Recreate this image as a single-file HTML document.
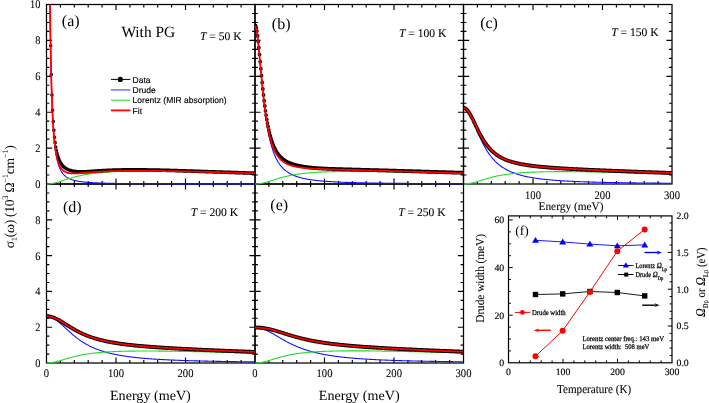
<!DOCTYPE html>
<html><head><meta charset="utf-8"><style>
html,body{margin:0;padding:0;background:#fff;}
body{width:709px;height:403px;overflow:hidden;}
svg{display:block;will-change:transform;}
text{text-rendering:geometricPrecision;}

</style></head><body>
<svg width="709" height="403" viewBox="0 0 709 403">
<defs><clipPath id="c00"><rect x="46.50" y="4.00" width="208.50" height="181.00"/></clipPath><clipPath id="c10"><rect x="255.00" y="4.00" width="208.50" height="181.00"/></clipPath><clipPath id="c20"><rect x="463.50" y="4.00" width="208.50" height="181.00"/></clipPath><clipPath id="c01"><rect x="46.50" y="183.50" width="208.50" height="180.50"/></clipPath><clipPath id="c11"><rect x="255.00" y="183.50" width="208.50" height="180.50"/></clipPath></defs>
<rect width="709" height="403" fill="#fff"/>
<rect x="46.50" y="4.50" width="208.50" height="179.50" fill="none" stroke="#000" stroke-width="1.25"/><path d="M60.40 184.00v-2.90M60.40 4.50v2.90M74.30 184.00v-2.90M74.30 4.50v2.90M88.20 184.00v-2.90M88.20 4.50v2.90M102.10 184.00v-2.90M102.10 4.50v2.90M116.00 184.00v-5.60M116.00 4.50v5.60M129.90 184.00v-2.90M129.90 4.50v2.90M143.80 184.00v-2.90M143.80 4.50v2.90M157.70 184.00v-2.90M157.70 4.50v2.90M171.60 184.00v-2.90M171.60 4.50v2.90M185.50 184.00v-5.60M185.50 4.50v5.60M199.40 184.00v-2.90M199.40 4.50v2.90M213.30 184.00v-2.90M213.30 4.50v2.90M227.20 184.00v-2.90M227.20 4.50v2.90M241.10 184.00v-2.90M241.10 4.50v2.90M46.50 175.03h2.90M255.00 175.03h-2.90M46.50 166.05h2.90M255.00 166.05h-2.90M46.50 157.07h2.90M255.00 157.07h-2.90M46.50 148.10h5.60M255.00 148.10h-5.60M46.50 139.12h2.90M255.00 139.12h-2.90M46.50 130.15h2.90M255.00 130.15h-2.90M46.50 121.17h2.90M255.00 121.17h-2.90M46.50 112.20h5.60M255.00 112.20h-5.60M46.50 103.22h2.90M255.00 103.22h-2.90M46.50 94.25h2.90M255.00 94.25h-2.90M46.50 85.28h2.90M255.00 85.28h-2.90M46.50 76.30h5.60M255.00 76.30h-5.60M46.50 67.33h2.90M255.00 67.33h-2.90M46.50 58.35h2.90M255.00 58.35h-2.90M46.50 49.38h2.90M255.00 49.38h-2.90M46.50 40.40h5.60M255.00 40.40h-5.60M46.50 31.43h2.90M255.00 31.43h-2.90M46.50 22.45h2.90M255.00 22.45h-2.90M46.50 13.47h2.90M255.00 13.47h-2.90" stroke="#000" stroke-width="1.15" fill="none"/>
<rect x="255.00" y="4.50" width="208.50" height="179.50" fill="none" stroke="#000" stroke-width="1.25"/><path d="M268.90 184.00v-2.90M268.90 4.50v2.90M282.80 184.00v-2.90M282.80 4.50v2.90M296.70 184.00v-2.90M296.70 4.50v2.90M310.60 184.00v-2.90M310.60 4.50v2.90M324.50 184.00v-5.60M324.50 4.50v5.60M338.40 184.00v-2.90M338.40 4.50v2.90M352.30 184.00v-2.90M352.30 4.50v2.90M366.20 184.00v-2.90M366.20 4.50v2.90M380.10 184.00v-2.90M380.10 4.50v2.90M394.00 184.00v-5.60M394.00 4.50v5.60M407.90 184.00v-2.90M407.90 4.50v2.90M421.80 184.00v-2.90M421.80 4.50v2.90M435.70 184.00v-2.90M435.70 4.50v2.90M449.60 184.00v-2.90M449.60 4.50v2.90M255.00 175.03h2.90M463.50 175.03h-2.90M255.00 166.05h2.90M463.50 166.05h-2.90M255.00 157.07h2.90M463.50 157.07h-2.90M255.00 148.10h5.60M463.50 148.10h-5.60M255.00 139.12h2.90M463.50 139.12h-2.90M255.00 130.15h2.90M463.50 130.15h-2.90M255.00 121.17h2.90M463.50 121.17h-2.90M255.00 112.20h5.60M463.50 112.20h-5.60M255.00 103.22h2.90M463.50 103.22h-2.90M255.00 94.25h2.90M463.50 94.25h-2.90M255.00 85.28h2.90M463.50 85.28h-2.90M255.00 76.30h5.60M463.50 76.30h-5.60M255.00 67.33h2.90M463.50 67.33h-2.90M255.00 58.35h2.90M463.50 58.35h-2.90M255.00 49.38h2.90M463.50 49.38h-2.90M255.00 40.40h5.60M463.50 40.40h-5.60M255.00 31.43h2.90M463.50 31.43h-2.90M255.00 22.45h2.90M463.50 22.45h-2.90M255.00 13.47h2.90M463.50 13.47h-2.90" stroke="#000" stroke-width="1.15" fill="none"/>
<rect x="463.50" y="4.50" width="208.50" height="179.50" fill="none" stroke="#000" stroke-width="1.25"/><path d="M477.40 184.00v-2.90M477.40 4.50v2.90M491.30 184.00v-2.90M491.30 4.50v2.90M505.20 184.00v-2.90M505.20 4.50v2.90M519.10 184.00v-2.90M519.10 4.50v2.90M533.00 184.00v-5.60M533.00 4.50v5.60M546.90 184.00v-2.90M546.90 4.50v2.90M560.80 184.00v-2.90M560.80 4.50v2.90M574.70 184.00v-2.90M574.70 4.50v2.90M588.60 184.00v-2.90M588.60 4.50v2.90M602.50 184.00v-5.60M602.50 4.50v5.60M616.40 184.00v-2.90M616.40 4.50v2.90M630.30 184.00v-2.90M630.30 4.50v2.90M644.20 184.00v-2.90M644.20 4.50v2.90M658.10 184.00v-2.90M658.10 4.50v2.90M463.50 175.03h2.90M672.00 175.03h-2.90M463.50 166.05h2.90M672.00 166.05h-2.90M463.50 157.07h2.90M672.00 157.07h-2.90M463.50 148.10h5.60M672.00 148.10h-5.60M463.50 139.12h2.90M672.00 139.12h-2.90M463.50 130.15h2.90M672.00 130.15h-2.90M463.50 121.17h2.90M672.00 121.17h-2.90M463.50 112.20h5.60M672.00 112.20h-5.60M463.50 103.22h2.90M672.00 103.22h-2.90M463.50 94.25h2.90M672.00 94.25h-2.90M463.50 85.28h2.90M672.00 85.28h-2.90M463.50 76.30h5.60M672.00 76.30h-5.60M463.50 67.33h2.90M672.00 67.33h-2.90M463.50 58.35h2.90M672.00 58.35h-2.90M463.50 49.38h2.90M672.00 49.38h-2.90M463.50 40.40h5.60M672.00 40.40h-5.60M463.50 31.43h2.90M672.00 31.43h-2.90M463.50 22.45h2.90M672.00 22.45h-2.90M463.50 13.47h2.90M672.00 13.47h-2.90" stroke="#000" stroke-width="1.15" fill="none"/>
<rect x="46.50" y="184.00" width="208.50" height="179.00" fill="none" stroke="#000" stroke-width="1.25"/><path d="M60.40 363.00v-2.90M60.40 184.00v2.90M74.30 363.00v-2.90M74.30 184.00v2.90M88.20 363.00v-2.90M88.20 184.00v2.90M102.10 363.00v-2.90M102.10 184.00v2.90M116.00 363.00v-5.60M116.00 184.00v5.60M129.90 363.00v-2.90M129.90 184.00v2.90M143.80 363.00v-2.90M143.80 184.00v2.90M157.70 363.00v-2.90M157.70 184.00v2.90M171.60 363.00v-2.90M171.60 184.00v2.90M185.50 363.00v-5.60M185.50 184.00v5.60M199.40 363.00v-2.90M199.40 184.00v2.90M213.30 363.00v-2.90M213.30 184.00v2.90M227.20 363.00v-2.90M227.20 184.00v2.90M241.10 363.00v-2.90M241.10 184.00v2.90M46.50 354.05h2.90M255.00 354.05h-2.90M46.50 345.10h2.90M255.00 345.10h-2.90M46.50 336.15h2.90M255.00 336.15h-2.90M46.50 327.20h5.60M255.00 327.20h-5.60M46.50 318.25h2.90M255.00 318.25h-2.90M46.50 309.30h2.90M255.00 309.30h-2.90M46.50 300.35h2.90M255.00 300.35h-2.90M46.50 291.40h5.60M255.00 291.40h-5.60M46.50 282.45h2.90M255.00 282.45h-2.90M46.50 273.50h2.90M255.00 273.50h-2.90M46.50 264.55h2.90M255.00 264.55h-2.90M46.50 255.60h5.60M255.00 255.60h-5.60M46.50 246.65h2.90M255.00 246.65h-2.90M46.50 237.70h2.90M255.00 237.70h-2.90M46.50 228.75h2.90M255.00 228.75h-2.90M46.50 219.80h5.60M255.00 219.80h-5.60M46.50 210.85h2.90M255.00 210.85h-2.90M46.50 201.90h2.90M255.00 201.90h-2.90M46.50 192.95h2.90M255.00 192.95h-2.90" stroke="#000" stroke-width="1.15" fill="none"/>
<rect x="255.00" y="184.00" width="208.50" height="179.00" fill="none" stroke="#000" stroke-width="1.25"/><path d="M268.90 363.00v-2.90M268.90 184.00v2.90M282.80 363.00v-2.90M282.80 184.00v2.90M296.70 363.00v-2.90M296.70 184.00v2.90M310.60 363.00v-2.90M310.60 184.00v2.90M324.50 363.00v-5.60M324.50 184.00v5.60M338.40 363.00v-2.90M338.40 184.00v2.90M352.30 363.00v-2.90M352.30 184.00v2.90M366.20 363.00v-2.90M366.20 184.00v2.90M380.10 363.00v-2.90M380.10 184.00v2.90M394.00 363.00v-5.60M394.00 184.00v5.60M407.90 363.00v-2.90M407.90 184.00v2.90M421.80 363.00v-2.90M421.80 184.00v2.90M435.70 363.00v-2.90M435.70 184.00v2.90M449.60 363.00v-2.90M449.60 184.00v2.90M255.00 354.05h2.90M463.50 354.05h-2.90M255.00 345.10h2.90M463.50 345.10h-2.90M255.00 336.15h2.90M463.50 336.15h-2.90M255.00 327.20h5.60M463.50 327.20h-5.60M255.00 318.25h2.90M463.50 318.25h-2.90M255.00 309.30h2.90M463.50 309.30h-2.90M255.00 300.35h2.90M463.50 300.35h-2.90M255.00 291.40h5.60M463.50 291.40h-5.60M255.00 282.45h2.90M463.50 282.45h-2.90M255.00 273.50h2.90M463.50 273.50h-2.90M255.00 264.55h2.90M463.50 264.55h-2.90M255.00 255.60h5.60M463.50 255.60h-5.60M255.00 246.65h2.90M463.50 246.65h-2.90M255.00 237.70h2.90M463.50 237.70h-2.90M255.00 228.75h2.90M463.50 228.75h-2.90M255.00 219.80h5.60M463.50 219.80h-5.60M255.00 210.85h2.90M463.50 210.85h-2.90M255.00 201.90h2.90M463.50 201.90h-2.90M255.00 192.95h2.90M463.50 192.95h-2.90" stroke="#000" stroke-width="1.15" fill="none"/>
<g clip-path="url(#c00)">
<polyline points="49.96,4.50 49.98,5.54 50.32,30.25 50.67,50.49 51.02,67.21 51.37,81.12 51.71,92.79 52.06,102.65 52.41,111.05 52.76,118.25 53.10,124.46 53.45,129.85 53.80,134.56 54.14,138.69 54.49,142.33 54.84,145.56 55.19,148.43 55.53,151.00 55.88,153.30 56.23,155.37 56.58,157.24 56.92,158.94 57.27,160.48 57.62,161.89 57.97,163.17 58.31,164.35 58.66,165.43 59.01,166.42 59.36,167.34 59.70,168.18 60.05,168.97 60.40,169.70 60.75,170.37 61.09,171.00 61.44,171.59 61.79,172.14 62.14,172.65 62.48,173.14 62.83,173.59 63.18,174.01 63.53,174.41 63.88,174.78 64.22,175.14 64.57,175.47 64.92,175.79 65.27,176.09 65.61,176.37 65.96,176.64 66.31,176.89 66.66,177.13 67.00,177.36 67.35,177.58 67.70,177.78 68.05,177.98 68.39,178.17 68.74,178.35 69.09,178.52 69.44,178.68 69.78,178.84 70.13,178.99 70.48,179.13 70.83,179.27 71.17,179.40 71.52,179.53 71.87,179.65 72.22,179.76 72.56,179.88 72.91,179.98 73.26,180.09 73.61,180.19 73.95,180.28 74.30,180.37 74.65,180.46 75.00,180.55 75.34,180.63 75.69,180.71 76.04,180.79 76.39,180.86 76.73,180.93 77.08,181.00 77.43,181.07 77.78,181.13 78.12,181.19 78.47,181.25 78.82,181.31 79.16,181.37 79.51,181.42 79.86,181.48 80.21,181.53 80.56,181.58 80.90,181.63 81.25,181.67 81.60,181.72 81.94,181.76 82.29,181.81 82.64,181.85 82.99,181.89 83.34,181.93 83.68,181.97 84.03,182.01 84.38,182.04 84.72,182.08 85.07,182.11 85.42,182.15 85.77,182.18 86.12,182.21 86.46,182.24 86.81,182.27 87.16,182.30 87.50,182.33 87.85,182.36 88.20,182.38 88.55,182.41 88.90,182.44 89.24,182.46 89.59,182.49 89.94,182.51 90.28,182.53 90.63,182.56 90.98,182.58 91.33,182.60 91.67,182.62 92.02,182.64 92.37,182.66 92.72,182.68 93.06,182.70 93.41,182.72 93.76,182.74 94.11,182.76 94.45,182.78 94.80,182.79 95.15,182.81 95.50,182.83 95.84,182.85 96.19,182.86 96.54,182.88 96.89,182.89 97.23,182.91 97.58,182.92 97.93,182.94 98.28,182.95 98.62,182.96 98.97,182.98 99.32,182.99 99.67,183.00 100.02,183.02 100.36,183.03 100.71,183.04 101.06,183.05 101.41,183.07 101.75,183.08 102.10,183.09 102.45,183.10 102.80,183.11 103.14,183.12 103.49,183.13 103.84,183.14 104.19,183.15 104.53,183.16 104.88,183.17 105.23,183.18 105.58,183.19 105.92,183.20 106.27,183.21 106.62,183.22 106.97,183.23 107.31,183.24 107.66,183.25 108.01,183.26 108.35,183.26 108.70,183.27 109.05,183.28 109.40,183.29 109.75,183.30 110.09,183.30 110.44,183.31 110.79,183.32 111.14,183.33 111.48,183.33 111.83,183.34 112.18,183.35 112.53,183.35 112.87,183.36 113.22,183.37 113.57,183.37 113.92,183.38 114.26,183.39 114.61,183.39 114.96,183.40 115.31,183.41 115.65,183.41 116.00,183.42 116.35,183.42 116.69,183.43 117.04,183.43 117.39,183.44 117.74,183.45 118.08,183.45 118.43,183.46 118.78,183.46 119.13,183.47 119.47,183.47 119.82,183.48 120.17,183.48 120.52,183.49 120.86,183.49 121.21,183.50 121.56,183.50 121.91,183.51 122.25,183.51 122.60,183.51 122.95,183.52 123.30,183.52 123.64,183.53 123.99,183.53 124.34,183.54 124.69,183.54 125.03,183.54 125.38,183.55 125.73,183.55 126.08,183.56 126.42,183.56 126.77,183.56 127.12,183.57 127.47,183.57 127.81,183.57 128.16,183.58 128.51,183.58 128.86,183.59 129.20,183.59 129.55,183.59 129.90,183.60 130.25,183.60 130.59,183.60 130.94,183.61 131.29,183.61 131.64,183.61 131.99,183.61 132.33,183.62 132.68,183.62 133.03,183.62 133.38,183.63 133.72,183.63 134.07,183.63 134.42,183.64 134.76,183.64 135.11,183.64 135.46,183.64 135.81,183.65 136.16,183.65 136.50,183.65 136.85,183.66 137.20,183.66 137.55,183.66 137.89,183.66 138.24,183.67 138.59,183.67 138.94,183.67 139.28,183.67 139.63,183.68 139.98,183.68 140.32,183.68 140.67,183.68 141.02,183.68 141.37,183.69 141.72,183.69 142.06,183.69 142.41,183.69 142.76,183.70 143.11,183.70 143.45,183.70 143.80,183.70 144.15,183.70 144.50,183.71 144.84,183.71 145.19,183.71 145.54,183.71 145.88,183.71 146.23,183.72 146.58,183.72 146.93,183.72 147.28,183.72 147.62,183.72 147.97,183.73 148.32,183.73 148.67,183.73 149.01,183.73 149.36,183.73 149.71,183.74 150.06,183.74 150.40,183.74 150.75,183.74 151.10,183.74 151.44,183.74 151.79,183.75 152.14,183.75 152.49,183.75 152.83,183.75 153.18,183.75 153.53,183.75 153.88,183.76 154.22,183.76 154.57,183.76 154.92,183.76 155.27,183.76 155.62,183.76 155.96,183.77 156.31,183.77 156.66,183.77 157.00,183.77 157.35,183.77 157.70,183.77 158.05,183.77 158.39,183.78 158.74,183.78 159.09,183.78 159.44,183.78 159.78,183.78 160.13,183.78 160.48,183.78 160.83,183.78 161.18,183.79 161.52,183.79 161.87,183.79 162.22,183.79 162.56,183.79 162.91,183.79 163.26,183.79 163.61,183.79 163.95,183.80 164.30,183.80 164.65,183.80 165.00,183.80 165.34,183.80 165.69,183.80 166.04,183.80 166.39,183.80 166.74,183.81 167.08,183.81 167.43,183.81 167.78,183.81 168.12,183.81 168.47,183.81 168.82,183.81 169.17,183.81 169.51,183.81 169.86,183.81 170.21,183.82 170.56,183.82 170.91,183.82 171.25,183.82 171.60,183.82 171.95,183.82 172.30,183.82 172.64,183.82 172.99,183.82 173.34,183.82 173.69,183.83 174.03,183.83 174.38,183.83 174.73,183.83 175.07,183.83 175.42,183.83 175.77,183.83 176.12,183.83 176.47,183.83 176.81,183.83 177.16,183.84 177.51,183.84 177.85,183.84 178.20,183.84 178.55,183.84 178.90,183.84 179.25,183.84 179.59,183.84 179.94,183.84 180.29,183.84 180.63,183.84 180.98,183.84 181.33,183.85 181.68,183.85 182.03,183.85 182.37,183.85 182.72,183.85 183.07,183.85 183.41,183.85 183.76,183.85 184.11,183.85 184.46,183.85 184.81,183.85 185.15,183.85 185.50,183.85 185.85,183.85 186.19,183.86 186.54,183.86 186.89,183.86 187.24,183.86 187.59,183.86 187.93,183.86 188.28,183.86 188.63,183.86 188.97,183.86 189.32,183.86 189.67,183.86 190.02,183.86 190.37,183.86 190.71,183.86 191.06,183.87 191.41,183.87 191.75,183.87 192.10,183.87 192.45,183.87 192.80,183.87 193.15,183.87 193.49,183.87 193.84,183.87 194.19,183.87 194.53,183.87 194.88,183.87 195.23,183.87 195.58,183.87 195.93,183.87 196.27,183.87 196.62,183.88 196.97,183.88 197.31,183.88 197.66,183.88 198.01,183.88 198.36,183.88 198.71,183.88 199.05,183.88 199.40,183.88 199.75,183.88 200.09,183.88 200.44,183.88 200.79,183.88 201.14,183.88 201.49,183.88 201.83,183.88 202.18,183.88 202.53,183.88 202.88,183.88 203.22,183.89 203.57,183.89 203.92,183.89 204.26,183.89 204.61,183.89 204.96,183.89 205.31,183.89 205.66,183.89 206.00,183.89 206.35,183.89 206.70,183.89 207.04,183.89 207.39,183.89 207.74,183.89 208.09,183.89 208.44,183.89 208.78,183.89 209.13,183.89 209.48,183.89 209.82,183.89 210.17,183.89 210.52,183.90 210.87,183.90 211.22,183.90 211.56,183.90 211.91,183.90 212.26,183.90 212.60,183.90 212.95,183.90 213.30,183.90 213.65,183.90 214.00,183.90 214.34,183.90 214.69,183.90 215.04,183.90 215.38,183.90 215.73,183.90 216.08,183.90 216.43,183.90 216.78,183.90 217.12,183.90 217.47,183.90 217.82,183.90 218.16,183.90 218.51,183.90 218.86,183.91 219.21,183.91 219.56,183.91 219.90,183.91 220.25,183.91 220.60,183.91 220.94,183.91 221.29,183.91 221.64,183.91 221.99,183.91 222.34,183.91 222.68,183.91 223.03,183.91 223.38,183.91 223.72,183.91 224.07,183.91 224.42,183.91 224.77,183.91 225.12,183.91 225.46,183.91 225.81,183.91 226.16,183.91 226.50,183.91 226.85,183.91 227.20,183.91 227.55,183.91 227.90,183.91 228.24,183.91 228.59,183.92 228.94,183.92 229.28,183.92 229.63,183.92 229.98,183.92 230.33,183.92 230.68,183.92 231.02,183.92 231.37,183.92 231.72,183.92 232.06,183.92 232.41,183.92 232.76,183.92 233.11,183.92 233.46,183.92 233.80,183.92 234.15,183.92 234.50,183.92 234.84,183.92 235.19,183.92 235.54,183.92 235.89,183.92 236.24,183.92 236.58,183.92 236.93,183.92 237.28,183.92 237.62,183.92 237.97,183.92 238.32,183.92 238.67,183.92 239.01,183.92 239.36,183.92 239.71,183.92 240.06,183.92 240.41,183.93 240.75,183.93 241.10,183.93 241.45,183.93 241.79,183.93 242.14,183.93 242.49,183.93 242.84,183.93 243.19,183.93 243.53,183.93 243.88,183.93 244.23,183.93 244.57,183.93 244.92,183.93 245.27,183.93 245.62,183.93 245.97,183.93 246.31,183.93 246.66,183.93 247.01,183.93 247.35,183.93 247.70,183.93 248.05,183.93 248.40,183.93 248.75,183.93 249.09,183.93 249.44,183.93 249.79,183.93 250.13,183.93 250.48,183.93 250.83,183.93 251.18,183.93 251.53,183.93 251.87,183.93 252.22,183.93 252.57,183.93 252.91,183.93 253.26,183.93 253.61,183.93 253.96,183.93 254.31,183.93 254.65,183.94 255.00,183.94" fill="none" stroke="#1010ff" stroke-width="1.1"/>
<polyline points="46.50,184.00 46.85,184.00 47.20,183.99 47.54,183.98 47.89,183.97 48.24,183.95 48.59,183.93 48.93,183.90 49.28,183.87 49.63,183.84 49.98,183.80 50.32,183.76 50.67,183.72 51.02,183.67 51.37,183.62 51.71,183.56 52.06,183.51 52.41,183.45 52.76,183.38 53.10,183.31 53.45,183.24 53.80,183.17 54.14,183.09 54.49,183.01 54.84,182.93 55.19,182.85 55.53,182.76 55.88,182.67 56.23,182.58 56.58,182.49 56.92,182.40 57.27,182.30 57.62,182.20 57.97,182.10 58.31,182.00 58.66,181.90 59.01,181.79 59.36,181.69 59.70,181.58 60.05,181.47 60.40,181.36 60.75,181.25 61.09,181.14 61.44,181.03 61.79,180.92 62.14,180.81 62.48,180.70 62.83,180.59 63.18,180.47 63.53,180.36 63.88,180.25 64.22,180.13 64.57,180.02 64.92,179.91 65.27,179.79 65.61,179.68 65.96,179.57 66.31,179.46 66.66,179.35 67.00,179.23 67.35,179.12 67.70,179.01 68.05,178.90 68.39,178.79 68.74,178.69 69.09,178.58 69.44,178.47 69.78,178.37 70.13,178.26 70.48,178.16 70.83,178.05 71.17,177.95 71.52,177.85 71.87,177.75 72.22,177.65 72.56,177.55 72.91,177.45 73.26,177.35 73.61,177.26 73.95,177.16 74.30,177.07 74.65,176.97 75.00,176.88 75.34,176.79 75.69,176.70 76.04,176.61 76.39,176.52 76.73,176.43 77.08,176.35 77.43,176.26 77.78,176.18 78.12,176.10 78.47,176.01 78.82,175.93 79.16,175.85 79.51,175.78 79.86,175.70 80.21,175.62 80.56,175.54 80.90,175.47 81.25,175.40 81.60,175.32 81.94,175.25 82.29,175.18 82.64,175.11 82.99,175.04 83.34,174.97 83.68,174.91 84.03,174.84 84.38,174.78 84.72,174.71 85.07,174.65 85.42,174.59 85.77,174.52 86.12,174.46 86.46,174.40 86.81,174.35 87.16,174.29 87.50,174.23 87.85,174.17 88.20,174.12 88.55,174.06 88.90,174.01 89.24,173.96 89.59,173.91 89.94,173.85 90.28,173.80 90.63,173.75 90.98,173.70 91.33,173.66 91.67,173.61 92.02,173.56 92.37,173.52 92.72,173.47 93.06,173.43 93.41,173.38 93.76,173.34 94.11,173.29 94.45,173.25 94.80,173.21 95.15,173.17 95.50,173.13 95.84,173.09 96.19,173.05 96.54,173.01 96.89,172.98 97.23,172.94 97.58,172.90 97.93,172.87 98.28,172.83 98.62,172.80 98.97,172.76 99.32,172.73 99.67,172.69 100.02,172.66 100.36,172.63 100.71,172.60 101.06,172.57 101.41,172.54 101.75,172.51 102.10,172.48 102.45,172.45 102.80,172.42 103.14,172.39 103.49,172.36 103.84,172.34 104.19,172.31 104.53,172.28 104.88,172.26 105.23,172.23 105.58,172.21 105.92,172.18 106.27,172.16 106.62,172.13 106.97,172.11 107.31,172.09 107.66,172.06 108.01,172.04 108.35,172.02 108.70,172.00 109.05,171.98 109.40,171.96 109.75,171.94 110.09,171.92 110.44,171.90 110.79,171.88 111.14,171.86 111.48,171.84 111.83,171.82 112.18,171.80 112.53,171.78 112.87,171.77 113.22,171.75 113.57,171.73 113.92,171.72 114.26,171.70 114.61,171.68 114.96,171.67 115.31,171.65 115.65,171.64 116.00,171.62 116.35,171.61 116.69,171.59 117.04,171.58 117.39,171.57 117.74,171.55 118.08,171.54 118.43,171.53 118.78,171.51 119.13,171.50 119.47,171.49 119.82,171.48 120.17,171.47 120.52,171.46 120.86,171.44 121.21,171.43 121.56,171.42 121.91,171.41 122.25,171.40 122.60,171.39 122.95,171.38 123.30,171.37 123.64,171.36 123.99,171.35 124.34,171.34 124.69,171.34 125.03,171.33 125.38,171.32 125.73,171.31 126.08,171.30 126.42,171.29 126.77,171.29 127.12,171.28 127.47,171.27 127.81,171.26 128.16,171.26 128.51,171.25 128.86,171.24 129.20,171.24 129.55,171.23 129.90,171.23 130.25,171.22 130.59,171.21 130.94,171.21 131.29,171.20 131.64,171.20 131.99,171.19 132.33,171.19 132.68,171.18 133.03,171.18 133.38,171.17 133.72,171.17 134.07,171.17 134.42,171.16 134.76,171.16 135.11,171.15 135.46,171.15 135.81,171.15 136.16,171.14 136.50,171.14 136.85,171.14 137.20,171.13 137.55,171.13 137.89,171.13 138.24,171.13 138.59,171.12 138.94,171.12 139.28,171.12 139.63,171.12 139.98,171.12 140.32,171.11 140.67,171.11 141.02,171.11 141.37,171.11 141.72,171.11 142.06,171.11 142.41,171.11 142.76,171.10 143.11,171.10 143.45,171.10 143.80,171.10 144.15,171.10 144.50,171.10 144.84,171.10 145.19,171.10 145.54,171.10 145.88,171.10 146.23,171.10 146.58,171.10 146.93,171.10 147.28,171.10 147.62,171.10 147.97,171.10 148.32,171.10 148.67,171.10 149.01,171.10 149.36,171.10 149.71,171.11 150.06,171.11 150.40,171.11 150.75,171.11 151.10,171.11 151.44,171.11 151.79,171.11 152.14,171.12 152.49,171.12 152.83,171.12 153.18,171.12 153.53,171.12 153.88,171.12 154.22,171.13 154.57,171.13 154.92,171.13 155.27,171.13 155.62,171.14 155.96,171.14 156.31,171.14 156.66,171.14 157.00,171.15 157.35,171.15 157.70,171.15 158.05,171.15 158.39,171.16 158.74,171.16 159.09,171.16 159.44,171.17 159.78,171.17 160.13,171.17 160.48,171.18 160.83,171.18 161.18,171.18 161.52,171.19 161.87,171.19 162.22,171.19 162.56,171.20 162.91,171.20 163.26,171.21 163.61,171.21 163.95,171.21 164.30,171.22 164.65,171.22 165.00,171.23 165.34,171.23 165.69,171.23 166.04,171.24 166.39,171.24 166.74,171.25 167.08,171.25 167.43,171.26 167.78,171.26 168.12,171.27 168.47,171.27 168.82,171.28 169.17,171.28 169.51,171.29 169.86,171.29 170.21,171.30 170.56,171.30 170.91,171.31 171.25,171.31 171.60,171.32 171.95,171.32 172.30,171.33 172.64,171.33 172.99,171.34 173.34,171.34 173.69,171.35 174.03,171.35 174.38,171.36 174.73,171.37 175.07,171.37 175.42,171.38 175.77,171.38 176.12,171.39 176.47,171.39 176.81,171.40 177.16,171.41 177.51,171.41 177.85,171.42 178.20,171.42 178.55,171.43 178.90,171.44 179.25,171.44 179.59,171.45 179.94,171.46 180.29,171.46 180.63,171.47 180.98,171.47 181.33,171.48 181.68,171.49 182.03,171.49 182.37,171.50 182.72,171.51 183.07,171.51 183.41,171.52 183.76,171.53 184.11,171.53 184.46,171.54 184.81,171.55 185.15,171.55 185.50,171.56 185.85,171.57 186.19,171.57 186.54,171.58 186.89,171.59 187.24,171.60 187.59,171.60 187.93,171.61 188.28,171.62 188.63,171.62 188.97,171.63 189.32,171.64 189.67,171.65 190.02,171.65 190.37,171.66 190.71,171.67 191.06,171.67 191.41,171.68 191.75,171.69 192.10,171.70 192.45,171.70 192.80,171.71 193.15,171.72 193.49,171.73 193.84,171.73 194.19,171.74 194.53,171.75 194.88,171.76 195.23,171.76 195.58,171.77 195.93,171.78 196.27,171.79 196.62,171.80 196.97,171.80 197.31,171.81 197.66,171.82 198.01,171.83 198.36,171.84 198.71,171.84 199.05,171.85 199.40,171.86 199.75,171.87 200.09,171.88 200.44,171.88 200.79,171.89 201.14,171.90 201.49,171.91 201.83,171.92 202.18,171.92 202.53,171.93 202.88,171.94 203.22,171.95 203.57,171.96 203.92,171.97 204.26,171.97 204.61,171.98 204.96,171.99 205.31,172.00 205.66,172.01 206.00,172.02 206.35,172.02 206.70,172.03 207.04,172.04 207.39,172.05 207.74,172.06 208.09,172.07 208.44,172.07 208.78,172.08 209.13,172.09 209.48,172.10 209.82,172.11 210.17,172.12 210.52,172.13 210.87,172.13 211.22,172.14 211.56,172.15 211.91,172.16 212.26,172.17 212.60,172.18 212.95,172.19 213.30,172.20 213.65,172.20 214.00,172.21 214.34,172.22 214.69,172.23 215.04,172.24 215.38,172.25 215.73,172.26 216.08,172.27 216.43,172.28 216.78,172.28 217.12,172.29 217.47,172.30 217.82,172.31 218.16,172.32 218.51,172.33 218.86,172.34 219.21,172.35 219.56,172.36 219.90,172.37 220.25,172.37 220.60,172.38 220.94,172.39 221.29,172.40 221.64,172.41 221.99,172.42 222.34,172.43 222.68,172.44 223.03,172.45 223.38,172.46 223.72,172.47 224.07,172.47 224.42,172.48 224.77,172.49 225.12,172.50 225.46,172.51 225.81,172.52 226.16,172.53 226.50,172.54 226.85,172.55 227.20,172.56 227.55,172.57 227.90,172.58 228.24,172.59 228.59,172.60 228.94,172.60 229.28,172.61 229.63,172.62 229.98,172.63 230.33,172.64 230.68,172.65 231.02,172.66 231.37,172.67 231.72,172.68 232.06,172.69 232.41,172.70 232.76,172.71 233.11,172.72 233.46,172.73 233.80,172.74 234.15,172.75 234.50,172.76 234.84,172.76 235.19,172.77 235.54,172.78 235.89,172.79 236.24,172.80 236.58,172.81 236.93,172.82 237.28,172.83 237.62,172.84 237.97,172.85 238.32,172.86 238.67,172.87 239.01,172.88 239.36,172.89 239.71,172.90 240.06,172.91 240.41,172.92 240.75,172.93 241.10,172.94 241.45,172.95 241.79,172.96 242.14,172.97 242.49,172.97 242.84,172.98 243.19,172.99 243.53,173.00 243.88,173.01 244.23,173.02 244.57,173.03 244.92,173.04 245.27,173.05 245.62,173.06 245.97,173.07 246.31,173.08 246.66,173.09 247.01,173.10 247.35,173.11 247.70,173.12 248.05,173.13 248.40,173.14 248.75,173.15 249.09,173.16 249.44,173.17 249.79,173.18 250.13,173.19 250.48,173.20 250.83,173.21 251.18,173.22 251.53,173.23 251.87,173.24 252.22,173.25 252.57,173.26 252.91,173.27 253.26,173.27 253.61,173.28 253.96,173.29 254.31,173.30 254.65,173.31 255.00,173.32" fill="none" stroke="#22dd22" stroke-width="1.1"/>
<path d="M50.65 45.77h0M51.29 74.43h0M51.93 95.02h0M52.57 110.18h0M53.21 121.60h0M53.85 130.37h0M54.49 137.22h0M55.12 142.65h0M55.76 147.02h0M56.40 150.57h0M57.04 153.49h0M57.68 155.91h0M58.32 157.94h0M58.96 159.65h0M59.60 161.11h0M60.24 162.36h0M60.88 163.43h0M61.52 164.36h0M62.16 165.18h0M62.80 165.89h0M63.44 166.53h0M64.08 167.09h0M64.72 167.59h0M65.36 168.04h0M65.99 168.45h0M66.63 168.81h0M67.27 169.15h0M67.91 169.45h0M68.55 169.73h0M69.19 169.98h0M69.83 170.21h0M70.47 170.42h0M71.11 170.61h0M71.75 170.79h0M72.39 170.94h0M73.03 171.09h0M73.67 171.21h0M74.31 171.33h0M74.95 171.43h0M75.59 171.52h0M76.23 171.60h0M76.86 171.66h0M77.50 171.72h0M78.14 171.76h0M78.78 171.80h0M79.42 171.83h0M80.06 171.85h0M80.70 171.86h0M81.34 171.86h0M81.98 171.86h0M82.62 171.85h0M83.26 171.84h0M83.90 171.82h0M84.54 171.79h0M85.18 171.77h0M85.82 171.74h0M86.46 171.70h0M87.09 171.67h0M87.73 171.63h0M88.37 171.59h0M89.01 171.54h0M89.65 171.50h0M90.29 171.45h0M90.93 171.41h0M91.57 171.36h0M92.21 171.32h0M92.85 171.27h0M93.49 171.22h0M94.13 171.18h0M94.77 171.13h0M95.41 171.08h0M96.05 171.04h0M96.69 170.99h0M97.33 170.95h0M97.96 170.91h0M98.60 170.87h0M99.24 170.82h0M99.88 170.78h0M100.52 170.74h0M101.16 170.70h0M101.80 170.67h0M102.44 170.63h0M103.08 170.59h0M103.72 170.56h0M104.36 170.52h0M105.00 170.49h0M105.64 170.46h0M106.28 170.43h0M106.92 170.40h0M107.56 170.37h0M108.20 170.34h0M108.83 170.31h0M109.47 170.28h0M110.11 170.26h0M110.75 170.23h0M111.39 170.21h0M112.03 170.19h0M112.67 170.16h0M113.31 170.14h0M113.95 170.12h0M114.59 170.10h0M115.23 170.08h0M115.87 170.07h0M116.51 170.05h0M117.15 170.03h0M117.79 170.02h0M118.43 170.00h0M119.06 169.99h0M119.70 169.97h0M120.34 169.96h0M120.98 169.95h0M121.62 169.93h0M122.26 169.92h0M122.90 169.91h0M123.54 169.90h0M124.18 169.89h0M124.82 169.89h0M125.46 169.88h0M126.10 169.87h0M126.74 169.87h0M127.38 169.86h0M128.02 169.85h0M128.66 169.85h0M129.30 169.85h0M129.93 169.84h0M130.57 169.84h0M131.21 169.84h0M131.85 169.83h0M132.49 169.83h0M133.13 169.83h0M133.77 169.83h0M134.41 169.83h0M135.05 169.83h0M135.69 169.83h0M136.33 169.84h0M136.97 169.84h0M137.61 169.84h0M138.25 169.84h0M138.89 169.85h0M139.53 169.85h0M140.17 169.85h0M140.80 169.86h0M141.44 169.86h0M142.08 169.87h0M142.72 169.88h0M143.36 169.88h0M144.00 169.89h0M144.64 169.90h0M145.28 169.90h0M145.92 169.91h0M146.56 169.92h0M147.20 169.93h0M147.84 169.94h0M148.48 169.95h0M149.12 169.96h0M149.76 169.97h0M150.40 169.98h0M151.03 169.99h0M151.67 170.00h0M152.31 170.01h0M152.95 170.02h0M153.59 170.04h0M154.23 170.05h0M154.87 170.06h0M155.51 170.07h0M156.15 170.09h0M156.79 170.10h0M157.43 170.11h0M158.07 170.13h0M158.71 170.14h0M159.35 170.16h0M159.99 170.17h0M160.63 170.19h0M161.27 170.20h0M161.90 170.22h0M162.54 170.23h0M163.18 170.25h0M163.82 170.27h0M164.46 170.28h0M165.10 170.30h0M165.74 170.32h0M166.38 170.33h0M167.02 170.35h0M167.66 170.37h0M168.30 170.38h0M168.94 170.40h0M169.58 170.42h0M170.22 170.44h0M170.86 170.46h0M171.50 170.48h0M172.14 170.49h0M172.77 170.51h0M173.41 170.53h0M174.05 170.55h0M174.69 170.57h0M175.33 170.59h0M175.97 170.61h0M176.61 170.63h0M177.25 170.65h0M177.89 170.67h0M178.53 170.69h0M179.17 170.71h0M179.81 170.73h0M180.45 170.75h0M181.09 170.77h0M181.73 170.79h0M182.37 170.81h0M183.00 170.83h0M183.64 170.85h0M184.28 170.87h0M184.92 170.89h0M185.56 170.91h0M186.20 170.93h0M186.84 170.95h0M187.48 170.97h0M188.12 171.00h0M188.76 171.02h0M189.40 171.04h0M190.04 171.06h0M190.68 171.08h0M191.32 171.10h0M191.96 171.12h0M192.60 171.14h0M193.24 171.17h0M193.87 171.19h0M194.51 171.21h0M195.15 171.23h0M195.79 171.25h0M196.43 171.27h0M197.07 171.30h0M197.71 171.32h0M198.35 171.34h0M198.99 171.36h0M199.63 171.38h0M200.27 171.41h0M200.91 171.43h0M201.55 171.45h0M202.19 171.47h0M202.83 171.49h0M203.47 171.51h0M204.11 171.54h0M204.74 171.56h0M205.38 171.58h0M206.02 171.60h0M206.66 171.62h0M207.30 171.65h0M207.94 171.67h0M208.58 171.69h0M209.22 171.71h0M209.86 171.73h0M210.50 171.75h0M211.14 171.78h0M211.78 171.80h0M212.42 171.82h0M213.06 171.84h0M213.70 171.86h0M214.34 171.89h0M214.97 171.91h0M215.61 171.93h0M216.25 171.95h0M216.89 171.97h0M217.53 171.99h0M218.17 172.02h0M218.81 172.04h0M219.45 172.06h0M220.09 172.08h0M220.73 172.10h0M221.37 172.12h0M222.01 172.14h0M222.65 172.17h0M223.29 172.19h0M223.93 172.21h0M224.57 172.23h0M225.21 172.25h0M225.84 172.27h0M226.48 172.29h0M227.12 172.32h0M227.76 172.34h0M228.40 172.36h0M229.04 172.38h0M229.68 172.40h0M230.32 172.42h0M230.96 172.44h0M231.60 172.46h0M232.24 172.48h0M232.88 172.51h0M233.52 172.53h0M234.16 172.55h0M234.80 172.57h0M235.44 172.59h0M236.08 172.61h0M236.71 172.63h0M237.35 172.65h0M237.99 172.67h0M238.63 172.69h0M239.27 172.71h0M239.91 172.73h0M240.55 172.75h0M241.19 172.77h0M241.83 172.79h0M242.47 172.82h0M243.11 172.84h0M243.75 172.86h0M244.39 172.88h0M245.03 172.90h0M245.67 172.92h0M246.31 172.94h0M246.94 172.96h0M247.58 172.98h0M248.22 173.00h0M248.86 173.02h0M249.50 173.04h0M250.14 173.06h0M250.78 173.08h0M251.42 173.10h0M252.06 173.12h0M252.70 173.14h0M253.34 173.16h0M253.98 173.18h0M254.62 173.20h0" stroke="#000" stroke-width="3.6" stroke-linecap="round" fill="none"/>
<polyline points="49.96,4.50 49.98,5.35 50.15,18.31 50.32,30.01 50.50,40.61 50.67,50.21 50.84,58.94 51.02,66.88 51.19,74.12 51.37,80.74 51.54,86.79 51.71,92.35 51.89,97.46 52.06,102.16 52.23,106.49 52.41,110.49 52.58,114.20 52.76,117.63 52.93,120.81 53.10,123.77 53.28,126.52 53.45,129.09 53.62,131.49 53.80,133.73 53.97,135.82 54.14,137.78 54.32,139.62 54.49,141.34 54.67,142.97 54.84,144.49 55.01,145.93 55.19,147.28 55.36,148.56 55.53,149.76 55.71,150.90 55.88,151.97 56.06,152.99 56.23,153.96 56.40,154.87 56.58,155.74 56.75,156.56 56.92,157.34 57.10,158.08 57.27,158.78 57.45,159.45 57.62,160.09 57.79,160.69 57.97,161.27 58.14,161.82 58.31,162.35 58.49,162.85 58.66,163.32 58.84,163.78 59.01,164.21 59.18,164.63 59.36,165.02 59.53,165.40 59.70,165.77 59.88,166.11 60.05,166.44 60.23,166.76 60.40,167.06 60.57,167.35 60.75,167.63 60.92,167.89 61.09,168.15 61.27,168.39 61.44,168.63 61.62,168.85 61.79,169.06 61.96,169.27 62.14,169.46 62.31,169.65 62.48,169.83 62.66,170.01 62.83,170.17 63.01,170.33 63.18,170.48 63.35,170.63 63.53,170.77 63.70,170.90 63.88,171.03 64.05,171.15 64.22,171.27 64.40,171.38 64.57,171.49 64.74,171.59 64.92,171.69 65.09,171.79 65.27,171.88 65.44,171.97 65.61,172.05 65.79,172.13 65.96,172.20 66.13,172.28 66.31,172.35 66.48,172.41 66.66,172.48 66.83,172.54 67.00,172.59 67.18,172.65 67.35,172.70 67.52,172.75 67.70,172.80 67.87,172.84 68.05,172.88 68.22,172.93 68.39,172.96 68.57,173.00 68.74,173.04 68.91,173.07 69.09,173.10 69.26,173.13 69.44,173.16 69.61,173.18 69.78,173.21 69.96,173.23 70.13,173.25 70.30,173.27 70.48,173.29 70.65,173.31 70.83,173.32 71.00,173.34 71.17,173.35 71.35,173.36 71.52,173.38 71.69,173.39 71.87,173.40 72.04,173.40 72.22,173.41 72.39,173.42 72.56,173.42 72.74,173.43 72.91,173.43 73.08,173.44 73.26,173.44 73.43,173.44 73.61,173.44 73.78,173.44 73.95,173.44 74.13,173.44 74.30,173.44 74.47,173.44 74.65,173.43 74.82,173.43 75.00,173.43 75.17,173.42 75.34,173.42 75.52,173.41 75.69,173.41 75.86,173.40 76.04,173.40 76.21,173.39 76.39,173.38 76.56,173.37 76.73,173.37 76.91,173.36 77.08,173.35 77.25,173.34 77.43,173.33 77.60,173.32 77.78,173.31 77.95,173.30 78.12,173.29 78.30,173.28 78.47,173.27 78.64,173.26 78.82,173.25 78.99,173.24 79.16,173.22 79.34,173.21 79.51,173.20 79.69,173.19 79.86,173.18 80.03,173.16 80.21,173.15 80.38,173.14 80.56,173.12 80.73,173.11 80.90,173.10 81.08,173.08 81.25,173.07 81.42,173.06 81.60,173.04 81.77,173.03 81.94,173.02 82.12,173.00 82.29,172.99 82.47,172.97 82.64,172.96 82.81,172.95 82.99,172.93 83.16,172.92 83.34,172.90 83.51,172.89 83.68,172.88 83.86,172.86 84.03,172.85 84.20,172.83 84.38,172.82 84.55,172.80 84.72,172.79 84.90,172.77 85.07,172.76 85.25,172.75 85.42,172.73 85.59,172.72 85.77,172.70 85.94,172.69 86.12,172.67 86.29,172.66 86.46,172.65 86.64,172.63 86.81,172.62 86.98,172.60 87.16,172.59 87.33,172.57 87.50,172.56 87.68,172.55 87.85,172.53 88.03,172.52 88.20,172.50 88.37,172.49 88.55,172.47 88.72,172.46 88.90,172.45 89.07,172.43 89.24,172.42 89.42,172.41 89.59,172.39 89.76,172.38 89.94,172.36 90.11,172.35 90.28,172.34 90.46,172.32 90.63,172.31 90.81,172.30 90.98,172.28 91.15,172.27 91.33,172.26 91.50,172.24 91.67,172.23 91.85,172.22 92.02,172.20 92.20,172.19 92.37,172.18 92.54,172.17 92.72,172.15 92.89,172.14 93.06,172.13 93.24,172.12 93.41,172.10 93.59,172.09 93.76,172.08 93.93,172.07 94.11,172.05 94.28,172.04 94.45,172.03 94.63,172.02 94.80,172.01 94.98,171.99 95.15,171.98 95.32,171.97 95.50,171.96 95.67,171.95 95.84,171.94 96.02,171.92 96.19,171.91 96.37,171.90 96.54,171.89 96.71,171.88 96.89,171.87 97.06,171.86 97.23,171.85 97.41,171.84 97.58,171.82 97.76,171.81 97.93,171.80 98.10,171.79 98.28,171.78 98.45,171.77 98.62,171.76 98.80,171.75 98.97,171.74 99.15,171.73 99.32,171.72 99.49,171.71 99.67,171.70 99.84,171.69 100.02,171.68 100.19,171.67 100.36,171.66 100.54,171.65 100.71,171.64 100.88,171.63 101.06,171.62 101.23,171.61 101.41,171.60 101.58,171.59 101.75,171.59 101.93,171.58 102.10,171.57 102.27,171.56 102.45,171.55 102.62,171.54 102.80,171.53 102.97,171.52 103.14,171.51 103.32,171.51 103.49,171.50 103.66,171.49 103.84,171.48 104.01,171.47 104.19,171.46 104.36,171.46 104.53,171.45 104.71,171.44 104.88,171.43 105.05,171.42 105.23,171.42 105.40,171.41 105.58,171.40 105.75,171.39 105.92,171.38 106.10,171.38 106.27,171.37 106.44,171.36 106.62,171.35 106.79,171.35 106.97,171.34 107.14,171.33 107.31,171.33 107.49,171.32 107.66,171.31 107.83,171.30 108.01,171.30 108.18,171.29 108.35,171.28 108.53,171.28 108.70,171.27 108.88,171.26 109.05,171.26 109.22,171.25 109.40,171.24 109.57,171.24 109.75,171.23 109.92,171.23 110.09,171.22 110.27,171.21 110.44,171.21 110.61,171.20 110.79,171.20 110.96,171.19 111.14,171.18 111.31,171.18 111.48,171.17 111.66,171.17 111.83,171.16 112.00,171.16 112.18,171.15 112.35,171.14 112.53,171.14 112.70,171.13 112.87,171.13 113.05,171.12 113.22,171.12 113.39,171.11 113.57,171.11 113.74,171.10 113.92,171.10 114.09,171.09 114.26,171.09 114.44,171.08 114.61,171.08 114.78,171.07 114.96,171.07 115.13,171.06 115.31,171.06 115.48,171.05 115.65,171.05 115.83,171.05 116.00,171.04 116.17,171.04 116.35,171.03 116.52,171.03 116.69,171.02 116.87,171.02 117.04,171.02 117.22,171.01 117.39,171.01 117.56,171.00 117.74,171.00 117.91,171.00 118.08,170.99 118.26,170.99 118.43,170.98 118.61,170.98 118.78,170.98 118.95,170.97 119.13,170.97 119.30,170.97 119.47,170.96 119.65,170.96 119.82,170.95 120.00,170.95 120.17,170.95 120.34,170.94 120.52,170.94 120.69,170.94 120.86,170.94 121.04,170.93 121.21,170.93 121.39,170.93 121.56,170.92 121.73,170.92 121.91,170.92 122.08,170.91 122.25,170.91 122.43,170.91 122.60,170.91 122.78,170.90 122.95,170.90 123.12,170.90 123.30,170.89 123.47,170.89 123.64,170.89 123.82,170.89 123.99,170.88 124.17,170.88 124.34,170.88 124.51,170.88 124.69,170.87 124.86,170.87 125.03,170.87 125.21,170.87 125.38,170.87 125.56,170.86 125.73,170.86 125.90,170.86 126.08,170.86 126.25,170.86 126.42,170.85 126.60,170.85 126.77,170.85 126.95,170.85 127.12,170.85 127.29,170.84 127.47,170.84 127.64,170.84 127.81,170.84 127.99,170.84 128.16,170.84 128.34,170.83 128.51,170.83 128.68,170.83 128.86,170.83 129.03,170.83 129.20,170.83 129.38,170.82 129.55,170.82 129.73,170.82 129.90,170.82 130.07,170.82 130.25,170.82 130.42,170.82 130.59,170.82 130.77,170.81 130.94,170.81 131.12,170.81 131.29,170.81 131.46,170.81 131.64,170.81 131.81,170.81 131.99,170.81 132.16,170.81 132.33,170.81 132.51,170.80 132.68,170.80 132.85,170.80 133.03,170.80 133.20,170.80 133.38,170.80 133.55,170.80 133.72,170.80 133.90,170.80 134.07,170.80 134.24,170.80 134.42,170.80 134.59,170.80 134.76,170.80 134.94,170.80 135.11,170.80 135.29,170.79 135.46,170.79 135.63,170.79 135.81,170.79 135.98,170.79 136.16,170.79 136.33,170.79 136.50,170.79 136.68,170.79 136.85,170.79 137.02,170.79 137.20,170.79 137.37,170.79 137.55,170.79 137.72,170.79 137.89,170.79 138.07,170.79 138.24,170.79 138.41,170.79 138.59,170.79 138.76,170.79 138.94,170.79 139.11,170.79 139.28,170.79 139.46,170.79 139.63,170.79 139.80,170.79 139.98,170.79 140.15,170.79 140.32,170.79 140.50,170.79 140.67,170.79 140.85,170.79 141.02,170.80 141.19,170.80 141.37,170.80 141.54,170.80 141.72,170.80 141.89,170.80 142.06,170.80 142.24,170.80 142.41,170.80 142.58,170.80 142.76,170.80 142.93,170.80 143.11,170.80 143.28,170.80 143.45,170.80 143.63,170.80 143.80,170.80 143.97,170.81 144.15,170.81 144.32,170.81 144.50,170.81 144.67,170.81 144.84,170.81 145.02,170.81 145.19,170.81 145.36,170.81 145.54,170.81 145.71,170.81 145.88,170.81 146.06,170.82 146.23,170.82 146.41,170.82 146.58,170.82 146.75,170.82 146.93,170.82 147.10,170.82 147.28,170.82 147.45,170.82 147.62,170.83 147.80,170.83 147.97,170.83 148.14,170.83 148.32,170.83 148.49,170.83 148.67,170.83 148.84,170.83 149.01,170.84 149.19,170.84 149.36,170.84 149.53,170.84 149.71,170.84 149.88,170.84 150.06,170.84 150.23,170.85 150.40,170.85 150.58,170.85 150.75,170.85 150.92,170.85 151.10,170.85 151.27,170.85 151.44,170.86 151.62,170.86 151.79,170.86 151.97,170.86 152.14,170.86 152.31,170.86 152.49,170.87 152.66,170.87 152.83,170.87 153.01,170.87 153.18,170.87 153.36,170.87 153.53,170.88 153.70,170.88 153.88,170.88 154.05,170.88 154.22,170.88 154.40,170.89 154.57,170.89 154.75,170.89 154.92,170.89 155.09,170.89 155.27,170.90 155.44,170.90 155.62,170.90 155.79,170.90 155.96,170.90 156.14,170.91 156.31,170.91 156.48,170.91 156.66,170.91 156.83,170.91 157.00,170.92 157.18,170.92 157.35,170.92 157.53,170.92 157.70,170.92 157.87,170.93 158.05,170.93 158.22,170.93 158.39,170.93 158.57,170.93 158.74,170.94 158.92,170.94 159.09,170.94 159.26,170.94 159.44,170.95 159.61,170.95 159.78,170.95 159.96,170.95 160.13,170.96 160.31,170.96 160.48,170.96 160.65,170.96 160.83,170.96 161.00,170.97 161.18,170.97 161.35,170.97 161.52,170.97 161.70,170.98 161.87,170.98 162.04,170.98 162.22,170.98 162.39,170.99 162.56,170.99 162.74,170.99 162.91,170.99 163.09,171.00 163.26,171.00 163.43,171.00 163.61,171.00 163.78,171.01 163.95,171.01 164.13,171.01 164.30,171.02 164.48,171.02 164.65,171.02 164.82,171.02 165.00,171.03 165.17,171.03 165.34,171.03 165.52,171.03 165.69,171.04 165.87,171.04 166.04,171.04 166.21,171.05 166.39,171.05 166.56,171.05 166.74,171.05 166.91,171.06 167.08,171.06 167.26,171.06 167.43,171.06 167.60,171.07 167.78,171.07 167.95,171.07 168.12,171.08 168.30,171.08 168.47,171.08 168.65,171.09 168.82,171.09 168.99,171.09 169.17,171.09 169.34,171.10 169.51,171.10 169.69,171.10 169.86,171.11 170.04,171.11 170.21,171.11 170.38,171.12 170.56,171.12 170.73,171.12 170.91,171.12 171.08,171.13 171.25,171.13 171.43,171.13 171.60,171.14 171.77,171.14 171.95,171.14 172.12,171.15 172.30,171.15 172.47,171.15 172.64,171.16 172.82,171.16 172.99,171.16 173.16,171.17 173.34,171.17 173.51,171.17 173.69,171.17 173.86,171.18 174.03,171.18 174.21,171.18 174.38,171.19 174.55,171.19 174.73,171.19 174.90,171.20 175.07,171.20 175.25,171.20 175.42,171.21 175.60,171.21 175.77,171.21 175.94,171.22 176.12,171.22 176.29,171.22 176.47,171.23 176.64,171.23 176.81,171.23 176.99,171.24 177.16,171.24 177.33,171.24 177.51,171.25 177.68,171.25 177.85,171.25 178.03,171.26 178.20,171.26 178.38,171.27 178.55,171.27 178.72,171.27 178.90,171.28 179.07,171.28 179.25,171.28 179.42,171.29 179.59,171.29 179.77,171.29 179.94,171.30 180.11,171.30 180.29,171.30 180.46,171.31 180.63,171.31 180.81,171.31 180.98,171.32 181.16,171.32 181.33,171.33 181.50,171.33 181.68,171.33 181.85,171.34 182.03,171.34 182.20,171.34 182.37,171.35 182.55,171.35 182.72,171.35 182.89,171.36 183.07,171.36 183.24,171.37 183.41,171.37 183.59,171.37 183.76,171.38 183.94,171.38 184.11,171.38 184.28,171.39 184.46,171.39 184.63,171.40 184.81,171.40 184.98,171.40 185.15,171.41 185.33,171.41 185.50,171.41 185.67,171.42 185.85,171.42 186.02,171.43 186.19,171.43 186.37,171.43 186.54,171.44 186.72,171.44 186.89,171.45 187.06,171.45 187.24,171.45 187.41,171.46 187.59,171.46 187.76,171.46 187.93,171.47 188.11,171.47 188.28,171.48 188.45,171.48 188.63,171.48 188.80,171.49 188.97,171.49 189.15,171.50 189.32,171.50 189.50,171.50 189.67,171.51 189.84,171.51 190.02,171.52 190.19,171.52 190.37,171.52 190.54,171.53 190.71,171.53 190.89,171.54 191.06,171.54 191.23,171.54 191.41,171.55 191.58,171.55 191.75,171.56 191.93,171.56 192.10,171.56 192.28,171.57 192.45,171.57 192.62,171.58 192.80,171.58 192.97,171.58 193.15,171.59 193.32,171.59 193.49,171.60 193.67,171.60 193.84,171.60 194.01,171.61 194.19,171.61 194.36,171.62 194.53,171.62 194.71,171.63 194.88,171.63 195.06,171.63 195.23,171.64 195.40,171.64 195.58,171.65 195.75,171.65 195.93,171.65 196.10,171.66 196.27,171.66 196.45,171.67 196.62,171.67 196.79,171.68 196.97,171.68 197.14,171.68 197.31,171.69 197.49,171.69 197.66,171.70 197.84,171.70 198.01,171.70 198.18,171.71 198.36,171.71 198.53,171.72 198.71,171.72 198.88,171.73 199.05,171.73 199.23,171.73 199.40,171.74 199.57,171.74 199.75,171.75 199.92,171.75 200.09,171.76 200.27,171.76 200.44,171.76 200.62,171.77 200.79,171.77 200.96,171.78 201.14,171.78 201.31,171.79 201.49,171.79 201.66,171.79 201.83,171.80 202.01,171.80 202.18,171.81 202.35,171.81 202.53,171.82 202.70,171.82 202.88,171.83 203.05,171.83 203.22,171.83 203.40,171.84 203.57,171.84 203.74,171.85 203.92,171.85 204.09,171.86 204.26,171.86 204.44,171.86 204.61,171.87 204.79,171.87 204.96,171.88 205.13,171.88 205.31,171.89 205.48,171.89 205.66,171.90 205.83,171.90 206.00,171.90 206.18,171.91 206.35,171.91 206.52,171.92 206.70,171.92 206.87,171.93 207.04,171.93 207.22,171.94 207.39,171.94 207.57,171.94 207.74,171.95 207.91,171.95 208.09,171.96 208.26,171.96 208.44,171.97 208.61,171.97 208.78,171.98 208.96,171.98 209.13,171.99 209.30,171.99 209.48,171.99 209.65,172.00 209.82,172.00 210.00,172.01 210.17,172.01 210.35,172.02 210.52,172.02 210.69,172.03 210.87,172.03 211.04,172.04 211.22,172.04 211.39,172.04 211.56,172.05 211.74,172.05 211.91,172.06 212.08,172.06 212.26,172.07 212.43,172.07 212.60,172.08 212.78,172.08 212.95,172.09 213.13,172.09 213.30,172.09 213.47,172.10 213.65,172.10 213.82,172.11 214.00,172.11 214.17,172.12 214.34,172.12 214.52,172.13 214.69,172.13 214.86,172.14 215.04,172.14 215.21,172.15 215.38,172.15 215.56,172.15 215.73,172.16 215.91,172.16 216.08,172.17 216.25,172.17 216.43,172.18 216.60,172.18 216.78,172.19 216.95,172.19 217.12,172.20 217.30,172.20 217.47,172.21 217.64,172.21 217.82,172.22 217.99,172.22 218.16,172.22 218.34,172.23 218.51,172.23 218.69,172.24 218.86,172.24 219.03,172.25 219.21,172.25 219.38,172.26 219.56,172.26 219.73,172.27 219.90,172.27 220.08,172.28 220.25,172.28 220.42,172.29 220.60,172.29 220.77,172.30 220.94,172.30 221.12,172.30 221.29,172.31 221.47,172.31 221.64,172.32 221.81,172.32 221.99,172.33 222.16,172.33 222.34,172.34 222.51,172.34 222.68,172.35 222.86,172.35 223.03,172.36 223.20,172.36 223.38,172.37 223.55,172.37 223.72,172.38 223.90,172.38 224.07,172.39 224.25,172.39 224.42,172.40 224.59,172.40 224.77,172.40 224.94,172.41 225.12,172.41 225.29,172.42 225.46,172.42 225.64,172.43 225.81,172.43 225.98,172.44 226.16,172.44 226.33,172.45 226.50,172.45 226.68,172.46 226.85,172.46 227.03,172.47 227.20,172.47 227.37,172.48 227.55,172.48 227.72,172.49 227.90,172.49 228.07,172.50 228.24,172.50 228.42,172.51 228.59,172.51 228.76,172.52 228.94,172.52 229.11,172.52 229.28,172.53 229.46,172.53 229.63,172.54 229.81,172.54 229.98,172.55 230.15,172.55 230.33,172.56 230.50,172.56 230.68,172.57 230.85,172.57 231.02,172.58 231.20,172.58 231.37,172.59 231.54,172.59 231.72,172.60 231.89,172.60 232.06,172.61 232.24,172.61 232.41,172.62 232.59,172.62 232.76,172.63 232.93,172.63 233.11,172.64 233.28,172.64 233.46,172.65 233.63,172.65 233.80,172.66 233.98,172.66 234.15,172.67 234.32,172.67 234.50,172.68 234.67,172.68 234.84,172.69 235.02,172.69 235.19,172.69 235.37,172.70 235.54,172.70 235.71,172.71 235.89,172.71 236.06,172.72 236.24,172.72 236.41,172.73 236.58,172.73 236.76,172.74 236.93,172.74 237.10,172.75 237.28,172.75 237.45,172.76 237.62,172.76 237.80,172.77 237.97,172.77 238.15,172.78 238.32,172.78 238.49,172.79 238.67,172.79 238.84,172.80 239.01,172.80 239.19,172.81 239.36,172.81 239.54,172.82 239.71,172.82 239.88,172.83 240.06,172.83 240.23,172.84 240.41,172.84 240.58,172.85 240.75,172.85 240.93,172.86 241.10,172.86 241.27,172.87 241.45,172.87 241.62,172.88 241.79,172.88 241.97,172.89 242.14,172.89 242.32,172.90 242.49,172.90 242.66,172.91 242.84,172.91 243.01,172.92 243.19,172.92 243.36,172.93 243.53,172.93 243.71,172.94 243.88,172.94 244.05,172.95 244.23,172.95 244.40,172.96 244.57,172.96 244.75,172.97 244.92,172.97 245.10,172.98 245.27,172.98 245.44,172.99 245.62,172.99 245.79,173.00 245.97,173.00 246.14,173.01 246.31,173.01 246.49,173.02 246.66,173.02 246.83,173.03 247.01,173.03 247.18,173.04 247.35,173.04 247.53,173.04 247.70,173.05 247.88,173.05 248.05,173.06 248.22,173.06 248.40,173.07 248.57,173.07 248.75,173.08 248.92,173.08 249.09,173.09 249.27,173.09 249.44,173.10 249.61,173.10 249.79,173.11 249.96,173.11 250.13,173.12 250.31,173.12 250.48,173.13 250.66,173.13 250.83,173.14 251.00,173.14 251.18,173.15 251.35,173.15 251.53,173.16 251.70,173.16 251.87,173.17 252.05,173.17 252.22,173.18 252.39,173.18 252.57,173.19 252.74,173.19 252.91,173.20 253.09,173.20 253.26,173.21 253.44,173.21 253.61,173.22 253.78,173.22 253.96,173.23 254.13,173.23 254.31,173.24 254.48,173.24 254.65,173.25 254.83,173.25 255.00,173.26" fill="none" stroke="#ff0000" stroke-width="1.8"/>
</g>
<g clip-path="url(#c10)">
<polyline points="255.00,26.24 255.35,26.46 255.69,27.12 256.04,28.19 256.39,29.68 256.74,31.55 257.08,33.77 257.43,36.32 257.78,39.15 258.13,42.23 258.48,45.52 258.82,48.99 259.17,52.59 259.52,56.29 259.87,60.06 260.21,63.87 260.56,67.70 260.91,71.51 261.25,75.28 261.60,79.01 261.95,82.67 262.30,86.26 262.64,89.75 262.99,93.15 263.34,96.45 263.69,99.65 264.04,102.73 264.38,105.71 264.73,108.57 265.08,111.33 265.43,113.98 265.77,116.52 266.12,118.96 266.47,121.30 266.81,123.54 267.16,125.69 267.51,127.75 267.86,129.71 268.20,131.60 268.55,133.40 268.90,135.12 269.25,136.77 269.60,138.35 269.94,139.86 270.29,141.31 270.64,142.70 270.99,144.02 271.33,145.29 271.68,146.51 272.03,147.67 272.38,148.79 272.72,149.86 273.07,150.89 273.42,151.88 273.76,152.82 274.11,153.73 274.46,154.60 274.81,155.44 275.15,156.24 275.50,157.02 275.85,157.76 276.20,158.48 276.55,159.16 276.89,159.83 277.24,160.46 277.59,161.08 277.94,161.67 278.28,162.24 278.63,162.79 278.98,163.32 279.32,163.83 279.67,164.33 280.02,164.80 280.37,165.26 280.71,165.71 281.06,166.14 281.41,166.55 281.76,166.95 282.11,167.34 282.45,167.72 282.80,168.08 283.15,168.43 283.50,168.77 283.84,169.11 284.19,169.43 284.54,169.74 284.88,170.04 285.23,170.33 285.58,170.61 285.93,170.88 286.27,171.15 286.62,171.41 286.97,171.66 287.32,171.90 287.67,172.14 288.01,172.37 288.36,172.59 288.71,172.81 289.06,173.02 289.40,173.23 289.75,173.43 290.10,173.62 290.44,173.81 290.79,174.00 291.14,174.18 291.49,174.35 291.83,174.52 292.18,174.69 292.53,174.85 292.88,175.01 293.23,175.16 293.57,175.31 293.92,175.46 294.27,175.60 294.62,175.74 294.96,175.87 295.31,176.01 295.66,176.14 296.00,176.26 296.35,176.38 296.70,176.51 297.05,176.62 297.39,176.74 297.74,176.85 298.09,176.96 298.44,177.07 298.78,177.17 299.13,177.27 299.48,177.37 299.83,177.47 300.18,177.57 300.52,177.66 300.87,177.75 301.22,177.84 301.56,177.93 301.91,178.02 302.26,178.10 302.61,178.19 302.95,178.27 303.30,178.35 303.65,178.42 304.00,178.50 304.35,178.57 304.69,178.65 305.04,178.72 305.39,178.79 305.74,178.86 306.08,178.93 306.43,178.99 306.78,179.06 307.12,179.12 307.47,179.18 307.82,179.24 308.17,179.30 308.51,179.36 308.86,179.42 309.21,179.48 309.56,179.53 309.90,179.59 310.25,179.64 310.60,179.69 310.95,179.75 311.30,179.80 311.64,179.85 311.99,179.90 312.34,179.95 312.69,179.99 313.03,180.04 313.38,180.09 313.73,180.13 314.07,180.17 314.42,180.22 314.77,180.26 315.12,180.30 315.47,180.34 315.81,180.38 316.16,180.42 316.51,180.46 316.86,180.50 317.20,180.54 317.55,180.58 317.90,180.62 318.25,180.65 318.59,180.69 318.94,180.72 319.29,180.76 319.63,180.79 319.98,180.82 320.33,180.86 320.68,180.89 321.02,180.92 321.37,180.95 321.72,180.99 322.07,181.02 322.42,181.05 322.76,181.08 323.11,181.10 323.46,181.13 323.81,181.16 324.15,181.19 324.50,181.22 324.85,181.24 325.19,181.27 325.54,181.30 325.89,181.32 326.24,181.35 326.58,181.37 326.93,181.40 327.28,181.42 327.63,181.45 327.98,181.47 328.32,181.50 328.67,181.52 329.02,181.54 329.37,181.56 329.71,181.59 330.06,181.61 330.41,181.63 330.75,181.65 331.10,181.67 331.45,181.69 331.80,181.71 332.14,181.73 332.49,181.75 332.84,181.77 333.19,181.79 333.53,181.81 333.88,181.83 334.23,181.85 334.58,181.87 334.93,181.89 335.27,181.90 335.62,181.92 335.97,181.94 336.31,181.96 336.66,181.97 337.01,181.99 337.36,182.01 337.70,182.02 338.05,182.04 338.40,182.06 338.75,182.07 339.10,182.09 339.44,182.10 339.79,182.12 340.14,182.13 340.49,182.15 340.83,182.16 341.18,182.18 341.53,182.19 341.88,182.21 342.22,182.22 342.57,182.24 342.92,182.25 343.26,182.26 343.61,182.28 343.96,182.29 344.31,182.30 344.65,182.32 345.00,182.33 345.35,182.34 345.70,182.35 346.05,182.37 346.39,182.38 346.74,182.39 347.09,182.40 347.44,182.41 347.78,182.43 348.13,182.44 348.48,182.45 348.82,182.46 349.17,182.47 349.52,182.48 349.87,182.49 350.22,182.51 350.56,182.52 350.91,182.53 351.26,182.54 351.61,182.55 351.95,182.56 352.30,182.57 352.65,182.58 353.00,182.59 353.34,182.60 353.69,182.61 354.04,182.62 354.38,182.63 354.73,182.64 355.08,182.65 355.43,182.65 355.77,182.66 356.12,182.67 356.47,182.68 356.82,182.69 357.17,182.70 357.51,182.71 357.86,182.72 358.21,182.73 358.56,182.73 358.90,182.74 359.25,182.75 359.60,182.76 359.94,182.77 360.29,182.78 360.64,182.78 360.99,182.79 361.33,182.80 361.68,182.81 362.03,182.81 362.38,182.82 362.73,182.83 363.07,182.84 363.42,182.84 363.77,182.85 364.12,182.86 364.46,182.87 364.81,182.87 365.16,182.88 365.50,182.89 365.85,182.89 366.20,182.90 366.55,182.91 366.89,182.91 367.24,182.92 367.59,182.93 367.94,182.93 368.28,182.94 368.63,182.95 368.98,182.95 369.33,182.96 369.68,182.97 370.02,182.97 370.37,182.98 370.72,182.98 371.06,182.99 371.41,183.00 371.76,183.00 372.11,183.01 372.45,183.01 372.80,183.02 373.15,183.03 373.50,183.03 373.85,183.04 374.19,183.04 374.54,183.05 374.89,183.05 375.24,183.06 375.58,183.06 375.93,183.07 376.28,183.08 376.62,183.08 376.97,183.09 377.32,183.09 377.67,183.10 378.01,183.10 378.36,183.11 378.71,183.11 379.06,183.12 379.40,183.12 379.75,183.13 380.10,183.13 380.45,183.14 380.80,183.14 381.14,183.14 381.49,183.15 381.84,183.15 382.19,183.16 382.53,183.16 382.88,183.17 383.23,183.17 383.57,183.18 383.92,183.18 384.27,183.19 384.62,183.19 384.97,183.19 385.31,183.20 385.66,183.20 386.01,183.21 386.36,183.21 386.70,183.22 387.05,183.22 387.40,183.22 387.75,183.23 388.09,183.23 388.44,183.24 388.79,183.24 389.13,183.24 389.48,183.25 389.83,183.25 390.18,183.25 390.52,183.26 390.87,183.26 391.22,183.27 391.57,183.27 391.91,183.27 392.26,183.28 392.61,183.28 392.96,183.28 393.31,183.29 393.65,183.29 394.00,183.29 394.35,183.30 394.69,183.30 395.04,183.31 395.39,183.31 395.74,183.31 396.09,183.32 396.43,183.32 396.78,183.32 397.13,183.33 397.48,183.33 397.82,183.33 398.17,183.34 398.52,183.34 398.87,183.34 399.21,183.34 399.56,183.35 399.91,183.35 400.25,183.35 400.60,183.36 400.95,183.36 401.30,183.36 401.64,183.37 401.99,183.37 402.34,183.37 402.69,183.38 403.03,183.38 403.38,183.38 403.73,183.38 404.08,183.39 404.43,183.39 404.77,183.39 405.12,183.40 405.47,183.40 405.81,183.40 406.16,183.40 406.51,183.41 406.86,183.41 407.21,183.41 407.55,183.41 407.90,183.42 408.25,183.42 408.60,183.42 408.94,183.42 409.29,183.43 409.64,183.43 409.99,183.43 410.33,183.43 410.68,183.44 411.03,183.44 411.38,183.44 411.72,183.44 412.07,183.45 412.42,183.45 412.76,183.45 413.11,183.45 413.46,183.46 413.81,183.46 414.15,183.46 414.50,183.46 414.85,183.47 415.20,183.47 415.54,183.47 415.89,183.47 416.24,183.48 416.59,183.48 416.94,183.48 417.28,183.48 417.63,183.48 417.98,183.49 418.32,183.49 418.67,183.49 419.02,183.49 419.37,183.50 419.72,183.50 420.06,183.50 420.41,183.50 420.76,183.50 421.11,183.51 421.45,183.51 421.80,183.51 422.15,183.51 422.50,183.51 422.84,183.52 423.19,183.52 423.54,183.52 423.88,183.52 424.23,183.52 424.58,183.53 424.93,183.53 425.27,183.53 425.62,183.53 425.97,183.53 426.32,183.54 426.66,183.54 427.01,183.54 427.36,183.54 427.71,183.54 428.06,183.54 428.40,183.55 428.75,183.55 429.10,183.55 429.44,183.55 429.79,183.55 430.14,183.56 430.49,183.56 430.84,183.56 431.18,183.56 431.53,183.56 431.88,183.56 432.23,183.57 432.57,183.57 432.92,183.57 433.27,183.57 433.62,183.57 433.96,183.57 434.31,183.58 434.66,183.58 435.00,183.58 435.35,183.58 435.70,183.58 436.05,183.58 436.39,183.59 436.74,183.59 437.09,183.59 437.44,183.59 437.78,183.59 438.13,183.59 438.48,183.59 438.83,183.60 439.18,183.60 439.52,183.60 439.87,183.60 440.22,183.60 440.56,183.60 440.91,183.61 441.26,183.61 441.61,183.61 441.96,183.61 442.30,183.61 442.65,183.61 443.00,183.61 443.35,183.62 443.69,183.62 444.04,183.62 444.39,183.62 444.74,183.62 445.08,183.62 445.43,183.62 445.78,183.62 446.12,183.63 446.47,183.63 446.82,183.63 447.17,183.63 447.51,183.63 447.86,183.63 448.21,183.63 448.56,183.64 448.90,183.64 449.25,183.64 449.60,183.64 449.95,183.64 450.29,183.64 450.64,183.64 450.99,183.64 451.34,183.65 451.69,183.65 452.03,183.65 452.38,183.65 452.73,183.65 453.07,183.65 453.42,183.65 453.77,183.65 454.12,183.66 454.47,183.66 454.81,183.66 455.16,183.66 455.51,183.66 455.86,183.66 456.20,183.66 456.55,183.66 456.90,183.67 457.25,183.67 457.59,183.67 457.94,183.67 458.29,183.67 458.63,183.67 458.98,183.67 459.33,183.67 459.68,183.67 460.02,183.68 460.37,183.68 460.72,183.68 461.07,183.68 461.41,183.68 461.76,183.68 462.11,183.68 462.46,183.68 462.81,183.68 463.15,183.68 463.50,183.69" fill="none" stroke="#1010ff" stroke-width="1.1"/>
<polyline points="255.00,184.00 255.35,184.00 255.69,183.99 256.04,183.98 256.39,183.97 256.74,183.95 257.08,183.93 257.43,183.91 257.78,183.88 258.13,183.84 258.48,183.81 258.82,183.77 259.17,183.73 259.52,183.68 259.87,183.63 260.21,183.58 260.56,183.52 260.91,183.46 261.25,183.40 261.60,183.33 261.95,183.26 262.30,183.19 262.64,183.12 262.99,183.04 263.34,182.96 263.69,182.88 264.04,182.79 264.38,182.71 264.73,182.62 265.08,182.53 265.43,182.44 265.77,182.34 266.12,182.24 266.47,182.15 266.81,182.05 267.16,181.95 267.51,181.85 267.86,181.74 268.20,181.64 268.55,181.53 268.90,181.43 269.25,181.32 269.60,181.21 269.94,181.11 270.29,181.00 270.64,180.89 270.99,180.78 271.33,180.67 271.68,180.56 272.03,180.45 272.38,180.34 272.72,180.23 273.07,180.12 273.42,180.01 273.76,179.90 274.11,179.79 274.46,179.68 274.81,179.57 275.15,179.46 275.50,179.35 275.85,179.24 276.20,179.13 276.55,179.03 276.89,178.92 277.24,178.81 277.59,178.71 277.94,178.61 278.28,178.50 278.63,178.40 278.98,178.30 279.32,178.20 279.67,178.10 280.02,178.00 280.37,177.90 280.71,177.80 281.06,177.70 281.41,177.61 281.76,177.51 282.11,177.42 282.45,177.33 282.80,177.23 283.15,177.14 283.50,177.05 283.84,176.96 284.19,176.88 284.54,176.79 284.88,176.70 285.23,176.62 285.58,176.53 285.93,176.45 286.27,176.37 286.62,176.29 286.97,176.21 287.32,176.13 287.67,176.05 288.01,175.97 288.36,175.90 288.71,175.82 289.06,175.75 289.40,175.68 289.75,175.60 290.10,175.53 290.44,175.46 290.79,175.39 291.14,175.33 291.49,175.26 291.83,175.19 292.18,175.13 292.53,175.06 292.88,175.00 293.23,174.94 293.57,174.87 293.92,174.81 294.27,174.75 294.62,174.69 294.96,174.64 295.31,174.58 295.66,174.52 296.00,174.47 296.35,174.41 296.70,174.36 297.05,174.30 297.39,174.25 297.74,174.20 298.09,174.15 298.44,174.10 298.78,174.05 299.13,174.00 299.48,173.95 299.83,173.91 300.18,173.86 300.52,173.81 300.87,173.77 301.22,173.72 301.56,173.68 301.91,173.64 302.26,173.59 302.61,173.55 302.95,173.51 303.30,173.47 303.65,173.43 304.00,173.39 304.35,173.35 304.69,173.32 305.04,173.28 305.39,173.24 305.74,173.21 306.08,173.17 306.43,173.13 306.78,173.10 307.12,173.07 307.47,173.03 307.82,173.00 308.17,172.97 308.51,172.94 308.86,172.90 309.21,172.87 309.56,172.84 309.90,172.81 310.25,172.78 310.60,172.75 310.95,172.73 311.30,172.70 311.64,172.67 311.99,172.64 312.34,172.62 312.69,172.59 313.03,172.57 313.38,172.54 313.73,172.52 314.07,172.49 314.42,172.47 314.77,172.44 315.12,172.42 315.47,172.40 315.81,172.37 316.16,172.35 316.51,172.33 316.86,172.31 317.20,172.29 317.55,172.27 317.90,172.25 318.25,172.23 318.59,172.21 318.94,172.19 319.29,172.17 319.63,172.15 319.98,172.13 320.33,172.11 320.68,172.10 321.02,172.08 321.37,172.06 321.72,172.05 322.07,172.03 322.42,172.01 322.76,172.00 323.11,171.98 323.46,171.97 323.81,171.95 324.15,171.94 324.50,171.92 324.85,171.91 325.19,171.89 325.54,171.88 325.89,171.87 326.24,171.85 326.58,171.84 326.93,171.83 327.28,171.82 327.63,171.80 327.98,171.79 328.32,171.78 328.67,171.77 329.02,171.76 329.37,171.75 329.71,171.74 330.06,171.73 330.41,171.72 330.75,171.71 331.10,171.70 331.45,171.69 331.80,171.68 332.14,171.67 332.49,171.66 332.84,171.65 333.19,171.64 333.53,171.63 333.88,171.62 334.23,171.62 334.58,171.61 334.93,171.60 335.27,171.59 335.62,171.59 335.97,171.58 336.31,171.57 336.66,171.57 337.01,171.56 337.36,171.55 337.70,171.55 338.05,171.54 338.40,171.53 338.75,171.53 339.10,171.52 339.44,171.52 339.79,171.51 340.14,171.51 340.49,171.50 340.83,171.50 341.18,171.49 341.53,171.49 341.88,171.48 342.22,171.48 342.57,171.47 342.92,171.47 343.26,171.47 343.61,171.46 343.96,171.46 344.31,171.46 344.65,171.45 345.00,171.45 345.35,171.45 345.70,171.44 346.05,171.44 346.39,171.44 346.74,171.44 347.09,171.43 347.44,171.43 347.78,171.43 348.13,171.43 348.48,171.43 348.82,171.42 349.17,171.42 349.52,171.42 349.87,171.42 350.22,171.42 350.56,171.42 350.91,171.42 351.26,171.42 351.61,171.41 351.95,171.41 352.30,171.41 352.65,171.41 353.00,171.41 353.34,171.41 353.69,171.41 354.04,171.41 354.38,171.41 354.73,171.41 355.08,171.41 355.43,171.41 355.77,171.41 356.12,171.41 356.47,171.41 356.82,171.41 357.17,171.41 357.51,171.41 357.86,171.42 358.21,171.42 358.56,171.42 358.90,171.42 359.25,171.42 359.60,171.42 359.94,171.42 360.29,171.42 360.64,171.43 360.99,171.43 361.33,171.43 361.68,171.43 362.03,171.43 362.38,171.43 362.73,171.44 363.07,171.44 363.42,171.44 363.77,171.44 364.12,171.45 364.46,171.45 364.81,171.45 365.16,171.45 365.50,171.46 365.85,171.46 366.20,171.46 366.55,171.46 366.89,171.47 367.24,171.47 367.59,171.47 367.94,171.48 368.28,171.48 368.63,171.48 368.98,171.49 369.33,171.49 369.68,171.49 370.02,171.50 370.37,171.50 370.72,171.50 371.06,171.51 371.41,171.51 371.76,171.51 372.11,171.52 372.45,171.52 372.80,171.53 373.15,171.53 373.50,171.53 373.85,171.54 374.19,171.54 374.54,171.55 374.89,171.55 375.24,171.56 375.58,171.56 375.93,171.56 376.28,171.57 376.62,171.57 376.97,171.58 377.32,171.58 377.67,171.59 378.01,171.59 378.36,171.60 378.71,171.60 379.06,171.61 379.40,171.61 379.75,171.62 380.10,171.62 380.45,171.63 380.80,171.63 381.14,171.64 381.49,171.64 381.84,171.65 382.19,171.65 382.53,171.66 382.88,171.66 383.23,171.67 383.57,171.68 383.92,171.68 384.27,171.69 384.62,171.69 384.97,171.70 385.31,171.70 385.66,171.71 386.01,171.72 386.36,171.72 386.70,171.73 387.05,171.73 387.40,171.74 387.75,171.75 388.09,171.75 388.44,171.76 388.79,171.76 389.13,171.77 389.48,171.78 389.83,171.78 390.18,171.79 390.52,171.80 390.87,171.80 391.22,171.81 391.57,171.81 391.91,171.82 392.26,171.83 392.61,171.83 392.96,171.84 393.31,171.85 393.65,171.85 394.00,171.86 394.35,171.87 394.69,171.87 395.04,171.88 395.39,171.89 395.74,171.89 396.09,171.90 396.43,171.91 396.78,171.92 397.13,171.92 397.48,171.93 397.82,171.94 398.17,171.94 398.52,171.95 398.87,171.96 399.21,171.96 399.56,171.97 399.91,171.98 400.25,171.99 400.60,171.99 400.95,172.00 401.30,172.01 401.64,172.02 401.99,172.02 402.34,172.03 402.69,172.04 403.03,172.05 403.38,172.05 403.73,172.06 404.08,172.07 404.43,172.08 404.77,172.08 405.12,172.09 405.47,172.10 405.81,172.11 406.16,172.11 406.51,172.12 406.86,172.13 407.21,172.14 407.55,172.14 407.90,172.15 408.25,172.16 408.60,172.17 408.94,172.18 409.29,172.18 409.64,172.19 409.99,172.20 410.33,172.21 410.68,172.22 411.03,172.22 411.38,172.23 411.72,172.24 412.07,172.25 412.42,172.26 412.76,172.26 413.11,172.27 413.46,172.28 413.81,172.29 414.15,172.30 414.50,172.30 414.85,172.31 415.20,172.32 415.54,172.33 415.89,172.34 416.24,172.35 416.59,172.35 416.94,172.36 417.28,172.37 417.63,172.38 417.98,172.39 418.32,172.40 418.67,172.40 419.02,172.41 419.37,172.42 419.72,172.43 420.06,172.44 420.41,172.45 420.76,172.46 421.11,172.46 421.45,172.47 421.80,172.48 422.15,172.49 422.50,172.50 422.84,172.51 423.19,172.52 423.54,172.52 423.88,172.53 424.23,172.54 424.58,172.55 424.93,172.56 425.27,172.57 425.62,172.58 425.97,172.58 426.32,172.59 426.66,172.60 427.01,172.61 427.36,172.62 427.71,172.63 428.06,172.64 428.40,172.65 428.75,172.65 429.10,172.66 429.44,172.67 429.79,172.68 430.14,172.69 430.49,172.70 430.84,172.71 431.18,172.72 431.53,172.73 431.88,172.73 432.23,172.74 432.57,172.75 432.92,172.76 433.27,172.77 433.62,172.78 433.96,172.79 434.31,172.80 434.66,172.81 435.00,172.82 435.35,172.82 435.70,172.83 436.05,172.84 436.39,172.85 436.74,172.86 437.09,172.87 437.44,172.88 437.78,172.89 438.13,172.90 438.48,172.91 438.83,172.92 439.18,172.93 439.52,172.93 439.87,172.94 440.22,172.95 440.56,172.96 440.91,172.97 441.26,172.98 441.61,172.99 441.96,173.00 442.30,173.01 442.65,173.02 443.00,173.03 443.35,173.04 443.69,173.04 444.04,173.05 444.39,173.06 444.74,173.07 445.08,173.08 445.43,173.09 445.78,173.10 446.12,173.11 446.47,173.12 446.82,173.13 447.17,173.14 447.51,173.15 447.86,173.16 448.21,173.17 448.56,173.18 448.90,173.18 449.25,173.19 449.60,173.20 449.95,173.21 450.29,173.22 450.64,173.23 450.99,173.24 451.34,173.25 451.69,173.26 452.03,173.27 452.38,173.28 452.73,173.29 453.07,173.30 453.42,173.31 453.77,173.32 454.12,173.33 454.47,173.33 454.81,173.34 455.16,173.35 455.51,173.36 455.86,173.37 456.20,173.38 456.55,173.39 456.90,173.40 457.25,173.41 457.59,173.42 457.94,173.43 458.29,173.44 458.63,173.45 458.98,173.46 459.33,173.47 459.68,173.48 460.02,173.49 460.37,173.50 460.72,173.51 461.07,173.51 461.41,173.52 461.76,173.53 462.11,173.54 462.46,173.55 462.81,173.56 463.15,173.57 463.50,173.58" fill="none" stroke="#22dd22" stroke-width="1.1"/>
<path d="M255.56 25.60h0M256.22 27.64h0M256.88 31.09h0M257.54 35.76h0M258.20 41.40h0M258.86 47.75h0M259.52 54.58h0M260.18 61.64h0M260.84 68.73h0M261.51 75.72h0M262.17 82.47h0M262.83 88.91h0M263.49 94.99h0M264.15 100.67h0M264.81 105.96h0M265.47 110.84h0M266.13 115.33h0M266.79 119.46h0M267.45 123.24h0M268.11 126.70h0M268.77 129.86h0M269.43 132.75h0M270.09 135.38h0M270.75 137.79h0M271.41 139.98h0M272.07 141.99h0M272.73 143.83h0M273.39 145.50h0M274.05 147.04h0M274.71 148.45h0M275.37 149.75h0M276.03 150.93h0M276.69 152.03h0M277.35 153.03h0M278.01 153.96h0M278.67 154.82h0M279.33 155.61h0M279.99 156.35h0M280.65 157.03h0M281.31 157.66h0M281.97 158.25h0M282.63 158.80h0M283.29 159.31h0M283.95 159.79h0M284.61 160.24h0M285.27 160.66h0M285.93 161.06h0M286.59 161.43h0M287.25 161.78h0M287.92 162.11h0M288.58 162.42h0M289.24 162.72h0M289.90 163.00h0M290.56 163.27h0M291.22 163.52h0M291.88 163.76h0M292.54 163.99h0M293.20 164.21h0M293.86 164.42h0M294.52 164.62h0M295.18 164.82h0M295.84 165.00h0M296.50 165.18h0M297.16 165.34h0M297.82 165.51h0M298.48 165.66h0M299.14 165.81h0M299.80 165.95h0M300.46 166.09h0M301.12 166.22h0M301.78 166.35h0M302.44 166.47h0M303.10 166.59h0M303.76 166.70h0M304.42 166.81h0M305.08 166.91h0M305.74 167.01h0M306.40 167.10h0M307.06 167.19h0M307.72 167.28h0M308.38 167.37h0M309.04 167.45h0M309.70 167.52h0M310.36 167.60h0M311.02 167.67h0M311.68 167.74h0M312.34 167.80h0M313.00 167.86h0M313.66 167.92h0M314.33 167.98h0M314.99 168.04h0M315.65 168.09h0M316.31 168.14h0M316.97 168.19h0M317.63 168.24h0M318.29 168.28h0M318.95 168.32h0M319.61 168.36h0M320.27 168.40h0M320.93 168.44h0M321.59 168.48h0M322.25 168.52h0M322.91 168.55h0M323.57 168.58h0M324.23 168.61h0M324.89 168.65h0M325.55 168.68h0M326.21 168.71h0M326.87 168.73h0M327.53 168.76h0M328.19 168.79h0M328.85 168.81h0M329.51 168.84h0M330.17 168.86h0M330.83 168.89h0M331.49 168.91h0M332.15 168.94h0M332.81 168.96h0M333.47 168.98h0M334.13 169.00h0M334.79 169.02h0M335.45 169.05h0M336.11 169.07h0M336.77 169.09h0M337.43 169.11h0M338.09 169.13h0M338.75 169.15h0M339.41 169.17h0M340.07 169.19h0M340.74 169.21h0M341.40 169.23h0M342.06 169.24h0M342.72 169.26h0M343.38 169.28h0M344.04 169.30h0M344.70 169.32h0M345.36 169.34h0M346.02 169.36h0M346.68 169.38h0M347.34 169.39h0M348.00 169.41h0M348.66 169.43h0M349.32 169.45h0M349.98 169.47h0M350.64 169.49h0M351.30 169.50h0M351.96 169.52h0M352.62 169.54h0M353.28 169.56h0M353.94 169.58h0M354.60 169.59h0M355.26 169.61h0M355.92 169.63h0M356.58 169.65h0M357.24 169.67h0M357.90 169.69h0M358.56 169.70h0M359.22 169.72h0M359.88 169.74h0M360.54 169.76h0M361.20 169.78h0M361.86 169.79h0M362.52 169.81h0M363.18 169.83h0M363.84 169.85h0M364.50 169.87h0M365.16 169.89h0M365.82 169.90h0M366.48 169.92h0M367.15 169.94h0M367.81 169.96h0M368.47 169.98h0M369.13 170.00h0M369.79 170.01h0M370.45 170.03h0M371.11 170.05h0M371.77 170.07h0M372.43 170.09h0M373.09 170.11h0M373.75 170.12h0M374.41 170.14h0M375.07 170.16h0M375.73 170.18h0M376.39 170.20h0M377.05 170.22h0M377.71 170.24h0M378.37 170.25h0M379.03 170.27h0M379.69 170.29h0M380.35 170.31h0M381.01 170.33h0M381.67 170.35h0M382.33 170.37h0M382.99 170.39h0M383.65 170.41h0M384.31 170.42h0M384.97 170.44h0M385.63 170.46h0M386.29 170.48h0M386.95 170.50h0M387.61 170.52h0M388.27 170.54h0M388.93 170.56h0M389.59 170.58h0M390.25 170.60h0M390.91 170.62h0M391.57 170.64h0M392.23 170.66h0M392.89 170.67h0M393.56 170.69h0M394.22 170.71h0M394.88 170.73h0M395.54 170.75h0M396.20 170.77h0M396.86 170.79h0M397.52 170.81h0M398.18 170.83h0M398.84 170.85h0M399.50 170.87h0M400.16 170.89h0M400.82 170.91h0M401.48 170.93h0M402.14 170.95h0M402.80 170.97h0M403.46 170.99h0M404.12 171.01h0M404.78 171.03h0M405.44 171.05h0M406.10 171.07h0M406.76 171.09h0M407.42 171.11h0M408.08 171.13h0M408.74 171.15h0M409.40 171.17h0M410.06 171.19h0M410.72 171.21h0M411.38 171.23h0M412.04 171.25h0M412.70 171.27h0M413.36 171.29h0M414.02 171.31h0M414.68 171.33h0M415.34 171.35h0M416.00 171.37h0M416.66 171.39h0M417.32 171.41h0M417.98 171.43h0M418.64 171.45h0M419.30 171.47h0M419.97 171.49h0M420.63 171.51h0M421.29 171.53h0M421.95 171.55h0M422.61 171.57h0M423.27 171.59h0M423.93 171.61h0M424.59 171.63h0M425.25 171.65h0M425.91 171.67h0M426.57 171.69h0M427.23 171.71h0M427.89 171.73h0M428.55 171.75h0M429.21 171.77h0M429.87 171.79h0M430.53 171.81h0M431.19 171.83h0M431.85 171.85h0M432.51 171.87h0M433.17 171.89h0M433.83 171.91h0M434.49 171.93h0M435.15 171.95h0M435.81 171.97h0M436.47 171.99h0M437.13 172.01h0M437.79 172.03h0M438.45 172.05h0M439.11 172.07h0M439.77 172.09h0M440.43 172.11h0M441.09 172.13h0M441.75 172.15h0M442.41 172.17h0M443.07 172.19h0M443.73 172.21h0M444.39 172.23h0M445.05 172.25h0M445.71 172.27h0M446.38 172.30h0M447.04 172.32h0M447.70 172.34h0M448.36 172.36h0M449.02 172.38h0M449.68 172.40h0M450.34 172.42h0M451.00 172.44h0M451.66 172.46h0M452.32 172.48h0M452.98 172.50h0M453.64 172.52h0M454.30 172.54h0M454.96 172.56h0M455.62 172.58h0M456.28 172.60h0M456.94 172.62h0M457.60 172.64h0M458.26 172.66h0M458.92 172.68h0M459.58 172.70h0M460.24 172.72h0M460.90 172.74h0M461.56 172.76h0M462.22 172.78h0M462.88 172.80h0" stroke="#000" stroke-width="3.8" stroke-linecap="round" fill="none"/>
<polyline points="255.00,26.24 255.17,26.30 255.35,26.46 255.52,26.73 255.69,27.11 255.87,27.59 256.04,28.18 256.22,28.86 256.39,29.65 256.56,30.53 256.74,31.50 256.91,32.56 257.08,33.70 257.26,34.92 257.43,36.22 257.61,37.59 257.78,39.03 257.95,40.52 258.13,42.07 258.30,43.68 258.48,45.33 258.65,47.02 258.82,48.76 259.00,50.52 259.17,52.31 259.34,54.13 259.52,55.97 259.69,57.82 259.87,59.69 260.04,61.57 260.21,63.45 260.39,65.33 260.56,67.21 260.73,69.09 260.91,70.97 261.08,72.83 261.25,74.68 261.43,76.52 261.60,78.34 261.78,80.15 261.95,81.93 262.12,83.70 262.30,85.45 262.47,87.17 262.64,88.87 262.82,90.54 262.99,92.19 263.17,93.81 263.34,95.41 263.51,96.98 263.69,98.52 263.86,100.04 264.04,101.52 264.21,102.98 264.38,104.41 264.56,105.82 264.73,107.19 264.90,108.54 265.08,109.86 265.25,111.15 265.43,112.42 265.60,113.65 265.77,114.86 265.95,116.05 266.12,117.21 266.29,118.34 266.47,119.45 266.64,120.53 266.81,121.59 266.99,122.63 267.16,123.64 267.34,124.63 267.51,125.59 267.68,126.54 267.86,127.46 268.03,128.36 268.20,129.24 268.38,130.09 268.55,130.93 268.73,131.75 268.90,132.55 269.07,133.33 269.25,134.09 269.42,134.84 269.60,135.57 269.77,136.28 269.94,136.97 270.12,137.65 270.29,138.31 270.46,138.95 270.64,139.58 270.81,140.20 270.99,140.80 271.16,141.39 271.33,141.96 271.51,142.52 271.68,143.07 271.85,143.60 272.03,144.12 272.20,144.63 272.38,145.13 272.55,145.61 272.72,146.09 272.90,146.55 273.07,147.01 273.24,147.45 273.42,147.88 273.59,148.30 273.76,148.72 273.94,149.12 274.11,149.52 274.29,149.90 274.46,150.28 274.63,150.65 274.81,151.01 274.98,151.36 275.15,151.70 275.33,152.04 275.50,152.37 275.68,152.69 275.85,153.00 276.02,153.31 276.20,153.61 276.37,153.90 276.55,154.19 276.72,154.47 276.89,154.75 277.07,155.02 277.24,155.28 277.41,155.54 277.59,155.79 277.76,156.03 277.94,156.28 278.11,156.51 278.28,156.74 278.46,156.97 278.63,157.19 278.80,157.41 278.98,157.62 279.15,157.83 279.32,158.03 279.50,158.23 279.67,158.42 279.85,158.61 280.02,158.80 280.19,158.98 280.37,159.16 280.54,159.34 280.71,159.51 280.89,159.68 281.06,159.84 281.24,160.00 281.41,160.16 281.58,160.31 281.76,160.47 281.93,160.62 282.11,160.76 282.28,160.90 282.45,161.04 282.63,161.18 282.80,161.32 282.97,161.45 283.15,161.58 283.32,161.70 283.50,161.83 283.67,161.95 283.84,162.07 284.02,162.19 284.19,162.30 284.36,162.41 284.54,162.52 284.71,162.63 284.88,162.74 285.06,162.84 285.23,162.94 285.41,163.04 285.58,163.14 285.75,163.24 285.93,163.33 286.10,163.43 286.27,163.52 286.45,163.61 286.62,163.70 286.80,163.78 286.97,163.87 287.14,163.95 287.32,164.03 287.49,164.11 287.67,164.19 287.84,164.27 288.01,164.34 288.19,164.42 288.36,164.49 288.53,164.56 288.71,164.63 288.88,164.70 289.06,164.77 289.23,164.84 289.40,164.90 289.58,164.97 289.75,165.03 289.92,165.09 290.10,165.16 290.27,165.22 290.44,165.28 290.62,165.33 290.79,165.39 290.97,165.45 291.14,165.50 291.31,165.56 291.49,165.61 291.66,165.66 291.83,165.71 292.01,165.76 292.18,165.81 292.36,165.86 292.53,165.91 292.70,165.96 292.88,166.01 293.05,166.05 293.23,166.10 293.40,166.14 293.57,166.18 293.75,166.23 293.92,166.27 294.09,166.31 294.27,166.35 294.44,166.39 294.62,166.43 294.79,166.47 294.96,166.51 295.14,166.55 295.31,166.58 295.48,166.62 295.66,166.66 295.83,166.69 296.00,166.73 296.18,166.76 296.35,166.80 296.53,166.83 296.70,166.86 296.87,166.90 297.05,166.93 297.22,166.96 297.39,166.99 297.57,167.02 297.74,167.05 297.92,167.08 298.09,167.11 298.26,167.14 298.44,167.17 298.61,167.19 298.78,167.22 298.96,167.25 299.13,167.28 299.31,167.30 299.48,167.33 299.65,167.35 299.83,167.38 300.00,167.40 300.18,167.43 300.35,167.45 300.52,167.48 300.70,167.50 300.87,167.52 301.04,167.55 301.22,167.57 301.39,167.59 301.56,167.61 301.74,167.63 301.91,167.66 302.09,167.68 302.26,167.70 302.43,167.72 302.61,167.74 302.78,167.76 302.95,167.78 303.13,167.80 303.30,167.82 303.48,167.84 303.65,167.86 303.82,167.87 304.00,167.89 304.17,167.91 304.35,167.93 304.52,167.95 304.69,167.96 304.87,167.98 305.04,168.00 305.21,168.01 305.39,168.03 305.56,168.05 305.74,168.06 305.91,168.08 306.08,168.09 306.26,168.11 306.43,168.13 306.60,168.14 306.78,168.16 306.95,168.17 307.12,168.19 307.30,168.20 307.47,168.22 307.65,168.23 307.82,168.24 307.99,168.26 308.17,168.27 308.34,168.28 308.51,168.30 308.69,168.31 308.86,168.32 309.04,168.34 309.21,168.35 309.38,168.36 309.56,168.38 309.73,168.39 309.90,168.40 310.08,168.41 310.25,168.43 310.43,168.44 310.60,168.45 310.77,168.46 310.95,168.47 311.12,168.48 311.30,168.50 311.47,168.51 311.64,168.52 311.82,168.53 311.99,168.54 312.16,168.55 312.34,168.56 312.51,168.57 312.69,168.58 312.86,168.59 313.03,168.60 313.21,168.61 313.38,168.62 313.55,168.64 313.73,168.65 313.90,168.66 314.07,168.66 314.25,168.67 314.42,168.68 314.60,168.69 314.77,168.70 314.94,168.71 315.12,168.72 315.29,168.73 315.47,168.74 315.64,168.75 315.81,168.76 315.99,168.77 316.16,168.78 316.33,168.79 316.51,168.79 316.68,168.80 316.86,168.81 317.03,168.82 317.20,168.83 317.38,168.84 317.55,168.85 317.72,168.85 317.90,168.86 318.07,168.87 318.25,168.88 318.42,168.89 318.59,168.89 318.77,168.90 318.94,168.91 319.11,168.92 319.29,168.93 319.46,168.93 319.63,168.94 319.81,168.95 319.98,168.96 320.16,168.96 320.33,168.97 320.50,168.98 320.68,168.99 320.85,168.99 321.02,169.00 321.20,169.01 321.37,169.02 321.55,169.02 321.72,169.03 321.89,169.04 322.07,169.04 322.24,169.05 322.42,169.06 322.59,169.07 322.76,169.07 322.94,169.08 323.11,169.09 323.28,169.09 323.46,169.10 323.63,169.11 323.81,169.11 323.98,169.12 324.15,169.13 324.33,169.13 324.50,169.14 324.67,169.15 324.85,169.15 325.02,169.16 325.19,169.17 325.37,169.17 325.54,169.18 325.72,169.18 325.89,169.19 326.06,169.20 326.24,169.20 326.41,169.21 326.58,169.22 326.76,169.22 326.93,169.23 327.11,169.23 327.28,169.24 327.45,169.25 327.63,169.25 327.80,169.26 327.98,169.26 328.15,169.27 328.32,169.28 328.50,169.28 328.67,169.29 328.84,169.29 329.02,169.30 329.19,169.31 329.37,169.31 329.54,169.32 329.71,169.32 329.89,169.33 330.06,169.33 330.23,169.34 330.41,169.35 330.58,169.35 330.75,169.36 330.93,169.36 331.10,169.37 331.28,169.37 331.45,169.38 331.62,169.38 331.80,169.39 331.97,169.40 332.14,169.40 332.32,169.41 332.49,169.41 332.67,169.42 332.84,169.42 333.01,169.43 333.19,169.43 333.36,169.44 333.53,169.44 333.71,169.45 333.88,169.46 334.06,169.46 334.23,169.47 334.40,169.47 334.58,169.48 334.75,169.48 334.93,169.49 335.10,169.49 335.27,169.50 335.45,169.50 335.62,169.51 335.79,169.51 335.97,169.52 336.14,169.52 336.31,169.53 336.49,169.53 336.66,169.54 336.84,169.54 337.01,169.55 337.18,169.56 337.36,169.56 337.53,169.57 337.70,169.57 337.88,169.58 338.05,169.58 338.23,169.59 338.40,169.59 338.57,169.60 338.75,169.60 338.92,169.61 339.10,169.61 339.27,169.62 339.44,169.62 339.62,169.63 339.79,169.63 339.96,169.64 340.14,169.64 340.31,169.65 340.49,169.65 340.66,169.66 340.83,169.66 341.01,169.67 341.18,169.67 341.35,169.68 341.53,169.68 341.70,169.69 341.88,169.69 342.05,169.70 342.22,169.70 342.40,169.71 342.57,169.71 342.74,169.72 342.92,169.72 343.09,169.73 343.26,169.73 343.44,169.74 343.61,169.74 343.79,169.74 343.96,169.75 344.13,169.75 344.31,169.76 344.48,169.76 344.65,169.77 344.83,169.77 345.00,169.78 345.18,169.78 345.35,169.79 345.52,169.79 345.70,169.80 345.87,169.80 346.05,169.81 346.22,169.81 346.39,169.82 346.57,169.82 346.74,169.83 346.91,169.83 347.09,169.84 347.26,169.84 347.44,169.85 347.61,169.85 347.78,169.86 347.96,169.86 348.13,169.87 348.30,169.87 348.48,169.88 348.65,169.88 348.82,169.89 349.00,169.89 349.17,169.89 349.35,169.90 349.52,169.90 349.69,169.91 349.87,169.91 350.04,169.92 350.22,169.92 350.39,169.93 350.56,169.93 350.74,169.94 350.91,169.94 351.08,169.95 351.26,169.95 351.43,169.96 351.61,169.96 351.78,169.97 351.95,169.97 352.13,169.98 352.30,169.98 352.47,169.99 352.65,169.99 352.82,170.00 353.00,170.00 353.17,170.00 353.34,170.01 353.52,170.01 353.69,170.02 353.86,170.02 354.04,170.03 354.21,170.03 354.38,170.04 354.56,170.04 354.73,170.05 354.91,170.05 355.08,170.06 355.25,170.06 355.43,170.07 355.60,170.07 355.77,170.08 355.95,170.08 356.12,170.09 356.30,170.09 356.47,170.09 356.64,170.10 356.82,170.10 356.99,170.11 357.17,170.11 357.34,170.12 357.51,170.12 357.69,170.13 357.86,170.13 358.03,170.14 358.21,170.14 358.38,170.15 358.56,170.15 358.73,170.16 358.90,170.16 359.08,170.17 359.25,170.17 359.42,170.18 359.60,170.18 359.77,170.19 359.94,170.19 360.12,170.19 360.29,170.20 360.47,170.20 360.64,170.21 360.81,170.21 360.99,170.22 361.16,170.22 361.33,170.23 361.51,170.23 361.68,170.24 361.86,170.24 362.03,170.25 362.20,170.25 362.38,170.26 362.55,170.26 362.73,170.27 362.90,170.27 363.07,170.28 363.25,170.28 363.42,170.29 363.59,170.29 363.77,170.30 363.94,170.30 364.12,170.30 364.29,170.31 364.46,170.31 364.64,170.32 364.81,170.32 364.98,170.33 365.16,170.33 365.33,170.34 365.50,170.34 365.68,170.35 365.85,170.35 366.03,170.36 366.20,170.36 366.37,170.37 366.55,170.37 366.72,170.38 366.89,170.38 367.07,170.39 367.24,170.39 367.42,170.40 367.59,170.40 367.76,170.41 367.94,170.41 368.11,170.42 368.28,170.42 368.46,170.43 368.63,170.43 368.81,170.43 368.98,170.44 369.15,170.44 369.33,170.45 369.50,170.45 369.68,170.46 369.85,170.46 370.02,170.47 370.20,170.47 370.37,170.48 370.54,170.48 370.72,170.49 370.89,170.49 371.06,170.50 371.24,170.50 371.41,170.51 371.59,170.51 371.76,170.52 371.93,170.52 372.11,170.53 372.28,170.53 372.45,170.54 372.63,170.54 372.80,170.55 372.98,170.55 373.15,170.56 373.32,170.56 373.50,170.57 373.67,170.57 373.85,170.58 374.02,170.58 374.19,170.59 374.37,170.59 374.54,170.60 374.71,170.60 374.89,170.61 375.06,170.61 375.24,170.62 375.41,170.62 375.58,170.62 375.76,170.63 375.93,170.63 376.10,170.64 376.28,170.64 376.45,170.65 376.62,170.65 376.80,170.66 376.97,170.66 377.15,170.67 377.32,170.67 377.49,170.68 377.67,170.68 377.84,170.69 378.01,170.69 378.19,170.70 378.36,170.70 378.54,170.71 378.71,170.71 378.88,170.72 379.06,170.72 379.23,170.73 379.40,170.73 379.58,170.74 379.75,170.74 379.93,170.75 380.10,170.75 380.27,170.76 380.45,170.76 380.62,170.77 380.80,170.77 380.97,170.78 381.14,170.78 381.32,170.79 381.49,170.79 381.66,170.80 381.84,170.80 382.01,170.81 382.19,170.81 382.36,170.82 382.53,170.82 382.71,170.83 382.88,170.83 383.05,170.84 383.23,170.84 383.40,170.85 383.57,170.85 383.75,170.86 383.92,170.86 384.10,170.87 384.27,170.87 384.44,170.88 384.62,170.88 384.79,170.89 384.97,170.89 385.14,170.90 385.31,170.90 385.49,170.91 385.66,170.91 385.83,170.92 386.01,170.92 386.18,170.93 386.36,170.93 386.53,170.94 386.70,170.94 386.88,170.95 387.05,170.95 387.22,170.96 387.40,170.96 387.57,170.97 387.75,170.97 387.92,170.98 388.09,170.98 388.27,170.99 388.44,170.99 388.61,171.00 388.79,171.00 388.96,171.01 389.13,171.01 389.31,171.02 389.48,171.02 389.66,171.03 389.83,171.03 390.00,171.04 390.18,171.04 390.35,171.05 390.52,171.05 390.70,171.06 390.87,171.06 391.05,171.07 391.22,171.07 391.39,171.08 391.57,171.08 391.74,171.09 391.91,171.09 392.09,171.10 392.26,171.10 392.44,171.11 392.61,171.11 392.78,171.12 392.96,171.12 393.13,171.13 393.31,171.14 393.48,171.14 393.65,171.15 393.83,171.15 394.00,171.16 394.17,171.16 394.35,171.17 394.52,171.17 394.69,171.18 394.87,171.18 395.04,171.19 395.22,171.19 395.39,171.20 395.56,171.20 395.74,171.21 395.91,171.21 396.09,171.22 396.26,171.22 396.43,171.23 396.61,171.23 396.78,171.24 396.95,171.24 397.13,171.25 397.30,171.25 397.48,171.26 397.65,171.26 397.82,171.27 398.00,171.27 398.17,171.28 398.34,171.28 398.52,171.29 398.69,171.29 398.87,171.30 399.04,171.30 399.21,171.31 399.39,171.31 399.56,171.32 399.73,171.32 399.91,171.33 400.08,171.34 400.25,171.34 400.43,171.35 400.60,171.35 400.78,171.36 400.95,171.36 401.12,171.37 401.30,171.37 401.47,171.38 401.64,171.38 401.82,171.39 401.99,171.39 402.17,171.40 402.34,171.40 402.51,171.41 402.69,171.41 402.86,171.42 403.03,171.42 403.21,171.43 403.38,171.43 403.56,171.44 403.73,171.44 403.90,171.45 404.08,171.45 404.25,171.46 404.43,171.46 404.60,171.47 404.77,171.48 404.95,171.48 405.12,171.49 405.29,171.49 405.47,171.50 405.64,171.50 405.81,171.51 405.99,171.51 406.16,171.52 406.34,171.52 406.51,171.53 406.68,171.53 406.86,171.54 407.03,171.54 407.21,171.55 407.38,171.55 407.55,171.56 407.73,171.56 407.90,171.57 408.07,171.57 408.25,171.58 408.42,171.58 408.60,171.59 408.77,171.60 408.94,171.60 409.12,171.61 409.29,171.61 409.46,171.62 409.64,171.62 409.81,171.63 409.99,171.63 410.16,171.64 410.33,171.64 410.51,171.65 410.68,171.65 410.85,171.66 411.03,171.66 411.20,171.67 411.38,171.67 411.55,171.68 411.72,171.68 411.90,171.69 412.07,171.69 412.24,171.70 412.42,171.71 412.59,171.71 412.76,171.72 412.94,171.72 413.11,171.73 413.29,171.73 413.46,171.74 413.63,171.74 413.81,171.75 413.98,171.75 414.15,171.76 414.33,171.76 414.50,171.77 414.68,171.77 414.85,171.78 415.02,171.78 415.20,171.79 415.37,171.79 415.54,171.80 415.72,171.81 415.89,171.81 416.07,171.82 416.24,171.82 416.41,171.83 416.59,171.83 416.76,171.84 416.94,171.84 417.11,171.85 417.28,171.85 417.46,171.86 417.63,171.86 417.80,171.87 417.98,171.87 418.15,171.88 418.32,171.88 418.50,171.89 418.67,171.90 418.85,171.90 419.02,171.91 419.19,171.91 419.37,171.92 419.54,171.92 419.72,171.93 419.89,171.93 420.06,171.94 420.24,171.94 420.41,171.95 420.58,171.95 420.76,171.96 420.93,171.96 421.11,171.97 421.28,171.97 421.45,171.98 421.63,171.99 421.80,171.99 421.97,172.00 422.15,172.00 422.32,172.01 422.50,172.01 422.67,172.02 422.84,172.02 423.02,172.03 423.19,172.03 423.36,172.04 423.54,172.04 423.71,172.05 423.88,172.05 424.06,172.06 424.23,172.06 424.41,172.07 424.58,172.08 424.75,172.08 424.93,172.09 425.10,172.09 425.27,172.10 425.45,172.10 425.62,172.11 425.80,172.11 425.97,172.12 426.14,172.12 426.32,172.13 426.49,172.13 426.66,172.14 426.84,172.14 427.01,172.15 427.19,172.16 427.36,172.16 427.53,172.17 427.71,172.17 427.88,172.18 428.06,172.18 428.23,172.19 428.40,172.19 428.58,172.20 428.75,172.20 428.92,172.21 429.10,172.21 429.27,172.22 429.44,172.22 429.62,172.23 429.79,172.23 429.97,172.24 430.14,172.25 430.31,172.25 430.49,172.26 430.66,172.26 430.84,172.27 431.01,172.27 431.18,172.28 431.36,172.28 431.53,172.29 431.70,172.29 431.88,172.30 432.05,172.30 432.23,172.31 432.40,172.31 432.57,172.32 432.75,172.33 432.92,172.33 433.09,172.34 433.27,172.34 433.44,172.35 433.62,172.35 433.79,172.36 433.96,172.36 434.14,172.37 434.31,172.37 434.48,172.38 434.66,172.38 434.83,172.39 435.00,172.39 435.18,172.40 435.35,172.41 435.53,172.41 435.70,172.42 435.87,172.42 436.05,172.43 436.22,172.43 436.39,172.44 436.57,172.44 436.74,172.45 436.92,172.45 437.09,172.46 437.26,172.46 437.44,172.47 437.61,172.47 437.78,172.48 437.96,172.49 438.13,172.49 438.31,172.50 438.48,172.50 438.65,172.51 438.83,172.51 439.00,172.52 439.18,172.52 439.35,172.53 439.52,172.53 439.70,172.54 439.87,172.54 440.04,172.55 440.22,172.55 440.39,172.56 440.56,172.57 440.74,172.57 440.91,172.58 441.09,172.58 441.26,172.59 441.43,172.59 441.61,172.60 441.78,172.60 441.96,172.61 442.13,172.61 442.30,172.62 442.48,172.62 442.65,172.63 442.82,172.63 443.00,172.64 443.17,172.65 443.35,172.65 443.52,172.66 443.69,172.66 443.87,172.67 444.04,172.67 444.21,172.68 444.39,172.68 444.56,172.69 444.74,172.69 444.91,172.70 445.08,172.70 445.26,172.71 445.43,172.71 445.60,172.72 445.78,172.73 445.95,172.73 446.12,172.74 446.30,172.74 446.47,172.75 446.65,172.75 446.82,172.76 446.99,172.76 447.17,172.77 447.34,172.77 447.51,172.78 447.69,172.78 447.86,172.79 448.04,172.79 448.21,172.80 448.38,172.81 448.56,172.81 448.73,172.82 448.90,172.82 449.08,172.83 449.25,172.83 449.43,172.84 449.60,172.84 449.77,172.85 449.95,172.85 450.12,172.86 450.29,172.86 450.47,172.87 450.64,172.87 450.82,172.88 450.99,172.89 451.16,172.89 451.34,172.90 451.51,172.90 451.69,172.91 451.86,172.91 452.03,172.92 452.21,172.92 452.38,172.93 452.55,172.93 452.73,172.94 452.90,172.94 453.07,172.95 453.25,172.95 453.42,172.96 453.60,172.97 453.77,172.97 453.94,172.98 454.12,172.98 454.29,172.99 454.47,172.99 454.64,173.00 454.81,173.00 454.99,173.01 455.16,173.01 455.33,173.02 455.51,173.02 455.68,173.03 455.86,173.03 456.03,173.04 456.20,173.04 456.38,173.05 456.55,173.06 456.72,173.06 456.90,173.07 457.07,173.07 457.25,173.08 457.42,173.08 457.59,173.09 457.77,173.09 457.94,173.10 458.11,173.10 458.29,173.11 458.46,173.11 458.63,173.12 458.81,173.12 458.98,173.13 459.16,173.13 459.33,173.14 459.50,173.15 459.68,173.15 459.85,173.16 460.02,173.16 460.20,173.17 460.37,173.17 460.55,173.18 460.72,173.18 460.89,173.19 461.07,173.19 461.24,173.20 461.41,173.20 461.59,173.21 461.76,173.21 461.94,173.22 462.11,173.22 462.28,173.23 462.46,173.24 462.63,173.24 462.81,173.25 462.98,173.25 463.15,173.26 463.33,173.26 463.50,173.27" fill="none" stroke="#ff0000" stroke-width="1.8"/>
</g>
<g clip-path="url(#c20)">
<polyline points="463.50,107.97 463.85,107.99 464.19,108.06 464.54,108.16 464.89,108.31 465.24,108.50 465.58,108.73 465.93,109.01 466.28,109.32 466.63,109.67 466.98,110.05 467.32,110.48 467.67,110.93 468.02,111.42 468.37,111.95 468.71,112.50 469.06,113.08 469.41,113.69 469.75,114.33 470.10,114.99 470.45,115.67 470.80,116.37 471.14,117.09 471.49,117.83 471.84,118.58 472.19,119.35 472.54,120.13 472.88,120.92 473.23,121.72 473.58,122.53 473.93,123.34 474.27,124.16 474.62,124.98 474.97,125.81 475.31,126.64 475.66,127.47 476.01,128.30 476.36,129.12 476.70,129.95 477.05,130.77 477.40,131.58 477.75,132.39 478.10,133.20 478.44,134.00 478.79,134.79 479.14,135.58 479.49,136.35 479.83,137.12 480.18,137.88 480.53,138.64 480.88,139.38 481.22,140.11 481.57,140.83 481.92,141.54 482.26,142.25 482.61,142.94 482.96,143.62 483.31,144.29 483.65,144.95 484.00,145.60 484.35,146.24 484.70,146.87 485.05,147.49 485.39,148.09 485.74,148.69 486.09,149.27 486.44,149.85 486.78,150.41 487.13,150.97 487.48,151.51 487.82,152.05 488.17,152.57 488.52,153.09 488.87,153.59 489.21,154.09 489.56,154.57 489.91,155.05 490.26,155.52 490.61,155.97 490.95,156.42 491.30,156.86 491.65,157.30 492.00,157.72 492.34,158.13 492.69,158.54 493.04,158.94 493.38,159.33 493.73,159.72 494.08,160.09 494.43,160.46 494.77,160.82 495.12,161.18 495.47,161.52 495.82,161.87 496.17,162.20 496.51,162.53 496.86,162.85 497.21,163.16 497.56,163.47 497.90,163.78 498.25,164.07 498.60,164.36 498.94,164.65 499.29,164.93 499.64,165.20 499.99,165.47 500.33,165.74 500.68,166.00 501.03,166.25 501.38,166.50 501.73,166.75 502.07,166.99 502.42,167.22 502.77,167.45 503.12,167.68 503.46,167.90 503.81,168.12 504.16,168.34 504.50,168.55 504.85,168.75 505.20,168.96 505.55,169.16 505.89,169.35 506.24,169.54 506.59,169.73 506.94,169.92 507.28,170.10 507.63,170.28 507.98,170.45 508.33,170.63 508.68,170.80 509.02,170.96 509.37,171.13 509.72,171.29 510.06,171.44 510.41,171.60 510.76,171.75 511.11,171.90 511.45,172.05 511.80,172.19 512.15,172.34 512.50,172.48 512.85,172.61 513.19,172.75 513.54,172.88 513.89,173.01 514.24,173.14 514.58,173.27 514.93,173.39 515.28,173.51 515.62,173.63 515.97,173.75 516.32,173.87 516.67,173.98 517.01,174.10 517.36,174.21 517.71,174.32 518.06,174.42 518.40,174.53 518.75,174.63 519.10,174.74 519.45,174.84 519.79,174.94 520.14,175.03 520.49,175.13 520.84,175.23 521.18,175.32 521.53,175.41 521.88,175.50 522.23,175.59 522.58,175.68 522.92,175.76 523.27,175.85 523.62,175.93 523.97,176.02 524.31,176.10 524.66,176.18 525.01,176.26 525.36,176.34 525.70,176.41 526.05,176.49 526.40,176.56 526.75,176.64 527.09,176.71 527.44,176.78 527.79,176.85 528.13,176.92 528.48,176.99 528.83,177.06 529.18,177.12 529.52,177.19 529.87,177.25 530.22,177.32 530.57,177.38 530.91,177.44 531.26,177.50 531.61,177.57 531.96,177.62 532.31,177.68 532.65,177.74 533.00,177.80 533.35,177.86 533.69,177.91 534.04,177.97 534.39,178.02 534.74,178.07 535.09,178.13 535.43,178.18 535.78,178.23 536.13,178.28 536.48,178.33 536.82,178.38 537.17,178.43 537.52,178.48 537.87,178.53 538.21,178.57 538.56,178.62 538.91,178.67 539.25,178.71 539.60,178.76 539.95,178.80 540.30,178.85 540.64,178.89 540.99,178.93 541.34,178.97 541.69,179.02 542.03,179.06 542.38,179.10 542.73,179.14 543.08,179.18 543.42,179.22 543.77,179.25 544.12,179.29 544.47,179.33 544.82,179.37 545.16,179.41 545.51,179.44 545.86,179.48 546.21,179.51 546.55,179.55 546.90,179.58 547.25,179.62 547.60,179.65 547.94,179.69 548.29,179.72 548.64,179.75 548.99,179.78 549.33,179.82 549.68,179.85 550.03,179.88 550.38,179.91 550.72,179.94 551.07,179.97 551.42,180.00 551.76,180.03 552.11,180.06 552.46,180.09 552.81,180.12 553.15,180.15 553.50,180.18 553.85,180.20 554.20,180.23 554.54,180.26 554.89,180.29 555.24,180.31 555.59,180.34 555.93,180.37 556.28,180.39 556.63,180.42 556.98,180.44 557.33,180.47 557.67,180.49 558.02,180.52 558.37,180.54 558.72,180.57 559.06,180.59 559.41,180.61 559.76,180.64 560.11,180.66 560.45,180.68 560.80,180.70 561.15,180.73 561.50,180.75 561.84,180.77 562.19,180.79 562.54,180.81 562.88,180.84 563.23,180.86 563.58,180.88 563.93,180.90 564.27,180.92 564.62,180.94 564.97,180.96 565.32,180.98 565.66,181.00 566.01,181.02 566.36,181.04 566.71,181.06 567.06,181.08 567.40,181.09 567.75,181.11 568.10,181.13 568.44,181.15 568.79,181.17 569.14,181.19 569.49,181.20 569.84,181.22 570.18,181.24 570.53,181.26 570.88,181.27 571.23,181.29 571.57,181.31 571.92,181.32 572.27,181.34 572.62,181.36 572.96,181.37 573.31,181.39 573.66,181.40 574.00,181.42 574.35,181.44 574.70,181.45 575.05,181.47 575.39,181.48 575.74,181.50 576.09,181.51 576.44,181.53 576.78,181.54 577.13,181.56 577.48,181.57 577.83,181.58 578.17,181.60 578.52,181.61 578.87,181.63 579.22,181.64 579.57,181.65 579.91,181.67 580.26,181.68 580.61,181.69 580.96,181.71 581.30,181.72 581.65,181.73 582.00,181.75 582.35,181.76 582.69,181.77 583.04,181.78 583.39,181.80 583.74,181.81 584.08,181.82 584.43,181.83 584.78,181.85 585.12,181.86 585.47,181.87 585.82,181.88 586.17,181.89 586.51,181.90 586.86,181.92 587.21,181.93 587.56,181.94 587.90,181.95 588.25,181.96 588.60,181.97 588.95,181.98 589.29,181.99 589.64,182.00 589.99,182.01 590.34,182.03 590.68,182.04 591.03,182.05 591.38,182.06 591.73,182.07 592.08,182.08 592.42,182.09 592.77,182.10 593.12,182.11 593.47,182.12 593.81,182.13 594.16,182.14 594.51,182.15 594.86,182.16 595.20,182.17 595.55,182.17 595.90,182.18 596.25,182.19 596.59,182.20 596.94,182.21 597.29,182.22 597.63,182.23 597.98,182.24 598.33,182.25 598.68,182.26 599.02,182.26 599.37,182.27 599.72,182.28 600.07,182.29 600.41,182.30 600.76,182.31 601.11,182.32 601.46,182.32 601.81,182.33 602.15,182.34 602.50,182.35 602.85,182.36 603.19,182.36 603.54,182.37 603.89,182.38 604.24,182.39 604.59,182.40 604.93,182.40 605.28,182.41 605.63,182.42 605.98,182.43 606.32,182.43 606.67,182.44 607.02,182.45 607.37,182.46 607.71,182.46 608.06,182.47 608.41,182.48 608.75,182.49 609.10,182.49 609.45,182.50 609.80,182.51 610.14,182.51 610.49,182.52 610.84,182.53 611.19,182.53 611.53,182.54 611.88,182.55 612.23,182.55 612.58,182.56 612.92,182.57 613.27,182.57 613.62,182.58 613.97,182.59 614.32,182.59 614.66,182.60 615.01,182.61 615.36,182.61 615.71,182.62 616.05,182.62 616.40,182.63 616.75,182.64 617.10,182.64 617.44,182.65 617.79,182.65 618.14,182.66 618.49,182.67 618.83,182.67 619.18,182.68 619.53,182.68 619.88,182.69 620.22,182.70 620.57,182.70 620.92,182.71 621.26,182.71 621.61,182.72 621.96,182.72 622.31,182.73 622.65,182.73 623.00,182.74 623.35,182.74 623.70,182.75 624.04,182.76 624.39,182.76 624.74,182.77 625.09,182.77 625.43,182.78 625.78,182.78 626.13,182.79 626.48,182.79 626.83,182.80 627.17,182.80 627.52,182.81 627.87,182.81 628.22,182.82 628.56,182.82 628.91,182.83 629.26,182.83 629.61,182.84 629.95,182.84 630.30,182.85 630.65,182.85 631.00,182.86 631.34,182.86 631.69,182.86 632.04,182.87 632.38,182.87 632.73,182.88 633.08,182.88 633.43,182.89 633.77,182.89 634.12,182.90 634.47,182.90 634.82,182.90 635.16,182.91 635.51,182.91 635.86,182.92 636.21,182.92 636.56,182.93 636.90,182.93 637.25,182.93 637.60,182.94 637.94,182.94 638.29,182.95 638.64,182.95 638.99,182.96 639.34,182.96 639.68,182.96 640.03,182.97 640.38,182.97 640.73,182.98 641.07,182.98 641.42,182.98 641.77,182.99 642.12,182.99 642.46,183.00 642.81,183.00 643.16,183.00 643.50,183.01 643.85,183.01 644.20,183.01 644.55,183.02 644.89,183.02 645.24,183.03 645.59,183.03 645.94,183.03 646.28,183.04 646.63,183.04 646.98,183.04 647.33,183.05 647.67,183.05 648.02,183.05 648.37,183.06 648.72,183.06 649.07,183.06 649.41,183.07 649.76,183.07 650.11,183.07 650.46,183.08 650.80,183.08 651.15,183.08 651.50,183.09 651.85,183.09 652.19,183.09 652.54,183.10 652.89,183.10 653.24,183.10 653.58,183.11 653.93,183.11 654.28,183.11 654.62,183.12 654.97,183.12 655.32,183.12 655.67,183.13 656.01,183.13 656.36,183.13 656.71,183.14 657.06,183.14 657.40,183.14 657.75,183.15 658.10,183.15 658.45,183.15 658.79,183.15 659.14,183.16 659.49,183.16 659.84,183.16 660.18,183.17 660.53,183.17 660.88,183.17 661.23,183.17 661.58,183.18 661.92,183.18 662.27,183.18 662.62,183.19 662.97,183.19 663.31,183.19 663.66,183.19 664.01,183.20 664.36,183.20 664.70,183.20 665.05,183.21 665.40,183.21 665.75,183.21 666.09,183.21 666.44,183.22 666.79,183.22 667.13,183.22 667.48,183.22 667.83,183.23 668.18,183.23 668.52,183.23 668.87,183.23 669.22,183.24 669.57,183.24 669.91,183.24 670.26,183.24 670.61,183.25 670.96,183.25 671.31,183.25 671.65,183.25 672.00,183.26" fill="none" stroke="#1010ff" stroke-width="1.1"/>
<polyline points="463.50,184.00 463.85,184.00 464.19,183.99 464.54,183.98 464.89,183.97 465.24,183.95 465.58,183.93 465.93,183.91 466.28,183.88 466.63,183.85 466.98,183.81 467.32,183.77 467.67,183.73 468.02,183.68 468.37,183.64 468.71,183.58 469.06,183.53 469.41,183.47 469.75,183.41 470.10,183.34 470.45,183.28 470.80,183.20 471.14,183.13 471.49,183.06 471.84,182.98 472.19,182.90 472.54,182.82 472.88,182.73 473.23,182.64 473.58,182.55 473.93,182.46 474.27,182.37 474.62,182.28 474.97,182.18 475.31,182.08 475.66,181.99 476.01,181.89 476.36,181.78 476.70,181.68 477.05,181.58 477.40,181.47 477.75,181.37 478.10,181.26 478.44,181.16 478.79,181.05 479.14,180.94 479.49,180.84 479.83,180.73 480.18,180.62 480.53,180.51 480.88,180.40 481.22,180.30 481.57,180.19 481.92,180.08 482.26,179.97 482.61,179.86 482.96,179.76 483.31,179.65 483.65,179.54 484.00,179.43 484.35,179.33 484.70,179.22 485.05,179.12 485.39,179.01 485.74,178.91 486.09,178.81 486.44,178.70 486.78,178.60 487.13,178.50 487.48,178.40 487.82,178.30 488.17,178.20 488.52,178.11 488.87,178.01 489.21,177.91 489.56,177.82 489.91,177.72 490.26,177.63 490.61,177.54 490.95,177.45 491.30,177.36 491.65,177.27 492.00,177.18 492.34,177.09 492.69,177.01 493.04,176.92 493.38,176.84 493.73,176.75 494.08,176.67 494.43,176.59 494.77,176.51 495.12,176.43 495.47,176.35 495.82,176.27 496.17,176.20 496.51,176.12 496.86,176.05 497.21,175.97 497.56,175.90 497.90,175.83 498.25,175.76 498.60,175.69 498.94,175.62 499.29,175.55 499.64,175.48 499.99,175.42 500.33,175.35 500.68,175.29 501.03,175.23 501.38,175.16 501.73,175.10 502.07,175.04 502.42,174.98 502.77,174.92 503.12,174.87 503.46,174.81 503.81,174.75 504.16,174.70 504.50,174.64 504.85,174.59 505.20,174.53 505.55,174.48 505.89,174.43 506.24,174.38 506.59,174.33 506.94,174.28 507.28,174.23 507.63,174.18 507.98,174.14 508.33,174.09 508.68,174.05 509.02,174.00 509.37,173.96 509.72,173.91 510.06,173.87 510.41,173.83 510.76,173.79 511.11,173.74 511.45,173.70 511.80,173.66 512.15,173.63 512.50,173.59 512.85,173.55 513.19,173.51 513.54,173.48 513.89,173.44 514.24,173.40 514.58,173.37 514.93,173.33 515.28,173.30 515.62,173.27 515.97,173.23 516.32,173.20 516.67,173.17 517.01,173.14 517.36,173.11 517.71,173.08 518.06,173.05 518.40,173.02 518.75,172.99 519.10,172.96 519.45,172.93 519.79,172.91 520.14,172.88 520.49,172.85 520.84,172.83 521.18,172.80 521.53,172.78 521.88,172.75 522.23,172.73 522.58,172.70 522.92,172.68 523.27,172.65 523.62,172.63 523.97,172.61 524.31,172.59 524.66,172.57 525.01,172.54 525.36,172.52 525.70,172.50 526.05,172.48 526.40,172.46 526.75,172.44 527.09,172.42 527.44,172.40 527.79,172.39 528.13,172.37 528.48,172.35 528.83,172.33 529.18,172.31 529.52,172.30 529.87,172.28 530.22,172.26 530.57,172.25 530.91,172.23 531.26,172.22 531.61,172.20 531.96,172.19 532.31,172.17 532.65,172.16 533.00,172.14 533.35,172.13 533.69,172.12 534.04,172.10 534.39,172.09 534.74,172.08 535.09,172.06 535.43,172.05 535.78,172.04 536.13,172.03 536.48,172.02 536.82,172.00 537.17,171.99 537.52,171.98 537.87,171.97 538.21,171.96 538.56,171.95 538.91,171.94 539.25,171.93 539.60,171.92 539.95,171.91 540.30,171.90 540.64,171.89 540.99,171.88 541.34,171.88 541.69,171.87 542.03,171.86 542.38,171.85 542.73,171.84 543.08,171.84 543.42,171.83 543.77,171.82 544.12,171.81 544.47,171.81 544.82,171.80 545.16,171.79 545.51,171.79 545.86,171.78 546.21,171.77 546.55,171.77 546.90,171.76 547.25,171.76 547.60,171.75 547.94,171.75 548.29,171.74 548.64,171.74 548.99,171.73 549.33,171.73 549.68,171.72 550.03,171.72 550.38,171.71 550.72,171.71 551.07,171.70 551.42,171.70 551.76,171.70 552.11,171.69 552.46,171.69 552.81,171.69 553.15,171.68 553.50,171.68 553.85,171.68 554.20,171.67 554.54,171.67 554.89,171.67 555.24,171.67 555.59,171.66 555.93,171.66 556.28,171.66 556.63,171.66 556.98,171.66 557.33,171.65 557.67,171.65 558.02,171.65 558.37,171.65 558.72,171.65 559.06,171.65 559.41,171.65 559.76,171.65 560.11,171.65 560.45,171.64 560.80,171.64 561.15,171.64 561.50,171.64 561.84,171.64 562.19,171.64 562.54,171.64 562.88,171.64 563.23,171.64 563.58,171.64 563.93,171.64 564.27,171.64 564.62,171.64 564.97,171.64 565.32,171.64 565.66,171.64 566.01,171.65 566.36,171.65 566.71,171.65 567.06,171.65 567.40,171.65 567.75,171.65 568.10,171.65 568.44,171.65 568.79,171.66 569.14,171.66 569.49,171.66 569.84,171.66 570.18,171.66 570.53,171.66 570.88,171.67 571.23,171.67 571.57,171.67 571.92,171.67 572.27,171.67 572.62,171.68 572.96,171.68 573.31,171.68 573.66,171.68 574.00,171.69 574.35,171.69 574.70,171.69 575.05,171.69 575.39,171.70 575.74,171.70 576.09,171.70 576.44,171.71 576.78,171.71 577.13,171.71 577.48,171.72 577.83,171.72 578.17,171.72 578.52,171.73 578.87,171.73 579.22,171.73 579.57,171.74 579.91,171.74 580.26,171.74 580.61,171.75 580.96,171.75 581.30,171.76 581.65,171.76 582.00,171.76 582.35,171.77 582.69,171.77 583.04,171.78 583.39,171.78 583.74,171.78 584.08,171.79 584.43,171.79 584.78,171.80 585.12,171.80 585.47,171.81 585.82,171.81 586.17,171.82 586.51,171.82 586.86,171.83 587.21,171.83 587.56,171.83 587.90,171.84 588.25,171.84 588.60,171.85 588.95,171.85 589.29,171.86 589.64,171.86 589.99,171.87 590.34,171.88 590.68,171.88 591.03,171.89 591.38,171.89 591.73,171.90 592.08,171.90 592.42,171.91 592.77,171.91 593.12,171.92 593.47,171.92 593.81,171.93 594.16,171.94 594.51,171.94 594.86,171.95 595.20,171.95 595.55,171.96 595.90,171.96 596.25,171.97 596.59,171.98 596.94,171.98 597.29,171.99 597.63,171.99 597.98,172.00 598.33,172.01 598.68,172.01 599.02,172.02 599.37,172.03 599.72,172.03 600.07,172.04 600.41,172.04 600.76,172.05 601.11,172.06 601.46,172.06 601.81,172.07 602.15,172.08 602.50,172.08 602.85,172.09 603.19,172.10 603.54,172.10 603.89,172.11 604.24,172.12 604.59,172.12 604.93,172.13 605.28,172.14 605.63,172.14 605.98,172.15 606.32,172.16 606.67,172.16 607.02,172.17 607.37,172.18 607.71,172.19 608.06,172.19 608.41,172.20 608.75,172.21 609.10,172.21 609.45,172.22 609.80,172.23 610.14,172.24 610.49,172.24 610.84,172.25 611.19,172.26 611.53,172.26 611.88,172.27 612.23,172.28 612.58,172.29 612.92,172.29 613.27,172.30 613.62,172.31 613.97,172.32 614.32,172.32 614.66,172.33 615.01,172.34 615.36,172.35 615.71,172.35 616.05,172.36 616.40,172.37 616.75,172.38 617.10,172.38 617.44,172.39 617.79,172.40 618.14,172.41 618.49,172.42 618.83,172.42 619.18,172.43 619.53,172.44 619.88,172.45 620.22,172.46 620.57,172.46 620.92,172.47 621.26,172.48 621.61,172.49 621.96,172.49 622.31,172.50 622.65,172.51 623.00,172.52 623.35,172.53 623.70,172.54 624.04,172.54 624.39,172.55 624.74,172.56 625.09,172.57 625.43,172.58 625.78,172.58 626.13,172.59 626.48,172.60 626.83,172.61 627.17,172.62 627.52,172.63 627.87,172.63 628.22,172.64 628.56,172.65 628.91,172.66 629.26,172.67 629.61,172.68 629.95,172.68 630.30,172.69 630.65,172.70 631.00,172.71 631.34,172.72 631.69,172.73 632.04,172.73 632.38,172.74 632.73,172.75 633.08,172.76 633.43,172.77 633.77,172.78 634.12,172.79 634.47,172.79 634.82,172.80 635.16,172.81 635.51,172.82 635.86,172.83 636.21,172.84 636.56,172.85 636.90,172.85 637.25,172.86 637.60,172.87 637.94,172.88 638.29,172.89 638.64,172.90 638.99,172.91 639.34,172.92 639.68,172.92 640.03,172.93 640.38,172.94 640.73,172.95 641.07,172.96 641.42,172.97 641.77,172.98 642.12,172.99 642.46,172.99 642.81,173.00 643.16,173.01 643.50,173.02 643.85,173.03 644.20,173.04 644.55,173.05 644.89,173.06 645.24,173.07 645.59,173.07 645.94,173.08 646.28,173.09 646.63,173.10 646.98,173.11 647.33,173.12 647.67,173.13 648.02,173.14 648.37,173.15 648.72,173.16 649.07,173.16 649.41,173.17 649.76,173.18 650.11,173.19 650.46,173.20 650.80,173.21 651.15,173.22 651.50,173.23 651.85,173.24 652.19,173.25 652.54,173.25 652.89,173.26 653.24,173.27 653.58,173.28 653.93,173.29 654.28,173.30 654.62,173.31 654.97,173.32 655.32,173.33 655.67,173.34 656.01,173.35 656.36,173.36 656.71,173.36 657.06,173.37 657.40,173.38 657.75,173.39 658.10,173.40 658.45,173.41 658.79,173.42 659.14,173.43 659.49,173.44 659.84,173.45 660.18,173.46 660.53,173.47 660.88,173.47 661.23,173.48 661.58,173.49 661.92,173.50 662.27,173.51 662.62,173.52 662.97,173.53 663.31,173.54 663.66,173.55 664.01,173.56 664.36,173.57 664.70,173.58 665.05,173.59 665.40,173.60 665.75,173.60 666.09,173.61 666.44,173.62 666.79,173.63 667.13,173.64 667.48,173.65 667.83,173.66 668.18,173.67 668.52,173.68 668.87,173.69 669.22,173.70 669.57,173.71 669.91,173.72 670.26,173.73 670.61,173.73 670.96,173.74 671.31,173.75 671.65,173.76 672.00,173.77" fill="none" stroke="#22dd22" stroke-width="1.1"/>
<path d="M464.13 108.03h0M464.76 108.23h0M465.40 108.55h0M466.04 109.00h0M466.68 109.57h0M467.32 110.25h0M467.96 111.04h0M468.60 111.92h0M469.24 112.89h0M469.88 113.95h0M470.52 115.07h0M471.16 116.25h0M471.80 117.48h0M472.44 118.75h0M473.08 120.05h0M473.72 121.37h0M474.36 122.71h0M475.00 124.05h0M475.63 125.39h0M476.27 126.73h0M476.91 128.06h0M477.55 129.37h0M478.19 130.66h0M478.83 131.92h0M479.47 133.16h0M480.11 134.37h0M480.75 135.55h0M481.39 136.70h0M482.03 137.81h0M482.67 138.89h0M483.31 139.94h0M483.95 140.95h0M484.59 141.93h0M485.23 142.87h0M485.87 143.77h0M486.50 144.65h0M487.14 145.49h0M487.78 146.30h0M488.42 147.08h0M489.06 147.83h0M489.70 148.54h0M490.34 149.24h0M490.98 149.90h0M491.62 150.54h0M492.26 151.15h0M492.90 151.74h0M493.54 152.30h0M494.18 152.84h0M494.82 153.36h0M495.46 153.86h0M496.10 154.34h0M496.73 154.81h0M497.37 155.25h0M498.01 155.68h0M498.65 156.09h0M499.29 156.48h0M499.93 156.86h0M500.57 157.22h0M501.21 157.58h0M501.85 157.91h0M502.49 158.24h0M503.13 158.55h0M503.77 158.85h0M504.41 159.14h0M505.05 159.43h0M505.69 159.70h0M506.33 159.96h0M506.97 160.21h0M507.60 160.45h0M508.24 160.69h0M508.88 160.91h0M509.52 161.13h0M510.16 161.34h0M510.80 161.55h0M511.44 161.75h0M512.08 161.94h0M512.72 162.13h0M513.36 162.31h0M514.00 162.48h0M514.64 162.65h0M515.28 162.81h0M515.92 162.97h0M516.56 163.13h0M517.20 163.28h0M517.84 163.42h0M518.47 163.56h0M519.11 163.70h0M519.75 163.83h0M520.39 163.96h0M521.03 164.09h0M521.67 164.21h0M522.31 164.33h0M522.95 164.45h0M523.59 164.56h0M524.23 164.67h0M524.87 164.78h0M525.51 164.88h0M526.15 164.99h0M526.79 165.09h0M527.43 165.18h0M528.07 165.28h0M528.70 165.37h0M529.34 165.46h0M529.98 165.55h0M530.62 165.64h0M531.26 165.72h0M531.90 165.80h0M532.54 165.89h0M533.18 165.96h0M533.82 166.04h0M534.46 166.12h0M535.10 166.19h0M535.74 166.27h0M536.38 166.34h0M537.02 166.41h0M537.66 166.48h0M538.30 166.54h0M538.94 166.61h0M539.57 166.68h0M540.21 166.74h0M540.85 166.80h0M541.49 166.86h0M542.13 166.92h0M542.77 166.98h0M543.41 167.04h0M544.05 167.10h0M544.69 167.16h0M545.33 167.21h0M545.97 167.27h0M546.61 167.32h0M547.25 167.37h0M547.89 167.43h0M548.53 167.48h0M549.17 167.53h0M549.81 167.58h0M550.44 167.63h0M551.08 167.68h0M551.72 167.73h0M552.36 167.77h0M553.00 167.82h0M553.64 167.87h0M554.28 167.91h0M554.92 167.96h0M555.56 168.00h0M556.20 168.05h0M556.84 168.09h0M557.48 168.13h0M558.12 168.18h0M558.76 168.22h0M559.40 168.26h0M560.04 168.30h0M560.67 168.34h0M561.31 168.38h0M561.95 168.42h0M562.59 168.46h0M563.23 168.50h0M563.87 168.54h0M564.51 168.58h0M565.15 168.61h0M565.79 168.65h0M566.43 168.69h0M567.07 168.73h0M567.71 168.76h0M568.35 168.80h0M568.99 168.83h0M569.63 168.87h0M570.27 168.90h0M570.91 168.94h0M571.54 168.97h0M572.18 169.01h0M572.82 169.04h0M573.46 169.08h0M574.10 169.11h0M574.74 169.14h0M575.38 169.18h0M576.02 169.21h0M576.66 169.24h0M577.30 169.28h0M577.94 169.31h0M578.58 169.34h0M579.22 169.37h0M579.86 169.40h0M580.50 169.44h0M581.14 169.47h0M581.78 169.50h0M582.41 169.53h0M583.05 169.56h0M583.69 169.59h0M584.33 169.62h0M584.97 169.65h0M585.61 169.68h0M586.25 169.71h0M586.89 169.74h0M587.53 169.77h0M588.17 169.80h0M588.81 169.83h0M589.45 169.86h0M590.09 169.89h0M590.73 169.92h0M591.37 169.95h0M592.01 169.98h0M592.64 170.00h0M593.28 170.03h0M593.92 170.06h0M594.56 170.09h0M595.20 170.12h0M595.84 170.15h0M596.48 170.17h0M597.12 170.20h0M597.76 170.23h0M598.40 170.26h0M599.04 170.28h0M599.68 170.31h0M600.32 170.34h0M600.96 170.37h0M601.60 170.39h0M602.24 170.42h0M602.88 170.45h0M603.51 170.47h0M604.15 170.50h0M604.79 170.53h0M605.43 170.55h0M606.07 170.58h0M606.71 170.61h0M607.35 170.63h0M607.99 170.66h0M608.63 170.69h0M609.27 170.71h0M609.91 170.74h0M610.55 170.76h0M611.19 170.79h0M611.83 170.82h0M612.47 170.84h0M613.11 170.87h0M613.75 170.89h0M614.38 170.92h0M615.02 170.94h0M615.66 170.97h0M616.30 171.00h0M616.94 171.02h0M617.58 171.05h0M618.22 171.07h0M618.86 171.10h0M619.50 171.12h0M620.14 171.15h0M620.78 171.17h0M621.42 171.20h0M622.06 171.22h0M622.70 171.25h0M623.34 171.27h0M623.98 171.30h0M624.61 171.32h0M625.25 171.35h0M625.89 171.37h0M626.53 171.39h0M627.17 171.42h0M627.81 171.44h0M628.45 171.47h0M629.09 171.49h0M629.73 171.52h0M630.37 171.54h0M631.01 171.56h0M631.65 171.59h0M632.29 171.61h0M632.93 171.64h0M633.57 171.66h0M634.21 171.68h0M634.85 171.71h0M635.48 171.73h0M636.12 171.76h0M636.76 171.78h0M637.40 171.80h0M638.04 171.83h0M638.68 171.85h0M639.32 171.87h0M639.96 171.90h0M640.60 171.92h0M641.24 171.94h0M641.88 171.97h0M642.52 171.99h0M643.16 172.02h0M643.80 172.04h0M644.44 172.06h0M645.08 172.08h0M645.72 172.11h0M646.35 172.13h0M646.99 172.15h0M647.63 172.18h0M648.27 172.20h0M648.91 172.22h0M649.55 172.25h0M650.19 172.27h0M650.83 172.29h0M651.47 172.32h0M652.11 172.34h0M652.75 172.36h0M653.39 172.38h0M654.03 172.41h0M654.67 172.43h0M655.31 172.45h0M655.95 172.47h0M656.58 172.50h0M657.22 172.52h0M657.86 172.54h0M658.50 172.56h0M659.14 172.59h0M659.78 172.61h0M660.42 172.63h0M661.06 172.65h0M661.70 172.68h0M662.34 172.70h0M662.98 172.72h0M663.62 172.74h0M664.26 172.76h0M664.90 172.79h0M665.54 172.81h0M666.18 172.83h0M666.82 172.85h0M667.45 172.87h0M668.09 172.90h0M668.73 172.92h0M669.37 172.94h0M670.01 172.96h0M670.65 172.98h0M671.29 173.01h0M671.93 173.03h0" stroke="#000" stroke-width="3.9" stroke-linecap="round" fill="none"/>
<polyline points="463.50,107.97 463.67,107.98 463.85,107.99 464.02,108.02 464.19,108.05 464.37,108.09 464.54,108.15 464.72,108.21 464.89,108.28 465.06,108.36 465.24,108.46 465.41,108.56 465.58,108.67 465.76,108.79 465.93,108.91 466.11,109.05 466.28,109.20 466.45,109.35 466.63,109.51 466.80,109.69 466.98,109.87 467.15,110.05 467.32,110.25 467.50,110.45 467.67,110.66 467.84,110.88 468.02,111.11 468.19,111.34 468.37,111.58 468.54,111.83 468.71,112.08 468.89,112.34 469.06,112.61 469.23,112.88 469.41,113.16 469.58,113.44 469.75,113.73 469.93,114.03 470.10,114.33 470.28,114.63 470.45,114.94 470.62,115.26 470.80,115.57 470.97,115.89 471.14,116.22 471.32,116.55 471.49,116.88 471.67,117.22 471.84,117.56 472.01,117.90 472.19,118.25 472.36,118.59 472.54,118.94 472.71,119.29 472.88,119.65 473.06,120.00 473.23,120.36 473.40,120.72 473.58,121.08 473.75,121.44 473.93,121.80 474.10,122.17 474.27,122.53 474.45,122.90 474.62,123.26 474.79,123.63 474.97,123.99 475.14,124.36 475.31,124.72 475.49,125.09 475.66,125.45 475.84,125.82 476.01,126.18 476.18,126.54 476.36,126.91 476.53,127.27 476.70,127.63 476.88,127.99 477.05,128.34 477.23,128.70 477.40,129.06 477.57,129.41 477.75,129.76 477.92,130.11 478.10,130.46 478.27,130.81 478.44,131.16 478.62,131.50 478.79,131.84 478.96,132.18 479.14,132.52 479.31,132.86 479.49,133.19 479.66,133.52 479.83,133.85 480.01,134.18 480.18,134.50 480.35,134.83 480.53,135.15 480.70,135.47 480.88,135.78 481.05,136.09 481.22,136.41 481.40,136.71 481.57,137.02 481.74,137.32 481.92,137.62 482.09,137.92 482.26,138.22 482.44,138.51 482.61,138.80 482.79,139.09 482.96,139.38 483.13,139.66 483.31,139.94 483.48,140.22 483.65,140.49 483.83,140.77 484.00,141.04 484.18,141.30 484.35,141.57 484.52,141.83 484.70,142.09 484.87,142.35 485.05,142.60 485.22,142.86 485.39,143.11 485.57,143.35 485.74,143.60 485.91,143.84 486.09,144.08 486.26,144.32 486.44,144.55 486.61,144.79 486.78,145.02 486.96,145.25 487.13,145.47 487.30,145.69 487.48,145.92 487.65,146.13 487.82,146.35 488.00,146.56 488.17,146.78 488.35,146.99 488.52,147.19 488.69,147.40 488.87,147.60 489.04,147.80 489.21,148.00 489.39,148.20 489.56,148.39 489.74,148.58 489.91,148.77 490.08,148.96 490.26,149.15 490.43,149.33 490.61,149.51 490.78,149.69 490.95,149.87 491.13,150.05 491.30,150.22 491.47,150.39 491.65,150.56 491.82,150.73 492.00,150.90 492.17,151.06 492.34,151.23 492.52,151.39 492.69,151.55 492.86,151.71 493.04,151.86 493.21,152.02 493.38,152.17 493.56,152.32 493.73,152.47 493.91,152.62 494.08,152.76 494.25,152.91 494.43,153.05 494.60,153.19 494.77,153.33 494.95,153.47 495.12,153.61 495.30,153.74 495.47,153.88 495.64,154.01 495.82,154.14 495.99,154.27 496.17,154.40 496.34,154.52 496.51,154.65 496.69,154.77 496.86,154.89 497.03,155.02 497.21,155.14 497.38,155.25 497.56,155.37 497.73,155.49 497.90,155.60 498.08,155.72 498.25,155.83 498.42,155.94 498.60,156.05 498.77,156.16 498.94,156.27 499.12,156.38 499.29,156.48 499.47,156.59 499.64,156.69 499.81,156.79 499.99,156.89 500.16,156.99 500.33,157.09 500.51,157.19 500.68,157.29 500.86,157.38 501.03,157.48 501.20,157.57 501.38,157.66 501.55,157.76 501.73,157.85 501.90,157.94 502.07,158.03 502.25,158.12 502.42,158.20 502.59,158.29 502.77,158.38 502.94,158.46 503.12,158.55 503.29,158.63 503.46,158.71 503.64,158.79 503.81,158.87 503.98,158.95 504.16,159.03 504.33,159.11 504.50,159.19 504.68,159.26 504.85,159.34 505.03,159.42 505.20,159.49 505.37,159.56 505.55,159.64 505.72,159.71 505.89,159.78 506.07,159.85 506.24,159.92 506.42,159.99 506.59,160.06 506.76,160.13 506.94,160.20 507.11,160.26 507.28,160.33 507.46,160.40 507.63,160.46 507.81,160.53 507.98,160.59 508.15,160.65 508.33,160.72 508.50,160.78 508.68,160.84 508.85,160.90 509.02,160.96 509.20,161.02 509.37,161.08 509.54,161.14 509.72,161.20 509.89,161.26 510.06,161.31 510.24,161.37 510.41,161.43 510.59,161.48 510.76,161.54 510.93,161.59 511.11,161.65 511.28,161.70 511.45,161.75 511.63,161.81 511.80,161.86 511.98,161.91 512.15,161.96 512.32,162.01 512.50,162.06 512.67,162.11 512.85,162.16 513.02,162.21 513.19,162.26 513.37,162.31 513.54,162.36 513.71,162.40 513.89,162.45 514.06,162.50 514.24,162.54 514.41,162.59 514.58,162.64 514.76,162.68 514.93,162.73 515.10,162.77 515.28,162.81 515.45,162.86 515.62,162.90 515.80,162.94 515.97,162.99 516.15,163.03 516.32,163.07 516.49,163.11 516.67,163.15 516.84,163.19 517.01,163.23 517.19,163.27 517.36,163.31 517.54,163.35 517.71,163.39 517.88,163.43 518.06,163.47 518.23,163.51 518.40,163.55 518.58,163.59 518.75,163.62 518.93,163.66 519.10,163.70 519.27,163.73 519.45,163.77 519.62,163.81 519.79,163.84 519.97,163.88 520.14,163.91 520.32,163.95 520.49,163.98 520.66,164.02 520.84,164.05 521.01,164.09 521.18,164.12 521.36,164.15 521.53,164.19 521.71,164.22 521.88,164.25 522.05,164.28 522.23,164.32 522.40,164.35 522.58,164.38 522.75,164.41 522.92,164.44 523.10,164.47 523.27,164.50 523.44,164.54 523.62,164.57 523.79,164.60 523.97,164.63 524.14,164.66 524.31,164.69 524.49,164.71 524.66,164.74 524.83,164.77 525.01,164.80 525.18,164.83 525.36,164.86 525.53,164.89 525.70,164.91 525.88,164.94 526.05,164.97 526.22,165.00 526.40,165.03 526.57,165.05 526.75,165.08 526.92,165.11 527.09,165.13 527.27,165.16 527.44,165.19 527.61,165.21 527.79,165.24 527.96,165.26 528.13,165.29 528.31,165.31 528.48,165.34 528.66,165.36 528.83,165.39 529.00,165.41 529.18,165.44 529.35,165.46 529.52,165.49 529.70,165.51 529.87,165.53 530.05,165.56 530.22,165.58 530.39,165.61 530.57,165.63 530.74,165.65 530.91,165.68 531.09,165.70 531.26,165.72 531.44,165.74 531.61,165.77 531.78,165.79 531.96,165.81 532.13,165.83 532.31,165.86 532.48,165.88 532.65,165.90 532.83,165.92 533.00,165.94 533.17,165.96 533.35,165.99 533.52,166.01 533.69,166.03 533.87,166.05 534.04,166.07 534.22,166.09 534.39,166.11 534.56,166.13 534.74,166.15 534.91,166.17 535.09,166.19 535.26,166.21 535.43,166.23 535.61,166.25 535.78,166.27 535.95,166.29 536.13,166.31 536.30,166.33 536.48,166.35 536.65,166.37 536.82,166.39 537.00,166.41 537.17,166.42 537.34,166.44 537.52,166.46 537.69,166.48 537.87,166.50 538.04,166.52 538.21,166.54 538.39,166.55 538.56,166.57 538.73,166.59 538.91,166.61 539.08,166.63 539.25,166.64 539.43,166.66 539.60,166.68 539.78,166.70 539.95,166.71 540.12,166.73 540.30,166.75 540.47,166.77 540.64,166.78 540.82,166.80 540.99,166.82 541.17,166.83 541.34,166.85 541.51,166.87 541.69,166.88 541.86,166.90 542.03,166.92 542.21,166.93 542.38,166.95 542.56,166.96 542.73,166.98 542.90,167.00 543.08,167.01 543.25,167.03 543.42,167.04 543.60,167.06 543.77,167.08 543.95,167.09 544.12,167.11 544.29,167.12 544.47,167.14 544.64,167.15 544.82,167.17 544.99,167.18 545.16,167.20 545.34,167.21 545.51,167.23 545.68,167.24 545.86,167.26 546.03,167.27 546.21,167.29 546.38,167.30 546.55,167.32 546.73,167.33 546.90,167.35 547.07,167.36 547.25,167.37 547.42,167.39 547.60,167.40 547.77,167.42 547.94,167.43 548.12,167.45 548.29,167.46 548.46,167.47 548.64,167.49 548.81,167.50 548.99,167.52 549.16,167.53 549.33,167.54 549.51,167.56 549.68,167.57 549.85,167.58 550.03,167.60 550.20,167.61 550.38,167.62 550.55,167.64 550.72,167.65 550.90,167.66 551.07,167.68 551.24,167.69 551.42,167.70 551.59,167.72 551.76,167.73 551.94,167.74 552.11,167.76 552.29,167.77 552.46,167.78 552.63,167.79 552.81,167.81 552.98,167.82 553.15,167.83 553.33,167.84 553.50,167.86 553.68,167.87 553.85,167.88 554.02,167.89 554.20,167.91 554.37,167.92 554.54,167.93 554.72,167.94 554.89,167.96 555.07,167.97 555.24,167.98 555.41,167.99 555.59,168.00 555.76,168.02 555.93,168.03 556.11,168.04 556.28,168.05 556.46,168.06 556.63,168.08 556.80,168.09 556.98,168.10 557.15,168.11 557.33,168.12 557.50,168.13 557.67,168.15 557.85,168.16 558.02,168.17 558.19,168.18 558.37,168.19 558.54,168.20 558.72,168.21 558.89,168.23 559.06,168.24 559.24,168.25 559.41,168.26 559.58,168.27 559.76,168.28 559.93,168.29 560.11,168.30 560.28,168.32 560.45,168.33 560.63,168.34 560.80,168.35 560.97,168.36 561.15,168.37 561.32,168.38 561.50,168.39 561.67,168.40 561.84,168.41 562.02,168.42 562.19,168.44 562.36,168.45 562.54,168.46 562.71,168.47 562.88,168.48 563.06,168.49 563.23,168.50 563.41,168.51 563.58,168.52 563.75,168.53 563.93,168.54 564.10,168.55 564.27,168.56 564.45,168.57 564.62,168.58 564.80,168.59 564.97,168.60 565.14,168.61 565.32,168.62 565.49,168.63 565.66,168.64 565.84,168.65 566.01,168.66 566.19,168.67 566.36,168.68 566.53,168.69 566.71,168.70 566.88,168.71 567.06,168.72 567.23,168.73 567.40,168.74 567.58,168.75 567.75,168.76 567.92,168.77 568.10,168.78 568.27,168.79 568.44,168.80 568.62,168.81 568.79,168.82 568.97,168.83 569.14,168.84 569.31,168.85 569.49,168.86 569.66,168.87 569.84,168.88 570.01,168.89 570.18,168.90 570.36,168.91 570.53,168.92 570.70,168.93 570.88,168.94 571.05,168.95 571.23,168.96 571.40,168.97 571.57,168.98 571.75,168.99 571.92,168.99 572.09,169.00 572.27,169.01 572.44,169.02 572.62,169.03 572.79,169.04 572.96,169.05 573.14,169.06 573.31,169.07 573.48,169.08 573.66,169.09 573.83,169.10 574.00,169.11 574.18,169.12 574.35,169.12 574.53,169.13 574.70,169.14 574.87,169.15 575.05,169.16 575.22,169.17 575.39,169.18 575.57,169.19 575.74,169.20 575.92,169.21 576.09,169.21 576.26,169.22 576.44,169.23 576.61,169.24 576.78,169.25 576.96,169.26 577.13,169.27 577.31,169.28 577.48,169.29 577.65,169.29 577.83,169.30 578.00,169.31 578.17,169.32 578.35,169.33 578.52,169.34 578.70,169.35 578.87,169.36 579.04,169.36 579.22,169.37 579.39,169.38 579.57,169.39 579.74,169.40 579.91,169.41 580.09,169.42 580.26,169.42 580.43,169.43 580.61,169.44 580.78,169.45 580.96,169.46 581.13,169.47 581.30,169.48 581.48,169.48 581.65,169.49 581.82,169.50 582.00,169.51 582.17,169.52 582.35,169.53 582.52,169.53 582.69,169.54 582.87,169.55 583.04,169.56 583.21,169.57 583.39,169.58 583.56,169.58 583.74,169.59 583.91,169.60 584.08,169.61 584.26,169.62 584.43,169.63 584.60,169.63 584.78,169.64 584.95,169.65 585.12,169.66 585.30,169.67 585.47,169.68 585.65,169.68 585.82,169.69 585.99,169.70 586.17,169.71 586.34,169.72 586.51,169.72 586.69,169.73 586.86,169.74 587.04,169.75 587.21,169.76 587.38,169.77 587.56,169.77 587.73,169.78 587.90,169.79 588.08,169.80 588.25,169.81 588.43,169.81 588.60,169.82 588.77,169.83 588.95,169.84 589.12,169.85 589.29,169.85 589.47,169.86 589.64,169.87 589.82,169.88 589.99,169.88 590.16,169.89 590.34,169.90 590.51,169.91 590.68,169.92 590.86,169.92 591.03,169.93 591.21,169.94 591.38,169.95 591.55,169.96 591.73,169.96 591.90,169.97 592.08,169.98 592.25,169.99 592.42,169.99 592.60,170.00 592.77,170.01 592.94,170.02 593.12,170.03 593.29,170.03 593.47,170.04 593.64,170.05 593.81,170.06 593.99,170.06 594.16,170.07 594.33,170.08 594.51,170.09 594.68,170.10 594.86,170.10 595.03,170.11 595.20,170.12 595.38,170.13 595.55,170.13 595.72,170.14 595.90,170.15 596.07,170.16 596.25,170.16 596.42,170.17 596.59,170.18 596.77,170.19 596.94,170.19 597.11,170.20 597.29,170.21 597.46,170.22 597.63,170.22 597.81,170.23 597.98,170.24 598.16,170.25 598.33,170.25 598.50,170.26 598.68,170.27 598.85,170.28 599.02,170.28 599.20,170.29 599.37,170.30 599.55,170.31 599.72,170.31 599.89,170.32 600.07,170.33 600.24,170.34 600.41,170.34 600.59,170.35 600.76,170.36 600.94,170.37 601.11,170.37 601.28,170.38 601.46,170.39 601.63,170.40 601.81,170.40 601.98,170.41 602.15,170.42 602.33,170.42 602.50,170.43 602.67,170.44 602.85,170.45 603.02,170.45 603.19,170.46 603.37,170.47 603.54,170.48 603.72,170.48 603.89,170.49 604.06,170.50 604.24,170.50 604.41,170.51 604.59,170.52 604.76,170.53 604.93,170.53 605.11,170.54 605.28,170.55 605.45,170.56 605.63,170.56 605.80,170.57 605.98,170.58 606.15,170.58 606.32,170.59 606.50,170.60 606.67,170.61 606.84,170.61 607.02,170.62 607.19,170.63 607.37,170.63 607.54,170.64 607.71,170.65 607.89,170.66 608.06,170.66 608.23,170.67 608.41,170.68 608.58,170.68 608.75,170.69 608.93,170.70 609.10,170.71 609.28,170.71 609.45,170.72 609.62,170.73 609.80,170.73 609.97,170.74 610.14,170.75 610.32,170.76 610.49,170.76 610.67,170.77 610.84,170.78 611.01,170.78 611.19,170.79 611.36,170.80 611.53,170.80 611.71,170.81 611.88,170.82 612.06,170.83 612.23,170.83 612.40,170.84 612.58,170.85 612.75,170.85 612.92,170.86 613.10,170.87 613.27,170.87 613.45,170.88 613.62,170.89 613.79,170.90 613.97,170.90 614.14,170.91 614.32,170.92 614.49,170.92 614.66,170.93 614.84,170.94 615.01,170.94 615.18,170.95 615.36,170.96 615.53,170.97 615.71,170.97 615.88,170.98 616.05,170.99 616.23,170.99 616.40,171.00 616.57,171.01 616.75,171.01 616.92,171.02 617.10,171.03 617.27,171.03 617.44,171.04 617.62,171.05 617.79,171.05 617.96,171.06 618.14,171.07 618.31,171.08 618.49,171.08 618.66,171.09 618.83,171.10 619.01,171.10 619.18,171.11 619.35,171.12 619.53,171.12 619.70,171.13 619.88,171.14 620.05,171.14 620.22,171.15 620.40,171.16 620.57,171.16 620.74,171.17 620.92,171.18 621.09,171.18 621.26,171.19 621.44,171.20 621.61,171.20 621.79,171.21 621.96,171.22 622.13,171.22 622.31,171.23 622.48,171.24 622.65,171.24 622.83,171.25 623.00,171.26 623.18,171.27 623.35,171.27 623.52,171.28 623.70,171.29 623.87,171.29 624.04,171.30 624.22,171.31 624.39,171.31 624.57,171.32 624.74,171.33 624.91,171.33 625.09,171.34 625.26,171.35 625.43,171.35 625.61,171.36 625.78,171.37 625.96,171.37 626.13,171.38 626.30,171.39 626.48,171.39 626.65,171.40 626.83,171.41 627.00,171.41 627.17,171.42 627.35,171.43 627.52,171.43 627.69,171.44 627.87,171.45 628.04,171.45 628.22,171.46 628.39,171.47 628.56,171.47 628.74,171.48 628.91,171.48 629.08,171.49 629.26,171.50 629.43,171.50 629.61,171.51 629.78,171.52 629.95,171.52 630.13,171.53 630.30,171.54 630.47,171.54 630.65,171.55 630.82,171.56 631.00,171.56 631.17,171.57 631.34,171.58 631.52,171.58 631.69,171.59 631.86,171.60 632.04,171.60 632.21,171.61 632.38,171.62 632.56,171.62 632.73,171.63 632.91,171.64 633.08,171.64 633.25,171.65 633.43,171.66 633.60,171.66 633.77,171.67 633.95,171.67 634.12,171.68 634.30,171.69 634.47,171.69 634.64,171.70 634.82,171.71 634.99,171.71 635.16,171.72 635.34,171.73 635.51,171.73 635.69,171.74 635.86,171.75 636.03,171.75 636.21,171.76 636.38,171.77 636.56,171.77 636.73,171.78 636.90,171.78 637.08,171.79 637.25,171.80 637.42,171.80 637.60,171.81 637.77,171.82 637.94,171.82 638.12,171.83 638.29,171.84 638.47,171.84 638.64,171.85 638.81,171.86 638.99,171.86 639.16,171.87 639.34,171.87 639.51,171.88 639.68,171.89 639.86,171.89 640.03,171.90 640.20,171.91 640.38,171.91 640.55,171.92 640.73,171.93 640.90,171.93 641.07,171.94 641.25,171.95 641.42,171.95 641.59,171.96 641.77,171.96 641.94,171.97 642.12,171.98 642.29,171.98 642.46,171.99 642.64,172.00 642.81,172.00 642.98,172.01 643.16,172.02 643.33,172.02 643.50,172.03 643.68,172.03 643.85,172.04 644.03,172.05 644.20,172.05 644.37,172.06 644.55,172.07 644.72,172.07 644.89,172.08 645.07,172.08 645.24,172.09 645.42,172.10 645.59,172.10 645.76,172.11 645.94,172.12 646.11,172.12 646.28,172.13 646.46,172.13 646.63,172.14 646.81,172.15 646.98,172.15 647.15,172.16 647.33,172.17 647.50,172.17 647.67,172.18 647.85,172.19 648.02,172.19 648.20,172.20 648.37,172.20 648.54,172.21 648.72,172.22 648.89,172.22 649.07,172.23 649.24,172.24 649.41,172.24 649.59,172.25 649.76,172.25 649.93,172.26 650.11,172.27 650.28,172.27 650.46,172.28 650.63,172.28 650.80,172.29 650.98,172.30 651.15,172.30 651.32,172.31 651.50,172.32 651.67,172.32 651.85,172.33 652.02,172.33 652.19,172.34 652.37,172.35 652.54,172.35 652.71,172.36 652.89,172.37 653.06,172.37 653.24,172.38 653.41,172.38 653.58,172.39 653.76,172.40 653.93,172.40 654.10,172.41 654.28,172.41 654.45,172.42 654.62,172.43 654.80,172.43 654.97,172.44 655.15,172.45 655.32,172.45 655.49,172.46 655.67,172.46 655.84,172.47 656.01,172.48 656.19,172.48 656.36,172.49 656.54,172.49 656.71,172.50 656.88,172.51 657.06,172.51 657.23,172.52 657.40,172.53 657.58,172.53 657.75,172.54 657.93,172.54 658.10,172.55 658.27,172.56 658.45,172.56 658.62,172.57 658.79,172.57 658.97,172.58 659.14,172.59 659.32,172.59 659.49,172.60 659.66,172.60 659.84,172.61 660.01,172.62 660.18,172.62 660.36,172.63 660.53,172.63 660.71,172.64 660.88,172.65 661.05,172.65 661.23,172.66 661.40,172.67 661.58,172.67 661.75,172.68 661.92,172.68 662.10,172.69 662.27,172.70 662.44,172.70 662.62,172.71 662.79,172.71 662.97,172.72 663.14,172.73 663.31,172.73 663.49,172.74 663.66,172.74 663.83,172.75 664.01,172.76 664.18,172.76 664.36,172.77 664.53,172.77 664.70,172.78 664.88,172.79 665.05,172.79 665.22,172.80 665.40,172.80 665.57,172.81 665.75,172.82 665.92,172.82 666.09,172.83 666.27,172.83 666.44,172.84 666.61,172.85 666.79,172.85 666.96,172.86 667.13,172.86 667.31,172.87 667.48,172.88 667.66,172.88 667.83,172.89 668.00,172.89 668.18,172.90 668.35,172.91 668.52,172.91 668.70,172.92 668.87,172.92 669.05,172.93 669.22,172.93 669.39,172.94 669.57,172.95 669.74,172.95 669.91,172.96 670.09,172.96 670.26,172.97 670.44,172.98 670.61,172.98 670.78,172.99 670.96,172.99 671.13,173.00 671.31,173.01 671.48,173.01 671.65,173.02 671.83,173.02 672.00,173.03" fill="none" stroke="#ff0000" stroke-width="1.8"/>
</g>
<g clip-path="url(#c01)">
<polyline points="46.50,316.21 46.85,316.21 47.20,316.23 47.54,316.26 47.89,316.29 48.24,316.34 48.59,316.40 48.93,316.47 49.28,316.55 49.63,316.64 49.98,316.73 50.32,316.84 50.67,316.96 51.02,317.09 51.37,317.23 51.71,317.38 52.06,317.53 52.41,317.70 52.76,317.87 53.10,318.05 53.45,318.24 53.80,318.44 54.14,318.65 54.49,318.86 54.84,319.08 55.19,319.31 55.53,319.55 55.88,319.79 56.23,320.04 56.58,320.29 56.92,320.55 57.27,320.82 57.62,321.09 57.97,321.36 58.31,321.64 58.66,321.93 59.01,322.22 59.36,322.51 59.70,322.81 60.05,323.11 60.40,323.41 60.75,323.71 61.09,324.02 61.44,324.33 61.79,324.65 62.14,324.96 62.48,325.28 62.83,325.60 63.18,325.92 63.53,326.24 63.88,326.56 64.22,326.88 64.57,327.21 64.92,327.53 65.27,327.86 65.61,328.18 65.96,328.50 66.31,328.83 66.66,329.15 67.00,329.47 67.35,329.79 67.70,330.12 68.05,330.44 68.39,330.75 68.74,331.07 69.09,331.39 69.44,331.70 69.78,332.02 70.13,332.33 70.48,332.64 70.83,332.95 71.17,333.25 71.52,333.56 71.87,333.86 72.22,334.16 72.56,334.46 72.91,334.75 73.26,335.05 73.61,335.34 73.95,335.63 74.30,335.91 74.65,336.20 75.00,336.48 75.34,336.76 75.69,337.03 76.04,337.31 76.39,337.58 76.73,337.85 77.08,338.11 77.43,338.38 77.78,338.64 78.12,338.90 78.47,339.15 78.82,339.40 79.16,339.65 79.51,339.90 79.86,340.15 80.21,340.39 80.56,340.63 80.90,340.87 81.25,341.10 81.60,341.33 81.94,341.56 82.29,341.79 82.64,342.01 82.99,342.23 83.34,342.45 83.68,342.67 84.03,342.88 84.38,343.09 84.72,343.30 85.07,343.51 85.42,343.71 85.77,343.91 86.12,344.11 86.46,344.31 86.81,344.50 87.16,344.69 87.50,344.88 87.85,345.07 88.20,345.25 88.55,345.44 88.90,345.62 89.24,345.79 89.59,345.97 89.94,346.14 90.28,346.32 90.63,346.48 90.98,346.65 91.33,346.82 91.67,346.98 92.02,347.14 92.37,347.30 92.72,347.46 93.06,347.61 93.41,347.77 93.76,347.92 94.11,348.07 94.45,348.21 94.80,348.36 95.15,348.50 95.50,348.65 95.84,348.79 96.19,348.92 96.54,349.06 96.89,349.20 97.23,349.33 97.58,349.46 97.93,349.59 98.28,349.72 98.62,349.85 98.97,349.97 99.32,350.10 99.67,350.22 100.02,350.34 100.36,350.46 100.71,350.58 101.06,350.69 101.41,350.81 101.75,350.92 102.10,351.03 102.45,351.14 102.80,351.25 103.14,351.36 103.49,351.47 103.84,351.57 104.19,351.68 104.53,351.78 104.88,351.88 105.23,351.98 105.58,352.08 105.92,352.18 106.27,352.27 106.62,352.37 106.97,352.46 107.31,352.56 107.66,352.65 108.01,352.74 108.35,352.83 108.70,352.92 109.05,353.01 109.40,353.09 109.75,353.18 110.09,353.26 110.44,353.35 110.79,353.43 111.14,353.51 111.48,353.59 111.83,353.67 112.18,353.75 112.53,353.83 112.87,353.91 113.22,353.98 113.57,354.06 113.92,354.13 114.26,354.21 114.61,354.28 114.96,354.35 115.31,354.42 115.65,354.49 116.00,354.56 116.35,354.63 116.69,354.70 117.04,354.77 117.39,354.83 117.74,354.90 118.08,354.96 118.43,355.03 118.78,355.09 119.13,355.16 119.47,355.22 119.82,355.28 120.17,355.34 120.52,355.40 120.86,355.46 121.21,355.52 121.56,355.58 121.91,355.63 122.25,355.69 122.60,355.75 122.95,355.80 123.30,355.86 123.64,355.91 123.99,355.97 124.34,356.02 124.69,356.07 125.03,356.12 125.38,356.18 125.73,356.23 126.08,356.28 126.42,356.33 126.77,356.38 127.12,356.43 127.47,356.47 127.81,356.52 128.16,356.57 128.51,356.62 128.86,356.66 129.20,356.71 129.55,356.75 129.90,356.80 130.25,356.84 130.59,356.89 130.94,356.93 131.29,356.98 131.64,357.02 131.99,357.06 132.33,357.10 132.68,357.14 133.03,357.19 133.38,357.23 133.72,357.27 134.07,357.31 134.42,357.35 134.76,357.38 135.11,357.42 135.46,357.46 135.81,357.50 136.16,357.54 136.50,357.57 136.85,357.61 137.20,357.65 137.55,357.68 137.89,357.72 138.24,357.76 138.59,357.79 138.94,357.83 139.28,357.86 139.63,357.89 139.98,357.93 140.32,357.96 140.67,357.99 141.02,358.03 141.37,358.06 141.72,358.09 142.06,358.12 142.41,358.16 142.76,358.19 143.11,358.22 143.45,358.25 143.80,358.28 144.15,358.31 144.50,358.34 144.84,358.37 145.19,358.40 145.54,358.43 145.88,358.46 146.23,358.48 146.58,358.51 146.93,358.54 147.28,358.57 147.62,358.60 147.97,358.62 148.32,358.65 148.67,358.68 149.01,358.70 149.36,358.73 149.71,358.76 150.06,358.78 150.40,358.81 150.75,358.83 151.10,358.86 151.44,358.88 151.79,358.91 152.14,358.93 152.49,358.96 152.83,358.98 153.18,359.00 153.53,359.03 153.88,359.05 154.22,359.08 154.57,359.10 154.92,359.12 155.27,359.14 155.62,359.17 155.96,359.19 156.31,359.21 156.66,359.23 157.00,359.25 157.35,359.28 157.70,359.30 158.05,359.32 158.39,359.34 158.74,359.36 159.09,359.38 159.44,359.40 159.78,359.42 160.13,359.44 160.48,359.46 160.83,359.48 161.18,359.50 161.52,359.52 161.87,359.54 162.22,359.56 162.56,359.58 162.91,359.60 163.26,359.62 163.61,359.64 163.95,359.65 164.30,359.67 164.65,359.69 165.00,359.71 165.34,359.73 165.69,359.74 166.04,359.76 166.39,359.78 166.74,359.80 167.08,359.81 167.43,359.83 167.78,359.85 168.12,359.86 168.47,359.88 168.82,359.90 169.17,359.91 169.51,359.93 169.86,359.95 170.21,359.96 170.56,359.98 170.91,359.99 171.25,360.01 171.60,360.03 171.95,360.04 172.30,360.06 172.64,360.07 172.99,360.09 173.34,360.10 173.69,360.12 174.03,360.13 174.38,360.15 174.73,360.16 175.07,360.17 175.42,360.19 175.77,360.20 176.12,360.22 176.47,360.23 176.81,360.24 177.16,360.26 177.51,360.27 177.85,360.29 178.20,360.30 178.55,360.31 178.90,360.33 179.25,360.34 179.59,360.35 179.94,360.37 180.29,360.38 180.63,360.39 180.98,360.40 181.33,360.42 181.68,360.43 182.03,360.44 182.37,360.45 182.72,360.47 183.07,360.48 183.41,360.49 183.76,360.50 184.11,360.51 184.46,360.53 184.81,360.54 185.15,360.55 185.50,360.56 185.85,360.57 186.19,360.58 186.54,360.60 186.89,360.61 187.24,360.62 187.59,360.63 187.93,360.64 188.28,360.65 188.63,360.66 188.97,360.67 189.32,360.68 189.67,360.69 190.02,360.70 190.37,360.72 190.71,360.73 191.06,360.74 191.41,360.75 191.75,360.76 192.10,360.77 192.45,360.78 192.80,360.79 193.15,360.80 193.49,360.81 193.84,360.82 194.19,360.83 194.53,360.84 194.88,360.85 195.23,360.86 195.58,360.87 195.93,360.87 196.27,360.88 196.62,360.89 196.97,360.90 197.31,360.91 197.66,360.92 198.01,360.93 198.36,360.94 198.71,360.95 199.05,360.96 199.40,360.97 199.75,360.97 200.09,360.98 200.44,360.99 200.79,361.00 201.14,361.01 201.49,361.02 201.83,361.03 202.18,361.03 202.53,361.04 202.88,361.05 203.22,361.06 203.57,361.07 203.92,361.08 204.26,361.08 204.61,361.09 204.96,361.10 205.31,361.11 205.66,361.12 206.00,361.12 206.35,361.13 206.70,361.14 207.04,361.15 207.39,361.16 207.74,361.16 208.09,361.17 208.44,361.18 208.78,361.19 209.13,361.19 209.48,361.20 209.82,361.21 210.17,361.21 210.52,361.22 210.87,361.23 211.22,361.24 211.56,361.24 211.91,361.25 212.26,361.26 212.60,361.26 212.95,361.27 213.30,361.28 213.65,361.29 214.00,361.29 214.34,361.30 214.69,361.31 215.04,361.31 215.38,361.32 215.73,361.33 216.08,361.33 216.43,361.34 216.78,361.35 217.12,361.35 217.47,361.36 217.82,361.37 218.16,361.37 218.51,361.38 218.86,361.38 219.21,361.39 219.56,361.40 219.90,361.40 220.25,361.41 220.60,361.42 220.94,361.42 221.29,361.43 221.64,361.43 221.99,361.44 222.34,361.45 222.68,361.45 223.03,361.46 223.38,361.46 223.72,361.47 224.07,361.47 224.42,361.48 224.77,361.49 225.12,361.49 225.46,361.50 225.81,361.50 226.16,361.51 226.50,361.51 226.85,361.52 227.20,361.53 227.55,361.53 227.90,361.54 228.24,361.54 228.59,361.55 228.94,361.55 229.28,361.56 229.63,361.56 229.98,361.57 230.33,361.57 230.68,361.58 231.02,361.58 231.37,361.59 231.72,361.59 232.06,361.60 232.41,361.60 232.76,361.61 233.11,361.61 233.46,361.62 233.80,361.62 234.15,361.63 234.50,361.63 234.84,361.64 235.19,361.64 235.54,361.65 235.89,361.65 236.24,361.66 236.58,361.66 236.93,361.67 237.28,361.67 237.62,361.68 237.97,361.68 238.32,361.69 238.67,361.69 239.01,361.70 239.36,361.70 239.71,361.71 240.06,361.71 240.41,361.71 240.75,361.72 241.10,361.72 241.45,361.73 241.79,361.73 242.14,361.74 242.49,361.74 242.84,361.74 243.19,361.75 243.53,361.75 243.88,361.76 244.23,361.76 244.57,361.77 244.92,361.77 245.27,361.77 245.62,361.78 245.97,361.78 246.31,361.79 246.66,361.79 247.01,361.80 247.35,361.80 247.70,361.80 248.05,361.81 248.40,361.81 248.75,361.82 249.09,361.82 249.44,361.82 249.79,361.83 250.13,361.83 250.48,361.83 250.83,361.84 251.18,361.84 251.53,361.85 251.87,361.85 252.22,361.85 252.57,361.86 252.91,361.86 253.26,361.87 253.61,361.87 253.96,361.87 254.31,361.88 254.65,361.88 255.00,361.88" fill="none" stroke="#1010ff" stroke-width="1.1"/>
<polyline points="46.50,363.00 46.85,363.00 47.20,362.99 47.54,362.98 47.89,362.97 48.24,362.95 48.59,362.93 48.93,362.91 49.28,362.88 49.63,362.85 49.98,362.82 50.32,362.78 50.67,362.74 51.02,362.69 51.37,362.65 51.71,362.60 52.06,362.54 52.41,362.49 52.76,362.43 53.10,362.36 53.45,362.30 53.80,362.23 54.14,362.16 54.49,362.09 54.84,362.01 55.19,361.93 55.53,361.85 55.88,361.77 56.23,361.69 56.58,361.60 56.92,361.51 57.27,361.42 57.62,361.33 57.97,361.24 58.31,361.14 58.66,361.05 59.01,360.95 59.36,360.85 59.70,360.75 60.05,360.65 60.40,360.55 60.75,360.45 61.09,360.35 61.44,360.25 61.79,360.14 62.14,360.04 62.48,359.93 62.83,359.83 63.18,359.73 63.53,359.62 63.88,359.52 64.22,359.41 64.57,359.31 64.92,359.20 65.27,359.10 65.61,358.99 65.96,358.89 66.31,358.78 66.66,358.68 67.00,358.58 67.35,358.47 67.70,358.37 68.05,358.27 68.39,358.17 68.74,358.07 69.09,357.97 69.44,357.87 69.78,357.77 70.13,357.67 70.48,357.58 70.83,357.48 71.17,357.38 71.52,357.29 71.87,357.20 72.22,357.10 72.56,357.01 72.91,356.92 73.26,356.83 73.61,356.74 73.95,356.65 74.30,356.56 74.65,356.48 75.00,356.39 75.34,356.31 75.69,356.22 76.04,356.14 76.39,356.06 76.73,355.98 77.08,355.90 77.43,355.82 77.78,355.74 78.12,355.66 78.47,355.59 78.82,355.51 79.16,355.44 79.51,355.37 79.86,355.29 80.21,355.22 80.56,355.15 80.90,355.08 81.25,355.01 81.60,354.95 81.94,354.88 82.29,354.81 82.64,354.75 82.99,354.68 83.34,354.62 83.68,354.56 84.03,354.50 84.38,354.44 84.72,354.38 85.07,354.32 85.42,354.26 85.77,354.20 86.12,354.15 86.46,354.09 86.81,354.04 87.16,353.98 87.50,353.93 87.85,353.88 88.20,353.83 88.55,353.78 88.90,353.73 89.24,353.68 89.59,353.63 89.94,353.58 90.28,353.54 90.63,353.49 90.98,353.44 91.33,353.40 91.67,353.35 92.02,353.31 92.37,353.27 92.72,353.23 93.06,353.18 93.41,353.14 93.76,353.10 94.11,353.06 94.45,353.02 94.80,352.99 95.15,352.95 95.50,352.91 95.84,352.87 96.19,352.84 96.54,352.80 96.89,352.77 97.23,352.73 97.58,352.70 97.93,352.66 98.28,352.63 98.62,352.60 98.97,352.57 99.32,352.54 99.67,352.51 100.02,352.48 100.36,352.45 100.71,352.42 101.06,352.39 101.41,352.36 101.75,352.33 102.10,352.30 102.45,352.28 102.80,352.25 103.14,352.22 103.49,352.20 103.84,352.17 104.19,352.15 104.53,352.12 104.88,352.10 105.23,352.08 105.58,352.05 105.92,352.03 106.27,352.01 106.62,351.98 106.97,351.96 107.31,351.94 107.66,351.92 108.01,351.90 108.35,351.88 108.70,351.86 109.05,351.84 109.40,351.82 109.75,351.80 110.09,351.78 110.44,351.76 110.79,351.75 111.14,351.73 111.48,351.71 111.83,351.69 112.18,351.68 112.53,351.66 112.87,351.64 113.22,351.63 113.57,351.61 113.92,351.60 114.26,351.58 114.61,351.57 114.96,351.55 115.31,351.54 115.65,351.53 116.00,351.51 116.35,351.50 116.69,351.48 117.04,351.47 117.39,351.46 117.74,351.45 118.08,351.43 118.43,351.42 118.78,351.41 119.13,351.40 119.47,351.39 119.82,351.38 120.17,351.37 120.52,351.36 120.86,351.34 121.21,351.33 121.56,351.32 121.91,351.31 122.25,351.31 122.60,351.30 122.95,351.29 123.30,351.28 123.64,351.27 123.99,351.26 124.34,351.25 124.69,351.24 125.03,351.24 125.38,351.23 125.73,351.22 126.08,351.21 126.42,351.21 126.77,351.20 127.12,351.19 127.47,351.18 127.81,351.18 128.16,351.17 128.51,351.17 128.86,351.16 129.20,351.15 129.55,351.15 129.90,351.14 130.25,351.14 130.59,351.13 130.94,351.13 131.29,351.12 131.64,351.12 131.99,351.11 132.33,351.11 132.68,351.10 133.03,351.10 133.38,351.09 133.72,351.09 134.07,351.09 134.42,351.08 134.76,351.08 135.11,351.08 135.46,351.07 135.81,351.07 136.16,351.07 136.50,351.06 136.85,351.06 137.20,351.06 137.55,351.05 137.89,351.05 138.24,351.05 138.59,351.05 138.94,351.05 139.28,351.04 139.63,351.04 139.98,351.04 140.32,351.04 140.67,351.04 141.02,351.03 141.37,351.03 141.72,351.03 142.06,351.03 142.41,351.03 142.76,351.03 143.11,351.03 143.45,351.03 143.80,351.03 144.15,351.03 144.50,351.03 144.84,351.03 145.19,351.03 145.54,351.03 145.88,351.03 146.23,351.03 146.58,351.03 146.93,351.03 147.28,351.03 147.62,351.03 147.97,351.03 148.32,351.03 148.67,351.03 149.01,351.03 149.36,351.03 149.71,351.03 150.06,351.03 150.40,351.03 150.75,351.03 151.10,351.04 151.44,351.04 151.79,351.04 152.14,351.04 152.49,351.04 152.83,351.04 153.18,351.04 153.53,351.05 153.88,351.05 154.22,351.05 154.57,351.05 154.92,351.05 155.27,351.06 155.62,351.06 155.96,351.06 156.31,351.06 156.66,351.07 157.00,351.07 157.35,351.07 157.70,351.07 158.05,351.08 158.39,351.08 158.74,351.08 159.09,351.08 159.44,351.09 159.78,351.09 160.13,351.09 160.48,351.10 160.83,351.10 161.18,351.10 161.52,351.11 161.87,351.11 162.22,351.11 162.56,351.12 162.91,351.12 163.26,351.12 163.61,351.13 163.95,351.13 164.30,351.14 164.65,351.14 165.00,351.14 165.34,351.15 165.69,351.15 166.04,351.15 166.39,351.16 166.74,351.16 167.08,351.17 167.43,351.17 167.78,351.18 168.12,351.18 168.47,351.18 168.82,351.19 169.17,351.19 169.51,351.20 169.86,351.20 170.21,351.21 170.56,351.21 170.91,351.22 171.25,351.22 171.60,351.23 171.95,351.23 172.30,351.24 172.64,351.24 172.99,351.25 173.34,351.25 173.69,351.26 174.03,351.26 174.38,351.27 174.73,351.27 175.07,351.28 175.42,351.28 175.77,351.29 176.12,351.29 176.47,351.30 176.81,351.30 177.16,351.31 177.51,351.32 177.85,351.32 178.20,351.33 178.55,351.33 178.90,351.34 179.25,351.34 179.59,351.35 179.94,351.36 180.29,351.36 180.63,351.37 180.98,351.37 181.33,351.38 181.68,351.38 182.03,351.39 182.37,351.40 182.72,351.40 183.07,351.41 183.41,351.42 183.76,351.42 184.11,351.43 184.46,351.43 184.81,351.44 185.15,351.45 185.50,351.45 185.85,351.46 186.19,351.47 186.54,351.47 186.89,351.48 187.24,351.49 187.59,351.49 187.93,351.50 188.28,351.50 188.63,351.51 188.97,351.52 189.32,351.52 189.67,351.53 190.02,351.54 190.37,351.55 190.71,351.55 191.06,351.56 191.41,351.57 191.75,351.57 192.10,351.58 192.45,351.59 192.80,351.59 193.15,351.60 193.49,351.61 193.84,351.61 194.19,351.62 194.53,351.63 194.88,351.64 195.23,351.64 195.58,351.65 195.93,351.66 196.27,351.66 196.62,351.67 196.97,351.68 197.31,351.69 197.66,351.69 198.01,351.70 198.36,351.71 198.71,351.72 199.05,351.72 199.40,351.73 199.75,351.74 200.09,351.75 200.44,351.75 200.79,351.76 201.14,351.77 201.49,351.78 201.83,351.78 202.18,351.79 202.53,351.80 202.88,351.81 203.22,351.81 203.57,351.82 203.92,351.83 204.26,351.84 204.61,351.84 204.96,351.85 205.31,351.86 205.66,351.87 206.00,351.88 206.35,351.88 206.70,351.89 207.04,351.90 207.39,351.91 207.74,351.91 208.09,351.92 208.44,351.93 208.78,351.94 209.13,351.95 209.48,351.95 209.82,351.96 210.17,351.97 210.52,351.98 210.87,351.99 211.22,351.99 211.56,352.00 211.91,352.01 212.26,352.02 212.60,352.03 212.95,352.03 213.30,352.04 213.65,352.05 214.00,352.06 214.34,352.07 214.69,352.08 215.04,352.08 215.38,352.09 215.73,352.10 216.08,352.11 216.43,352.12 216.78,352.12 217.12,352.13 217.47,352.14 217.82,352.15 218.16,352.16 218.51,352.17 218.86,352.17 219.21,352.18 219.56,352.19 219.90,352.20 220.25,352.21 220.60,352.22 220.94,352.23 221.29,352.23 221.64,352.24 221.99,352.25 222.34,352.26 222.68,352.27 223.03,352.28 223.38,352.28 223.72,352.29 224.07,352.30 224.42,352.31 224.77,352.32 225.12,352.33 225.46,352.34 225.81,352.34 226.16,352.35 226.50,352.36 226.85,352.37 227.20,352.38 227.55,352.39 227.90,352.40 228.24,352.40 228.59,352.41 228.94,352.42 229.28,352.43 229.63,352.44 229.98,352.45 230.33,352.46 230.68,352.47 231.02,352.47 231.37,352.48 231.72,352.49 232.06,352.50 232.41,352.51 232.76,352.52 233.11,352.53 233.46,352.54 233.80,352.54 234.15,352.55 234.50,352.56 234.84,352.57 235.19,352.58 235.54,352.59 235.89,352.60 236.24,352.61 236.58,352.61 236.93,352.62 237.28,352.63 237.62,352.64 237.97,352.65 238.32,352.66 238.67,352.67 239.01,352.68 239.36,352.69 239.71,352.69 240.06,352.70 240.41,352.71 240.75,352.72 241.10,352.73 241.45,352.74 241.79,352.75 242.14,352.76 242.49,352.77 242.84,352.77 243.19,352.78 243.53,352.79 243.88,352.80 244.23,352.81 244.57,352.82 244.92,352.83 245.27,352.84 245.62,352.85 245.97,352.86 246.31,352.86 246.66,352.87 247.01,352.88 247.35,352.89 247.70,352.90 248.05,352.91 248.40,352.92 248.75,352.93 249.09,352.94 249.44,352.95 249.79,352.95 250.13,352.96 250.48,352.97 250.83,352.98 251.18,352.99 251.53,353.00 251.87,353.01 252.22,353.02 252.57,353.03 252.91,353.04 253.26,353.04 253.61,353.05 253.96,353.06 254.31,353.07 254.65,353.08 255.00,353.09" fill="none" stroke="#22dd22" stroke-width="1.1"/>
<path d="M47.13 316.22h0M47.76 316.25h0M48.40 316.31h0M49.04 316.39h0M49.68 316.50h0M50.32 316.62h0M50.96 316.77h0M51.60 316.94h0M52.24 317.13h0M52.88 317.34h0M53.52 317.57h0M54.16 317.81h0M54.80 318.08h0M55.44 318.36h0M56.08 318.65h0M56.72 318.96h0M57.36 319.28h0M58.00 319.61h0M58.63 319.96h0M59.27 320.31h0M59.91 320.68h0M60.55 321.05h0M61.19 321.43h0M61.83 321.82h0M62.47 322.21h0M63.11 322.60h0M63.75 323.00h0M64.39 323.40h0M65.03 323.80h0M65.67 324.21h0M66.31 324.61h0M66.95 325.01h0M67.59 325.42h0M68.23 325.82h0M68.87 326.22h0M69.50 326.61h0M70.14 327.01h0M70.78 327.40h0M71.42 327.79h0M72.06 328.17h0M72.70 328.55h0M73.34 328.92h0M73.98 329.29h0M74.62 329.66h0M75.26 330.02h0M75.90 330.37h0M76.54 330.72h0M77.18 331.06h0M77.82 331.40h0M78.46 331.73h0M79.10 332.06h0M79.73 332.38h0M80.37 332.69h0M81.01 333.00h0M81.65 333.30h0M82.29 333.60h0M82.93 333.89h0M83.57 334.18h0M84.21 334.46h0M84.85 334.73h0M85.49 335.00h0M86.13 335.26h0M86.77 335.52h0M87.41 335.78h0M88.05 336.02h0M88.69 336.27h0M89.33 336.50h0M89.97 336.74h0M90.60 336.96h0M91.24 337.19h0M91.88 337.40h0M92.52 337.62h0M93.16 337.83h0M93.80 338.03h0M94.44 338.23h0M95.08 338.43h0M95.72 338.62h0M96.36 338.81h0M97.00 338.99h0M97.64 339.17h0M98.28 339.35h0M98.92 339.52h0M99.56 339.69h0M100.20 339.86h0M100.84 340.02h0M101.47 340.18h0M102.11 340.34h0M102.75 340.49h0M103.39 340.64h0M104.03 340.79h0M104.67 340.93h0M105.31 341.07h0M105.95 341.21h0M106.59 341.35h0M107.23 341.48h0M107.87 341.61h0M108.51 341.74h0M109.15 341.87h0M109.79 341.99h0M110.43 342.11h0M111.07 342.23h0M111.70 342.35h0M112.34 342.46h0M112.98 342.57h0M113.62 342.68h0M114.26 342.79h0M114.90 342.90h0M115.54 343.00h0M116.18 343.10h0M116.82 343.20h0M117.46 343.30h0M118.10 343.40h0M118.74 343.50h0M119.38 343.59h0M120.02 343.68h0M120.66 343.77h0M121.30 343.86h0M121.94 343.95h0M122.57 344.04h0M123.21 344.12h0M123.85 344.21h0M124.49 344.29h0M125.13 344.37h0M125.77 344.45h0M126.41 344.53h0M127.05 344.61h0M127.69 344.69h0M128.33 344.76h0M128.97 344.84h0M129.61 344.91h0M130.25 344.98h0M130.89 345.05h0M131.53 345.12h0M132.17 345.19h0M132.81 345.26h0M133.44 345.33h0M134.08 345.39h0M134.72 345.46h0M135.36 345.52h0M136.00 345.59h0M136.64 345.65h0M137.28 345.71h0M137.92 345.77h0M138.56 345.84h0M139.20 345.89h0M139.84 345.95h0M140.48 346.01h0M141.12 346.07h0M141.76 346.13h0M142.40 346.18h0M143.04 346.24h0M143.67 346.29h0M144.31 346.35h0M144.95 346.40h0M145.59 346.46h0M146.23 346.51h0M146.87 346.56h0M147.51 346.61h0M148.15 346.66h0M148.79 346.72h0M149.43 346.77h0M150.07 346.81h0M150.71 346.86h0M151.35 346.91h0M151.99 346.96h0M152.63 347.01h0M153.27 347.06h0M153.91 347.10h0M154.54 347.15h0M155.18 347.19h0M155.82 347.24h0M156.46 347.28h0M157.10 347.33h0M157.74 347.37h0M158.38 347.42h0M159.02 347.46h0M159.66 347.50h0M160.30 347.55h0M160.94 347.59h0M161.58 347.63h0M162.22 347.67h0M162.86 347.71h0M163.50 347.76h0M164.14 347.80h0M164.78 347.84h0M165.41 347.88h0M166.05 347.92h0M166.69 347.96h0M167.33 348.00h0M167.97 348.04h0M168.61 348.07h0M169.25 348.11h0M169.89 348.15h0M170.53 348.19h0M171.17 348.23h0M171.81 348.26h0M172.45 348.30h0M173.09 348.34h0M173.73 348.37h0M174.37 348.41h0M175.01 348.45h0M175.64 348.48h0M176.28 348.52h0M176.92 348.56h0M177.56 348.59h0M178.20 348.63h0M178.84 348.66h0M179.48 348.70h0M180.12 348.73h0M180.76 348.76h0M181.40 348.80h0M182.04 348.83h0M182.68 348.87h0M183.32 348.90h0M183.96 348.93h0M184.60 348.97h0M185.24 349.00h0M185.88 349.03h0M186.51 349.07h0M187.15 349.10h0M187.79 349.13h0M188.43 349.16h0M189.07 349.20h0M189.71 349.23h0M190.35 349.26h0M190.99 349.29h0M191.63 349.32h0M192.27 349.35h0M192.91 349.39h0M193.55 349.42h0M194.19 349.45h0M194.83 349.48h0M195.47 349.51h0M196.11 349.54h0M196.75 349.57h0M197.38 349.60h0M198.02 349.63h0M198.66 349.66h0M199.30 349.69h0M199.94 349.72h0M200.58 349.75h0M201.22 349.78h0M201.86 349.81h0M202.50 349.84h0M203.14 349.87h0M203.78 349.90h0M204.42 349.93h0M205.06 349.96h0M205.70 349.99h0M206.34 350.01h0M206.98 350.04h0M207.61 350.07h0M208.25 350.10h0M208.89 350.13h0M209.53 350.16h0M210.17 350.18h0M210.81 350.21h0M211.45 350.24h0M212.09 350.27h0M212.73 350.30h0M213.37 350.32h0M214.01 350.35h0M214.65 350.38h0M215.29 350.41h0M215.93 350.43h0M216.57 350.46h0M217.21 350.49h0M217.85 350.52h0M218.48 350.54h0M219.12 350.57h0M219.76 350.60h0M220.40 350.62h0M221.04 350.65h0M221.68 350.68h0M222.32 350.70h0M222.96 350.73h0M223.60 350.76h0M224.24 350.78h0M224.88 350.81h0M225.52 350.84h0M226.16 350.86h0M226.80 350.89h0M227.44 350.91h0M228.08 350.94h0M228.72 350.97h0M229.35 350.99h0M229.99 351.02h0M230.63 351.04h0M231.27 351.07h0M231.91 351.09h0M232.55 351.12h0M233.19 351.14h0M233.83 351.17h0M234.47 351.20h0M235.11 351.22h0M235.75 351.25h0M236.39 351.27h0M237.03 351.30h0M237.67 351.32h0M238.31 351.35h0M238.95 351.37h0M239.58 351.39h0M240.22 351.42h0M240.86 351.44h0M241.50 351.47h0M242.14 351.49h0M242.78 351.52h0M243.42 351.54h0M244.06 351.57h0M244.70 351.59h0M245.34 351.61h0M245.98 351.64h0M246.62 351.66h0M247.26 351.69h0M247.90 351.71h0M248.54 351.73h0M249.18 351.76h0M249.82 351.78h0M250.45 351.81h0M251.09 351.83h0M251.73 351.85h0M252.37 351.88h0M253.01 351.90h0M253.65 351.92h0M254.29 351.95h0M254.93 351.97h0" stroke="#000" stroke-width="3.9" stroke-linecap="round" fill="none"/>
<polyline points="46.50,316.21 46.67,316.21 46.85,316.21 47.02,316.22 47.20,316.22 47.37,316.23 47.54,316.24 47.72,316.25 47.89,316.26 48.06,316.28 48.24,316.30 48.41,316.31 48.59,316.33 48.76,316.35 48.93,316.38 49.11,316.40 49.28,316.43 49.45,316.46 49.63,316.49 49.80,316.52 49.98,316.55 50.15,316.59 50.32,316.62 50.50,316.66 50.67,316.70 50.84,316.74 51.02,316.78 51.19,316.83 51.37,316.88 51.54,316.92 51.71,316.97 51.89,317.02 52.06,317.07 52.23,317.13 52.41,317.18 52.58,317.24 52.76,317.30 52.93,317.36 53.10,317.42 53.28,317.48 53.45,317.54 53.62,317.61 53.80,317.67 53.97,317.74 54.14,317.81 54.32,317.88 54.49,317.95 54.67,318.02 54.84,318.09 55.01,318.17 55.19,318.24 55.36,318.32 55.53,318.40 55.71,318.48 55.88,318.56 56.06,318.64 56.23,318.72 56.40,318.81 56.58,318.89 56.75,318.98 56.92,319.06 57.10,319.15 57.27,319.24 57.45,319.33 57.62,319.42 57.79,319.51 57.97,319.60 58.14,319.69 58.31,319.79 58.49,319.88 58.66,319.97 58.84,320.07 59.01,320.17 59.18,320.26 59.36,320.36 59.53,320.46 59.70,320.56 59.88,320.66 60.05,320.76 60.23,320.86 60.40,320.96 60.57,321.06 60.75,321.17 60.92,321.27 61.09,321.37 61.27,321.48 61.44,321.58 61.62,321.69 61.79,321.79 61.96,321.90 62.14,322.00 62.31,322.11 62.48,322.21 62.66,322.32 62.83,322.43 63.01,322.54 63.18,322.64 63.35,322.75 63.53,322.86 63.70,322.97 63.88,323.08 64.05,323.19 64.22,323.30 64.40,323.40 64.57,323.51 64.74,323.62 64.92,323.73 65.09,323.84 65.27,323.95 65.44,324.06 65.61,324.17 65.79,324.28 65.96,324.39 66.13,324.50 66.31,324.61 66.48,324.72 66.66,324.83 66.83,324.94 67.00,325.05 67.18,325.16 67.35,325.27 67.52,325.38 67.70,325.49 67.87,325.60 68.05,325.71 68.22,325.81 68.39,325.92 68.57,326.03 68.74,326.14 68.91,326.25 69.09,326.36 69.26,326.46 69.44,326.57 69.61,326.68 69.78,326.79 69.96,326.89 70.13,327.00 70.30,327.11 70.48,327.21 70.65,327.32 70.83,327.43 71.00,327.53 71.17,327.64 71.35,327.74 71.52,327.85 71.69,327.95 71.87,328.05 72.04,328.16 72.22,328.26 72.39,328.36 72.56,328.47 72.74,328.57 72.91,328.67 73.08,328.77 73.26,328.87 73.43,328.98 73.61,329.08 73.78,329.18 73.95,329.28 74.13,329.38 74.30,329.48 74.47,329.57 74.65,329.67 74.82,329.77 75.00,329.87 75.17,329.97 75.34,330.06 75.52,330.16 75.69,330.26 75.86,330.35 76.04,330.45 76.21,330.54 76.39,330.64 76.56,330.73 76.73,330.82 76.91,330.92 77.08,331.01 77.25,331.10 77.43,331.20 77.60,331.29 77.78,331.38 77.95,331.47 78.12,331.56 78.30,331.65 78.47,331.74 78.64,331.83 78.82,331.92 78.99,332.00 79.16,332.09 79.34,332.18 79.51,332.27 79.69,332.35 79.86,332.44 80.03,332.53 80.21,332.61 80.38,332.70 80.56,332.78 80.73,332.86 80.90,332.95 81.08,333.03 81.25,333.11 81.42,333.20 81.60,333.28 81.77,333.36 81.94,333.44 82.12,333.52 82.29,333.60 82.47,333.68 82.64,333.76 82.81,333.84 82.99,333.92 83.16,333.99 83.34,334.07 83.51,334.15 83.68,334.23 83.86,334.30 84.03,334.38 84.20,334.45 84.38,334.53 84.55,334.60 84.72,334.68 84.90,334.75 85.07,334.83 85.25,334.90 85.42,334.97 85.59,335.04 85.77,335.12 85.94,335.19 86.12,335.26 86.29,335.33 86.46,335.40 86.64,335.47 86.81,335.54 86.98,335.61 87.16,335.68 87.33,335.75 87.50,335.81 87.68,335.88 87.85,335.95 88.03,336.02 88.20,336.08 88.37,336.15 88.55,336.21 88.72,336.28 88.90,336.34 89.07,336.41 89.24,336.47 89.42,336.54 89.59,336.60 89.76,336.66 89.94,336.73 90.11,336.79 90.28,336.85 90.46,336.91 90.63,336.97 90.81,337.03 90.98,337.09 91.15,337.16 91.33,337.22 91.50,337.27 91.67,337.33 91.85,337.39 92.02,337.45 92.20,337.51 92.37,337.57 92.54,337.63 92.72,337.68 92.89,337.74 93.06,337.80 93.24,337.85 93.41,337.91 93.59,337.96 93.76,338.02 93.93,338.07 94.11,338.13 94.28,338.18 94.45,338.24 94.63,338.29 94.80,338.34 94.98,338.40 95.15,338.45 95.32,338.50 95.50,338.56 95.67,338.61 95.84,338.66 96.02,338.71 96.19,338.76 96.37,338.81 96.54,338.86 96.71,338.91 96.89,338.96 97.06,339.01 97.23,339.06 97.41,339.11 97.58,339.16 97.76,339.21 97.93,339.26 98.10,339.30 98.28,339.35 98.45,339.40 98.62,339.45 98.80,339.49 98.97,339.54 99.15,339.59 99.32,339.63 99.49,339.68 99.67,339.72 99.84,339.77 100.02,339.81 100.19,339.86 100.36,339.90 100.54,339.95 100.71,339.99 100.88,340.04 101.06,340.08 101.23,340.12 101.41,340.17 101.58,340.21 101.75,340.25 101.93,340.29 102.10,340.34 102.27,340.38 102.45,340.42 102.62,340.46 102.80,340.50 102.97,340.54 103.14,340.58 103.32,340.62 103.49,340.66 103.66,340.70 103.84,340.74 104.01,340.78 104.19,340.82 104.36,340.86 104.53,340.90 104.71,340.94 104.88,340.98 105.05,341.02 105.23,341.06 105.40,341.09 105.58,341.13 105.75,341.17 105.92,341.21 106.10,341.24 106.27,341.28 106.44,341.32 106.62,341.35 106.79,341.39 106.97,341.43 107.14,341.46 107.31,341.50 107.49,341.53 107.66,341.57 107.83,341.60 108.01,341.64 108.18,341.67 108.35,341.71 108.53,341.74 108.70,341.78 108.88,341.81 109.05,341.85 109.22,341.88 109.40,341.91 109.57,341.95 109.75,341.98 109.92,342.01 110.09,342.05 110.27,342.08 110.44,342.11 110.61,342.14 110.79,342.18 110.96,342.21 111.14,342.24 111.31,342.27 111.48,342.30 111.66,342.34 111.83,342.37 112.00,342.40 112.18,342.43 112.35,342.46 112.53,342.49 112.70,342.52 112.87,342.55 113.05,342.58 113.22,342.61 113.39,342.64 113.57,342.67 113.74,342.70 113.92,342.73 114.09,342.76 114.26,342.79 114.44,342.82 114.61,342.85 114.78,342.88 114.96,342.91 115.13,342.93 115.31,342.96 115.48,342.99 115.65,343.02 115.83,343.05 116.00,343.07 116.17,343.10 116.35,343.13 116.52,343.16 116.69,343.18 116.87,343.21 117.04,343.24 117.22,343.27 117.39,343.29 117.56,343.32 117.74,343.35 117.91,343.37 118.08,343.40 118.26,343.43 118.43,343.45 118.61,343.48 118.78,343.50 118.95,343.53 119.13,343.55 119.30,343.58 119.47,343.61 119.65,343.63 119.82,343.66 120.00,343.68 120.17,343.71 120.34,343.73 120.52,343.75 120.69,343.78 120.86,343.80 121.04,343.83 121.21,343.85 121.39,343.88 121.56,343.90 121.73,343.92 121.91,343.95 122.08,343.97 122.25,344.00 122.43,344.02 122.60,344.04 122.78,344.07 122.95,344.09 123.12,344.11 123.30,344.14 123.47,344.16 123.64,344.18 123.82,344.20 123.99,344.23 124.17,344.25 124.34,344.27 124.51,344.29 124.69,344.32 124.86,344.34 125.03,344.36 125.21,344.38 125.38,344.40 125.56,344.43 125.73,344.45 125.90,344.47 126.08,344.49 126.25,344.51 126.42,344.53 126.60,344.55 126.77,344.58 126.95,344.60 127.12,344.62 127.29,344.64 127.47,344.66 127.64,344.68 127.81,344.70 127.99,344.72 128.16,344.74 128.34,344.76 128.51,344.78 128.68,344.80 128.86,344.82 129.03,344.84 129.20,344.86 129.38,344.88 129.55,344.90 129.73,344.92 129.90,344.94 130.07,344.96 130.25,344.98 130.42,345.00 130.59,345.02 130.77,345.04 130.94,345.06 131.12,345.08 131.29,345.10 131.46,345.12 131.64,345.13 131.81,345.15 131.99,345.17 132.16,345.19 132.33,345.21 132.51,345.23 132.68,345.25 132.85,345.26 133.03,345.28 133.20,345.30 133.38,345.32 133.55,345.34 133.72,345.36 133.90,345.37 134.07,345.39 134.24,345.41 134.42,345.43 134.59,345.45 134.76,345.46 134.94,345.48 135.11,345.50 135.29,345.52 135.46,345.53 135.63,345.55 135.81,345.57 135.98,345.59 136.16,345.60 136.33,345.62 136.50,345.64 136.68,345.65 136.85,345.67 137.02,345.69 137.20,345.70 137.37,345.72 137.55,345.74 137.72,345.76 137.89,345.77 138.07,345.79 138.24,345.80 138.41,345.82 138.59,345.84 138.76,345.85 138.94,345.87 139.11,345.89 139.28,345.90 139.46,345.92 139.63,345.93 139.80,345.95 139.98,345.97 140.15,345.98 140.32,346.00 140.50,346.01 140.67,346.03 140.85,346.05 141.02,346.06 141.19,346.08 141.37,346.09 141.54,346.11 141.72,346.12 141.89,346.14 142.06,346.15 142.24,346.17 142.41,346.19 142.58,346.20 142.76,346.22 142.93,346.23 143.11,346.25 143.28,346.26 143.45,346.28 143.63,346.29 143.80,346.31 143.97,346.32 144.15,346.34 144.32,346.35 144.50,346.36 144.67,346.38 144.84,346.39 145.02,346.41 145.19,346.42 145.36,346.44 145.54,346.45 145.71,346.47 145.88,346.48 146.06,346.50 146.23,346.51 146.41,346.52 146.58,346.54 146.75,346.55 146.93,346.57 147.10,346.58 147.28,346.59 147.45,346.61 147.62,346.62 147.80,346.64 147.97,346.65 148.14,346.66 148.32,346.68 148.49,346.69 148.67,346.71 148.84,346.72 149.01,346.73 149.19,346.75 149.36,346.76 149.53,346.77 149.71,346.79 149.88,346.80 150.06,346.81 150.23,346.83 150.40,346.84 150.58,346.85 150.75,346.87 150.92,346.88 151.10,346.89 151.27,346.91 151.44,346.92 151.62,346.93 151.79,346.95 151.97,346.96 152.14,346.97 152.31,346.98 152.49,347.00 152.66,347.01 152.83,347.02 153.01,347.04 153.18,347.05 153.36,347.06 153.53,347.07 153.70,347.09 153.88,347.10 154.05,347.11 154.22,347.13 154.40,347.14 154.57,347.15 154.75,347.16 154.92,347.18 155.09,347.19 155.27,347.20 155.44,347.21 155.62,347.22 155.79,347.24 155.96,347.25 156.14,347.26 156.31,347.27 156.48,347.29 156.66,347.30 156.83,347.31 157.00,347.32 157.18,347.33 157.35,347.35 157.53,347.36 157.70,347.37 157.87,347.38 158.05,347.39 158.22,347.41 158.39,347.42 158.57,347.43 158.74,347.44 158.92,347.45 159.09,347.47 159.26,347.48 159.44,347.49 159.61,347.50 159.78,347.51 159.96,347.52 160.13,347.54 160.31,347.55 160.48,347.56 160.65,347.57 160.83,347.58 161.00,347.59 161.18,347.61 161.35,347.62 161.52,347.63 161.70,347.64 161.87,347.65 162.04,347.66 162.22,347.67 162.39,347.68 162.56,347.70 162.74,347.71 162.91,347.72 163.09,347.73 163.26,347.74 163.43,347.75 163.61,347.76 163.78,347.77 163.95,347.79 164.13,347.80 164.30,347.81 164.48,347.82 164.65,347.83 164.82,347.84 165.00,347.85 165.17,347.86 165.34,347.87 165.52,347.88 165.69,347.89 165.87,347.91 166.04,347.92 166.21,347.93 166.39,347.94 166.56,347.95 166.74,347.96 166.91,347.97 167.08,347.98 167.26,347.99 167.43,348.00 167.60,348.01 167.78,348.02 167.95,348.03 168.12,348.04 168.30,348.06 168.47,348.07 168.65,348.08 168.82,348.09 168.99,348.10 169.17,348.11 169.34,348.12 169.51,348.13 169.69,348.14 169.86,348.15 170.04,348.16 170.21,348.17 170.38,348.18 170.56,348.19 170.73,348.20 170.91,348.21 171.08,348.22 171.25,348.23 171.43,348.24 171.60,348.25 171.77,348.26 171.95,348.27 172.12,348.28 172.30,348.29 172.47,348.30 172.64,348.31 172.82,348.32 172.99,348.33 173.16,348.34 173.34,348.35 173.51,348.36 173.69,348.37 173.86,348.38 174.03,348.39 174.21,348.40 174.38,348.41 174.55,348.42 174.73,348.43 174.90,348.44 175.07,348.45 175.25,348.46 175.42,348.47 175.60,348.48 175.77,348.49 175.94,348.50 176.12,348.51 176.29,348.52 176.47,348.53 176.64,348.54 176.81,348.55 176.99,348.56 177.16,348.57 177.33,348.58 177.51,348.59 177.68,348.60 177.85,348.61 178.03,348.62 178.20,348.63 178.38,348.64 178.55,348.64 178.72,348.65 178.90,348.66 179.07,348.67 179.25,348.68 179.42,348.69 179.59,348.70 179.77,348.71 179.94,348.72 180.11,348.73 180.29,348.74 180.46,348.75 180.63,348.76 180.81,348.77 180.98,348.78 181.16,348.79 181.33,348.80 181.50,348.80 181.68,348.81 181.85,348.82 182.03,348.83 182.20,348.84 182.37,348.85 182.55,348.86 182.72,348.87 182.89,348.88 183.07,348.89 183.24,348.90 183.41,348.91 183.59,348.91 183.76,348.92 183.94,348.93 184.11,348.94 184.28,348.95 184.46,348.96 184.63,348.97 184.81,348.98 184.98,348.99 185.15,349.00 185.33,349.00 185.50,349.01 185.67,349.02 185.85,349.03 186.02,349.04 186.19,349.05 186.37,349.06 186.54,349.07 186.72,349.08 186.89,349.09 187.06,349.09 187.24,349.10 187.41,349.11 187.59,349.12 187.76,349.13 187.93,349.14 188.11,349.15 188.28,349.16 188.45,349.16 188.63,349.17 188.80,349.18 188.97,349.19 189.15,349.20 189.32,349.21 189.50,349.22 189.67,349.23 189.84,349.23 190.02,349.24 190.19,349.25 190.37,349.26 190.54,349.27 190.71,349.28 190.89,349.29 191.06,349.29 191.23,349.30 191.41,349.31 191.58,349.32 191.75,349.33 191.93,349.34 192.10,349.35 192.28,349.35 192.45,349.36 192.62,349.37 192.80,349.38 192.97,349.39 193.15,349.40 193.32,349.41 193.49,349.41 193.67,349.42 193.84,349.43 194.01,349.44 194.19,349.45 194.36,349.46 194.53,349.46 194.71,349.47 194.88,349.48 195.06,349.49 195.23,349.50 195.40,349.51 195.58,349.52 195.75,349.52 195.93,349.53 196.10,349.54 196.27,349.55 196.45,349.56 196.62,349.56 196.79,349.57 196.97,349.58 197.14,349.59 197.31,349.60 197.49,349.61 197.66,349.61 197.84,349.62 198.01,349.63 198.18,349.64 198.36,349.65 198.53,349.66 198.71,349.66 198.88,349.67 199.05,349.68 199.23,349.69 199.40,349.70 199.57,349.70 199.75,349.71 199.92,349.72 200.09,349.73 200.27,349.74 200.44,349.74 200.62,349.75 200.79,349.76 200.96,349.77 201.14,349.78 201.31,349.79 201.49,349.79 201.66,349.80 201.83,349.81 202.01,349.82 202.18,349.83 202.35,349.83 202.53,349.84 202.70,349.85 202.88,349.86 203.05,349.87 203.22,349.87 203.40,349.88 203.57,349.89 203.74,349.90 203.92,349.90 204.09,349.91 204.26,349.92 204.44,349.93 204.61,349.94 204.79,349.94 204.96,349.95 205.13,349.96 205.31,349.97 205.48,349.98 205.66,349.98 205.83,349.99 206.00,350.00 206.18,350.01 206.35,350.01 206.52,350.02 206.70,350.03 206.87,350.04 207.04,350.05 207.22,350.05 207.39,350.06 207.57,350.07 207.74,350.08 207.91,350.08 208.09,350.09 208.26,350.10 208.44,350.11 208.61,350.12 208.78,350.12 208.96,350.13 209.13,350.14 209.30,350.15 209.48,350.15 209.65,350.16 209.82,350.17 210.00,350.18 210.17,350.18 210.35,350.19 210.52,350.20 210.69,350.21 210.87,350.22 211.04,350.22 211.22,350.23 211.39,350.24 211.56,350.25 211.74,350.25 211.91,350.26 212.08,350.27 212.26,350.28 212.43,350.28 212.60,350.29 212.78,350.30 212.95,350.31 213.13,350.31 213.30,350.32 213.47,350.33 213.65,350.34 213.82,350.34 214.00,350.35 214.17,350.36 214.34,350.37 214.52,350.37 214.69,350.38 214.86,350.39 215.04,350.40 215.21,350.40 215.38,350.41 215.56,350.42 215.73,350.43 215.91,350.43 216.08,350.44 216.25,350.45 216.43,350.46 216.60,350.46 216.78,350.47 216.95,350.48 217.12,350.49 217.30,350.49 217.47,350.50 217.64,350.51 217.82,350.52 217.99,350.52 218.16,350.53 218.34,350.54 218.51,350.54 218.69,350.55 218.86,350.56 219.03,350.57 219.21,350.57 219.38,350.58 219.56,350.59 219.73,350.60 219.90,350.60 220.08,350.61 220.25,350.62 220.42,350.62 220.60,350.63 220.77,350.64 220.94,350.65 221.12,350.65 221.29,350.66 221.47,350.67 221.64,350.68 221.81,350.68 221.99,350.69 222.16,350.70 222.34,350.70 222.51,350.71 222.68,350.72 222.86,350.73 223.03,350.73 223.20,350.74 223.38,350.75 223.55,350.75 223.72,350.76 223.90,350.77 224.07,350.78 224.25,350.78 224.42,350.79 224.59,350.80 224.77,350.81 224.94,350.81 225.12,350.82 225.29,350.83 225.46,350.83 225.64,350.84 225.81,350.85 225.98,350.85 226.16,350.86 226.33,350.87 226.50,350.88 226.68,350.88 226.85,350.89 227.03,350.90 227.20,350.90 227.37,350.91 227.55,350.92 227.72,350.93 227.90,350.93 228.07,350.94 228.24,350.95 228.42,350.95 228.59,350.96 228.76,350.97 228.94,350.97 229.11,350.98 229.28,350.99 229.46,351.00 229.63,351.00 229.81,351.01 229.98,351.02 230.15,351.02 230.33,351.03 230.50,351.04 230.68,351.04 230.85,351.05 231.02,351.06 231.20,351.07 231.37,351.07 231.54,351.08 231.72,351.09 231.89,351.09 232.06,351.10 232.24,351.11 232.41,351.11 232.59,351.12 232.76,351.13 232.93,351.13 233.11,351.14 233.28,351.15 233.46,351.16 233.63,351.16 233.80,351.17 233.98,351.18 234.15,351.18 234.32,351.19 234.50,351.20 234.67,351.20 234.84,351.21 235.02,351.22 235.19,351.22 235.37,351.23 235.54,351.24 235.71,351.24 235.89,351.25 236.06,351.26 236.24,351.26 236.41,351.27 236.58,351.28 236.76,351.28 236.93,351.29 237.10,351.30 237.28,351.31 237.45,351.31 237.62,351.32 237.80,351.33 237.97,351.33 238.15,351.34 238.32,351.35 238.49,351.35 238.67,351.36 238.84,351.37 239.01,351.37 239.19,351.38 239.36,351.39 239.54,351.39 239.71,351.40 239.88,351.41 240.06,351.41 240.23,351.42 240.41,351.43 240.58,351.43 240.75,351.44 240.93,351.45 241.10,351.45 241.27,351.46 241.45,351.47 241.62,351.47 241.79,351.48 241.97,351.49 242.14,351.49 242.32,351.50 242.49,351.51 242.66,351.51 242.84,351.52 243.01,351.53 243.19,351.53 243.36,351.54 243.53,351.55 243.71,351.55 243.88,351.56 244.05,351.57 244.23,351.57 244.40,351.58 244.57,351.59 244.75,351.59 244.92,351.60 245.10,351.61 245.27,351.61 245.44,351.62 245.62,351.63 245.79,351.63 245.97,351.64 246.14,351.64 246.31,351.65 246.49,351.66 246.66,351.66 246.83,351.67 247.01,351.68 247.18,351.68 247.35,351.69 247.53,351.70 247.70,351.70 247.88,351.71 248.05,351.72 248.22,351.72 248.40,351.73 248.57,351.74 248.75,351.74 248.92,351.75 249.09,351.76 249.27,351.76 249.44,351.77 249.61,351.77 249.79,351.78 249.96,351.79 250.13,351.79 250.31,351.80 250.48,351.81 250.66,351.81 250.83,351.82 251.00,351.83 251.18,351.83 251.35,351.84 251.53,351.85 251.70,351.85 251.87,351.86 252.05,351.86 252.22,351.87 252.39,351.88 252.57,351.88 252.74,351.89 252.91,351.90 253.09,351.90 253.26,351.91 253.44,351.92 253.61,351.92 253.78,351.93 253.96,351.94 254.13,351.94 254.31,351.95 254.48,351.95 254.65,351.96 254.83,351.97 255.00,351.97" fill="none" stroke="#ff0000" stroke-width="1.8"/>
</g>
<g clip-path="url(#c11)">
<polyline points="255.00,327.56 255.35,327.56 255.69,327.57 256.04,327.58 256.39,327.60 256.74,327.63 257.08,327.66 257.43,327.70 257.78,327.74 258.13,327.79 258.48,327.84 258.82,327.90 259.17,327.96 259.52,328.03 259.87,328.10 260.21,328.18 260.56,328.27 260.91,328.35 261.25,328.45 261.60,328.55 261.95,328.65 262.30,328.76 262.64,328.87 262.99,328.99 263.34,329.11 263.69,329.24 264.04,329.37 264.38,329.50 264.73,329.64 265.08,329.78 265.43,329.92 265.77,330.07 266.12,330.23 266.47,330.38 266.81,330.54 267.16,330.70 267.51,330.87 267.86,331.04 268.20,331.21 268.55,331.38 268.90,331.56 269.25,331.73 269.60,331.92 269.94,332.10 270.29,332.28 270.64,332.47 270.99,332.66 271.33,332.85 271.68,333.04 272.03,333.24 272.38,333.43 272.72,333.63 273.07,333.83 273.42,334.02 273.76,334.22 274.11,334.43 274.46,334.63 274.81,334.83 275.15,335.03 275.50,335.24 275.85,335.44 276.20,335.65 276.55,335.85 276.89,336.05 277.24,336.26 277.59,336.47 277.94,336.67 278.28,336.88 278.63,337.08 278.98,337.28 279.32,337.49 279.67,337.69 280.02,337.90 280.37,338.10 280.71,338.30 281.06,338.50 281.41,338.71 281.76,338.91 282.11,339.11 282.45,339.31 282.80,339.50 283.15,339.70 283.50,339.90 283.84,340.09 284.19,340.29 284.54,340.48 284.88,340.68 285.23,340.87 285.58,341.06 285.93,341.25 286.27,341.44 286.62,341.62 286.97,341.81 287.32,341.99 287.67,342.18 288.01,342.36 288.36,342.54 288.71,342.72 289.06,342.90 289.40,343.07 289.75,343.25 290.10,343.42 290.44,343.60 290.79,343.77 291.14,343.94 291.49,344.11 291.83,344.27 292.18,344.44 292.53,344.60 292.88,344.77 293.23,344.93 293.57,345.09 293.92,345.25 294.27,345.41 294.62,345.56 294.96,345.72 295.31,345.87 295.66,346.02 296.00,346.17 296.35,346.32 296.70,346.47 297.05,346.62 297.39,346.76 297.74,346.90 298.09,347.05 298.44,347.19 298.78,347.33 299.13,347.46 299.48,347.60 299.83,347.74 300.18,347.87 300.52,348.00 300.87,348.13 301.22,348.26 301.56,348.39 301.91,348.52 302.26,348.65 302.61,348.77 302.95,348.90 303.30,349.02 303.65,349.14 304.00,349.26 304.35,349.38 304.69,349.50 305.04,349.61 305.39,349.73 305.74,349.84 306.08,349.95 306.43,350.07 306.78,350.18 307.12,350.29 307.47,350.39 307.82,350.50 308.17,350.61 308.51,350.71 308.86,350.81 309.21,350.92 309.56,351.02 309.90,351.12 310.25,351.22 310.60,351.32 310.95,351.41 311.30,351.51 311.64,351.61 311.99,351.70 312.34,351.79 312.69,351.89 313.03,351.98 313.38,352.07 313.73,352.16 314.07,352.25 314.42,352.33 314.77,352.42 315.12,352.51 315.47,352.59 315.81,352.68 316.16,352.76 316.51,352.84 316.86,352.92 317.20,353.00 317.55,353.08 317.90,353.16 318.25,353.24 318.59,353.32 318.94,353.39 319.29,353.47 319.63,353.54 319.98,353.62 320.33,353.69 320.68,353.76 321.02,353.84 321.37,353.91 321.72,353.98 322.07,354.05 322.42,354.12 322.76,354.19 323.11,354.25 323.46,354.32 323.81,354.39 324.15,354.45 324.50,354.52 324.85,354.58 325.19,354.64 325.54,354.71 325.89,354.77 326.24,354.83 326.58,354.89 326.93,354.95 327.28,355.01 327.63,355.07 327.98,355.13 328.32,355.19 328.67,355.25 329.02,355.30 329.37,355.36 329.71,355.41 330.06,355.47 330.41,355.52 330.75,355.58 331.10,355.63 331.45,355.68 331.80,355.74 332.14,355.79 332.49,355.84 332.84,355.89 333.19,355.94 333.53,355.99 333.88,356.04 334.23,356.09 334.58,356.14 334.93,356.19 335.27,356.23 335.62,356.28 335.97,356.33 336.31,356.38 336.66,356.42 337.01,356.47 337.36,356.51 337.70,356.56 338.05,356.60 338.40,356.64 338.75,356.69 339.10,356.73 339.44,356.77 339.79,356.81 340.14,356.86 340.49,356.90 340.83,356.94 341.18,356.98 341.53,357.02 341.88,357.06 342.22,357.10 342.57,357.14 342.92,357.18 343.26,357.21 343.61,357.25 343.96,357.29 344.31,357.33 344.65,357.36 345.00,357.40 345.35,357.44 345.70,357.47 346.05,357.51 346.39,357.54 346.74,357.58 347.09,357.61 347.44,357.65 347.78,357.68 348.13,357.71 348.48,357.75 348.82,357.78 349.17,357.81 349.52,357.85 349.87,357.88 350.22,357.91 350.56,357.94 350.91,357.97 351.26,358.00 351.61,358.04 351.95,358.07 352.30,358.10 352.65,358.13 353.00,358.16 353.34,358.19 353.69,358.22 354.04,358.24 354.38,358.27 354.73,358.30 355.08,358.33 355.43,358.36 355.77,358.39 356.12,358.41 356.47,358.44 356.82,358.47 357.17,358.49 357.51,358.52 357.86,358.55 358.21,358.57 358.56,358.60 358.90,358.63 359.25,358.65 359.60,358.68 359.94,358.70 360.29,358.73 360.64,358.75 360.99,358.78 361.33,358.80 361.68,358.82 362.03,358.85 362.38,358.87 362.73,358.90 363.07,358.92 363.42,358.94 363.77,358.96 364.12,358.99 364.46,359.01 364.81,359.03 365.16,359.05 365.50,359.08 365.85,359.10 366.20,359.12 366.55,359.14 366.89,359.16 367.24,359.18 367.59,359.21 367.94,359.23 368.28,359.25 368.63,359.27 368.98,359.29 369.33,359.31 369.68,359.33 370.02,359.35 370.37,359.37 370.72,359.39 371.06,359.41 371.41,359.43 371.76,359.44 372.11,359.46 372.45,359.48 372.80,359.50 373.15,359.52 373.50,359.54 373.85,359.56 374.19,359.57 374.54,359.59 374.89,359.61 375.24,359.63 375.58,359.65 375.93,359.66 376.28,359.68 376.62,359.70 376.97,359.71 377.32,359.73 377.67,359.75 378.01,359.76 378.36,359.78 378.71,359.80 379.06,359.81 379.40,359.83 379.75,359.85 380.10,359.86 380.45,359.88 380.80,359.89 381.14,359.91 381.49,359.92 381.84,359.94 382.19,359.96 382.53,359.97 382.88,359.99 383.23,360.00 383.57,360.02 383.92,360.03 384.27,360.04 384.62,360.06 384.97,360.07 385.31,360.09 385.66,360.10 386.01,360.12 386.36,360.13 386.70,360.14 387.05,360.16 387.40,360.17 387.75,360.19 388.09,360.20 388.44,360.21 388.79,360.23 389.13,360.24 389.48,360.25 389.83,360.27 390.18,360.28 390.52,360.29 390.87,360.30 391.22,360.32 391.57,360.33 391.91,360.34 392.26,360.35 392.61,360.37 392.96,360.38 393.31,360.39 393.65,360.40 394.00,360.41 394.35,360.43 394.69,360.44 395.04,360.45 395.39,360.46 395.74,360.47 396.09,360.49 396.43,360.50 396.78,360.51 397.13,360.52 397.48,360.53 397.82,360.54 398.17,360.55 398.52,360.56 398.87,360.58 399.21,360.59 399.56,360.60 399.91,360.61 400.25,360.62 400.60,360.63 400.95,360.64 401.30,360.65 401.64,360.66 401.99,360.67 402.34,360.68 402.69,360.69 403.03,360.70 403.38,360.71 403.73,360.72 404.08,360.73 404.43,360.74 404.77,360.75 405.12,360.76 405.47,360.77 405.81,360.78 406.16,360.79 406.51,360.80 406.86,360.81 407.21,360.82 407.55,360.83 407.90,360.84 408.25,360.85 408.60,360.85 408.94,360.86 409.29,360.87 409.64,360.88 409.99,360.89 410.33,360.90 410.68,360.91 411.03,360.92 411.38,360.93 411.72,360.93 412.07,360.94 412.42,360.95 412.76,360.96 413.11,360.97 413.46,360.98 413.81,360.99 414.15,360.99 414.50,361.00 414.85,361.01 415.20,361.02 415.54,361.03 415.89,361.03 416.24,361.04 416.59,361.05 416.94,361.06 417.28,361.07 417.63,361.07 417.98,361.08 418.32,361.09 418.67,361.10 419.02,361.10 419.37,361.11 419.72,361.12 420.06,361.13 420.41,361.13 420.76,361.14 421.11,361.15 421.45,361.16 421.80,361.16 422.15,361.17 422.50,361.18 422.84,361.19 423.19,361.19 423.54,361.20 423.88,361.21 424.23,361.21 424.58,361.22 424.93,361.23 425.27,361.23 425.62,361.24 425.97,361.25 426.32,361.25 426.66,361.26 427.01,361.27 427.36,361.27 427.71,361.28 428.06,361.29 428.40,361.29 428.75,361.30 429.10,361.31 429.44,361.31 429.79,361.32 430.14,361.33 430.49,361.33 430.84,361.34 431.18,361.35 431.53,361.35 431.88,361.36 432.23,361.36 432.57,361.37 432.92,361.38 433.27,361.38 433.62,361.39 433.96,361.39 434.31,361.40 434.66,361.41 435.00,361.41 435.35,361.42 435.70,361.42 436.05,361.43 436.39,361.43 436.74,361.44 437.09,361.45 437.44,361.45 437.78,361.46 438.13,361.46 438.48,361.47 438.83,361.47 439.18,361.48 439.52,361.49 439.87,361.49 440.22,361.50 440.56,361.50 440.91,361.51 441.26,361.51 441.61,361.52 441.96,361.52 442.30,361.53 442.65,361.53 443.00,361.54 443.35,361.54 443.69,361.55 444.04,361.55 444.39,361.56 444.74,361.56 445.08,361.57 445.43,361.57 445.78,361.58 446.12,361.58 446.47,361.59 446.82,361.59 447.17,361.60 447.51,361.60 447.86,361.61 448.21,361.61 448.56,361.62 448.90,361.62 449.25,361.63 449.60,361.63 449.95,361.64 450.29,361.64 450.64,361.65 450.99,361.65 451.34,361.66 451.69,361.66 452.03,361.66 452.38,361.67 452.73,361.67 453.07,361.68 453.42,361.68 453.77,361.69 454.12,361.69 454.47,361.70 454.81,361.70 455.16,361.70 455.51,361.71 455.86,361.71 456.20,361.72 456.55,361.72 456.90,361.73 457.25,361.73 457.59,361.73 457.94,361.74 458.29,361.74 458.63,361.75 458.98,361.75 459.33,361.75 459.68,361.76 460.02,361.76 460.37,361.77 460.72,361.77 461.07,361.78 461.41,361.78 461.76,361.78 462.11,361.79 462.46,361.79 462.81,361.79 463.15,361.80 463.50,361.80" fill="none" stroke="#1010ff" stroke-width="1.1"/>
<polyline points="255.00,363.00 255.35,363.00 255.69,362.99 256.04,362.98 256.39,362.97 256.74,362.95 257.08,362.93 257.43,362.91 257.78,362.88 258.13,362.85 258.48,362.81 258.82,362.78 259.17,362.73 259.52,362.69 259.87,362.64 260.21,362.59 260.56,362.54 260.91,362.48 261.25,362.42 261.60,362.35 261.95,362.29 262.30,362.22 262.64,362.15 262.99,362.07 263.34,361.99 263.69,361.92 264.04,361.83 264.38,361.75 264.73,361.67 265.08,361.58 265.43,361.49 265.77,361.40 266.12,361.31 266.47,361.21 266.81,361.12 267.16,361.02 267.51,360.92 267.86,360.82 268.20,360.72 268.55,360.62 268.90,360.52 269.25,360.41 269.60,360.31 269.94,360.20 270.29,360.10 270.64,359.99 270.99,359.89 271.33,359.78 271.68,359.68 272.03,359.57 272.38,359.46 272.72,359.36 273.07,359.25 273.42,359.14 273.76,359.04 274.11,358.93 274.46,358.82 274.81,358.72 275.15,358.61 275.50,358.51 275.85,358.40 276.20,358.30 276.55,358.20 276.89,358.10 277.24,357.99 277.59,357.89 277.94,357.79 278.28,357.69 278.63,357.59 278.98,357.49 279.32,357.40 279.67,357.30 280.02,357.20 280.37,357.11 280.71,357.01 281.06,356.92 281.41,356.83 281.76,356.74 282.11,356.64 282.45,356.55 282.80,356.47 283.15,356.38 283.50,356.29 283.84,356.21 284.19,356.12 284.54,356.04 284.88,355.95 285.23,355.87 285.58,355.79 285.93,355.71 286.27,355.63 286.62,355.55 286.97,355.48 287.32,355.40 287.67,355.32 288.01,355.25 288.36,355.18 288.71,355.10 289.06,355.03 289.40,354.96 289.75,354.89 290.10,354.82 290.44,354.76 290.79,354.69 291.14,354.62 291.49,354.56 291.83,354.49 292.18,354.43 292.53,354.37 292.88,354.31 293.23,354.25 293.57,354.19 293.92,354.13 294.27,354.07 294.62,354.01 294.96,353.96 295.31,353.90 295.66,353.85 296.00,353.79 296.35,353.74 296.70,353.69 297.05,353.64 297.39,353.59 297.74,353.54 298.09,353.49 298.44,353.44 298.78,353.39 299.13,353.34 299.48,353.30 299.83,353.25 300.18,353.21 300.52,353.16 300.87,353.12 301.22,353.08 301.56,353.04 301.91,352.99 302.26,352.95 302.61,352.91 302.95,352.87 303.30,352.83 303.65,352.80 304.00,352.76 304.35,352.72 304.69,352.68 305.04,352.65 305.39,352.61 305.74,352.58 306.08,352.54 306.43,352.51 306.78,352.48 307.12,352.44 307.47,352.41 307.82,352.38 308.17,352.35 308.51,352.32 308.86,352.29 309.21,352.26 309.56,352.23 309.90,352.20 310.25,352.17 310.60,352.14 310.95,352.11 311.30,352.09 311.64,352.06 311.99,352.03 312.34,352.01 312.69,351.98 313.03,351.96 313.38,351.93 313.73,351.91 314.07,351.89 314.42,351.86 314.77,351.84 315.12,351.82 315.47,351.80 315.81,351.77 316.16,351.75 316.51,351.73 316.86,351.71 317.20,351.69 317.55,351.67 317.90,351.65 318.25,351.63 318.59,351.61 318.94,351.59 319.29,351.58 319.63,351.56 319.98,351.54 320.33,351.52 320.68,351.51 321.02,351.49 321.37,351.47 321.72,351.46 322.07,351.44 322.42,351.42 322.76,351.41 323.11,351.39 323.46,351.38 323.81,351.37 324.15,351.35 324.50,351.34 324.85,351.32 325.19,351.31 325.54,351.30 325.89,351.28 326.24,351.27 326.58,351.26 326.93,351.25 327.28,351.24 327.63,351.22 327.98,351.21 328.32,351.20 328.67,351.19 329.02,351.18 329.37,351.17 329.71,351.16 330.06,351.15 330.41,351.14 330.75,351.13 331.10,351.12 331.45,351.11 331.80,351.10 332.14,351.09 332.49,351.08 332.84,351.07 333.19,351.07 333.53,351.06 333.88,351.05 334.23,351.04 334.58,351.03 334.93,351.03 335.27,351.02 335.62,351.01 335.97,351.01 336.31,351.00 336.66,350.99 337.01,350.99 337.36,350.98 337.70,350.97 338.05,350.97 338.40,350.96 338.75,350.96 339.10,350.95 339.44,350.95 339.79,350.94 340.14,350.94 340.49,350.93 340.83,350.93 341.18,350.92 341.53,350.92 341.88,350.91 342.22,350.91 342.57,350.91 342.92,350.90 343.26,350.90 343.61,350.89 343.96,350.89 344.31,350.89 344.65,350.88 345.00,350.88 345.35,350.88 345.70,350.88 346.05,350.87 346.39,350.87 346.74,350.87 347.09,350.87 347.44,350.86 347.78,350.86 348.13,350.86 348.48,350.86 348.82,350.86 349.17,350.86 349.52,350.85 349.87,350.85 350.22,350.85 350.56,350.85 350.91,350.85 351.26,350.85 351.61,350.85 351.95,350.85 352.30,350.85 352.65,350.85 353.00,350.84 353.34,350.84 353.69,350.84 354.04,350.84 354.38,350.84 354.73,350.84 355.08,350.84 355.43,350.84 355.77,350.84 356.12,350.85 356.47,350.85 356.82,350.85 357.17,350.85 357.51,350.85 357.86,350.85 358.21,350.85 358.56,350.85 358.90,350.85 359.25,350.85 359.60,350.85 359.94,350.86 360.29,350.86 360.64,350.86 360.99,350.86 361.33,350.86 361.68,350.86 362.03,350.87 362.38,350.87 362.73,350.87 363.07,350.87 363.42,350.87 363.77,350.88 364.12,350.88 364.46,350.88 364.81,350.88 365.16,350.88 365.50,350.89 365.85,350.89 366.20,350.89 366.55,350.90 366.89,350.90 367.24,350.90 367.59,350.90 367.94,350.91 368.28,350.91 368.63,350.91 368.98,350.92 369.33,350.92 369.68,350.92 370.02,350.93 370.37,350.93 370.72,350.93 371.06,350.94 371.41,350.94 371.76,350.94 372.11,350.95 372.45,350.95 372.80,350.96 373.15,350.96 373.50,350.96 373.85,350.97 374.19,350.97 374.54,350.98 374.89,350.98 375.24,350.98 375.58,350.99 375.93,350.99 376.28,351.00 376.62,351.00 376.97,351.01 377.32,351.01 377.67,351.01 378.01,351.02 378.36,351.02 378.71,351.03 379.06,351.03 379.40,351.04 379.75,351.04 380.10,351.05 380.45,351.05 380.80,351.06 381.14,351.06 381.49,351.07 381.84,351.07 382.19,351.08 382.53,351.08 382.88,351.09 383.23,351.09 383.57,351.10 383.92,351.10 384.27,351.11 384.62,351.12 384.97,351.12 385.31,351.13 385.66,351.13 386.01,351.14 386.36,351.14 386.70,351.15 387.05,351.16 387.40,351.16 387.75,351.17 388.09,351.17 388.44,351.18 388.79,351.18 389.13,351.19 389.48,351.20 389.83,351.20 390.18,351.21 390.52,351.21 390.87,351.22 391.22,351.23 391.57,351.23 391.91,351.24 392.26,351.25 392.61,351.25 392.96,351.26 393.31,351.27 393.65,351.27 394.00,351.28 394.35,351.28 394.69,351.29 395.04,351.30 395.39,351.30 395.74,351.31 396.09,351.32 396.43,351.32 396.78,351.33 397.13,351.34 397.48,351.34 397.82,351.35 398.17,351.36 398.52,351.36 398.87,351.37 399.21,351.38 399.56,351.39 399.91,351.39 400.25,351.40 400.60,351.41 400.95,351.41 401.30,351.42 401.64,351.43 401.99,351.43 402.34,351.44 402.69,351.45 403.03,351.46 403.38,351.46 403.73,351.47 404.08,351.48 404.43,351.49 404.77,351.49 405.12,351.50 405.47,351.51 405.81,351.51 406.16,351.52 406.51,351.53 406.86,351.54 407.21,351.54 407.55,351.55 407.90,351.56 408.25,351.57 408.60,351.57 408.94,351.58 409.29,351.59 409.64,351.60 409.99,351.61 410.33,351.61 410.68,351.62 411.03,351.63 411.38,351.64 411.72,351.64 412.07,351.65 412.42,351.66 412.76,351.67 413.11,351.67 413.46,351.68 413.81,351.69 414.15,351.70 414.50,351.71 414.85,351.71 415.20,351.72 415.54,351.73 415.89,351.74 416.24,351.75 416.59,351.75 416.94,351.76 417.28,351.77 417.63,351.78 417.98,351.79 418.32,351.79 418.67,351.80 419.02,351.81 419.37,351.82 419.72,351.83 420.06,351.84 420.41,351.84 420.76,351.85 421.11,351.86 421.45,351.87 421.80,351.88 422.15,351.88 422.50,351.89 422.84,351.90 423.19,351.91 423.54,351.92 423.88,351.93 424.23,351.93 424.58,351.94 424.93,351.95 425.27,351.96 425.62,351.97 425.97,351.98 426.32,351.99 426.66,351.99 427.01,352.00 427.36,352.01 427.71,352.02 428.06,352.03 428.40,352.04 428.75,352.04 429.10,352.05 429.44,352.06 429.79,352.07 430.14,352.08 430.49,352.09 430.84,352.10 431.18,352.11 431.53,352.11 431.88,352.12 432.23,352.13 432.57,352.14 432.92,352.15 433.27,352.16 433.62,352.17 433.96,352.17 434.31,352.18 434.66,352.19 435.00,352.20 435.35,352.21 435.70,352.22 436.05,352.23 436.39,352.24 436.74,352.24 437.09,352.25 437.44,352.26 437.78,352.27 438.13,352.28 438.48,352.29 438.83,352.30 439.18,352.31 439.52,352.31 439.87,352.32 440.22,352.33 440.56,352.34 440.91,352.35 441.26,352.36 441.61,352.37 441.96,352.38 442.30,352.39 442.65,352.39 443.00,352.40 443.35,352.41 443.69,352.42 444.04,352.43 444.39,352.44 444.74,352.45 445.08,352.46 445.43,352.47 445.78,352.48 446.12,352.48 446.47,352.49 446.82,352.50 447.17,352.51 447.51,352.52 447.86,352.53 448.21,352.54 448.56,352.55 448.90,352.56 449.25,352.57 449.60,352.57 449.95,352.58 450.29,352.59 450.64,352.60 450.99,352.61 451.34,352.62 451.69,352.63 452.03,352.64 452.38,352.65 452.73,352.66 453.07,352.67 453.42,352.67 453.77,352.68 454.12,352.69 454.47,352.70 454.81,352.71 455.16,352.72 455.51,352.73 455.86,352.74 456.20,352.75 456.55,352.76 456.90,352.77 457.25,352.77 457.59,352.78 457.94,352.79 458.29,352.80 458.63,352.81 458.98,352.82 459.33,352.83 459.68,352.84 460.02,352.85 460.37,352.86 460.72,352.87 461.07,352.88 461.41,352.88 461.76,352.89 462.11,352.90 462.46,352.91 462.81,352.92 463.15,352.93 463.50,352.94" fill="none" stroke="#22dd22" stroke-width="1.1"/>
<path d="M255.63 327.56h0M256.26 327.57h0M256.90 327.59h0M257.54 327.61h0M258.18 327.64h0M258.82 327.67h0M259.46 327.72h0M260.10 327.76h0M260.74 327.82h0M261.38 327.88h0M262.02 327.95h0M262.66 328.02h0M263.30 328.10h0M263.94 328.19h0M264.58 328.28h0M265.22 328.38h0M265.86 328.49h0M266.50 328.60h0M267.13 328.72h0M267.77 328.84h0M268.41 328.97h0M269.05 329.11h0M269.69 329.25h0M270.33 329.39h0M270.97 329.54h0M271.61 329.70h0M272.25 329.86h0M272.89 330.03h0M273.53 330.20h0M274.17 330.37h0M274.81 330.55h0M275.45 330.73h0M276.09 330.91h0M276.73 331.10h0M277.37 331.29h0M278.00 331.48h0M278.64 331.68h0M279.28 331.87h0M279.92 332.07h0M280.56 332.27h0M281.20 332.47h0M281.84 332.67h0M282.48 332.87h0M283.12 333.07h0M283.76 333.27h0M284.40 333.48h0M285.04 333.68h0M285.68 333.88h0M286.32 334.08h0M286.96 334.28h0M287.60 334.48h0M288.23 334.68h0M288.87 334.87h0M289.51 335.07h0M290.15 335.26h0M290.79 335.46h0M291.43 335.65h0M292.07 335.84h0M292.71 336.03h0M293.35 336.21h0M293.99 336.40h0M294.63 336.58h0M295.27 336.76h0M295.91 336.94h0M296.55 337.12h0M297.19 337.29h0M297.83 337.46h0M298.47 337.63h0M299.10 337.80h0M299.74 337.97h0M300.38 338.13h0M301.02 338.29h0M301.66 338.45h0M302.30 338.61h0M302.94 338.77h0M303.58 338.92h0M304.22 339.07h0M304.86 339.22h0M305.50 339.36h0M306.14 339.51h0M306.78 339.65h0M307.42 339.79h0M308.06 339.93h0M308.70 340.07h0M309.34 340.20h0M309.97 340.33h0M310.61 340.46h0M311.25 340.59h0M311.89 340.72h0M312.53 340.84h0M313.17 340.96h0M313.81 341.08h0M314.45 341.20h0M315.09 341.32h0M315.73 341.43h0M316.37 341.55h0M317.01 341.66h0M317.65 341.77h0M318.29 341.88h0M318.93 341.99h0M319.57 342.09h0M320.20 342.19h0M320.84 342.30h0M321.48 342.40h0M322.12 342.50h0M322.76 342.59h0M323.40 342.69h0M324.04 342.79h0M324.68 342.88h0M325.32 342.97h0M325.96 343.06h0M326.60 343.15h0M327.24 343.24h0M327.88 343.33h0M328.52 343.41h0M329.16 343.50h0M329.80 343.58h0M330.44 343.67h0M331.07 343.75h0M331.71 343.83h0M332.35 343.91h0M332.99 343.98h0M333.63 344.06h0M334.27 344.14h0M334.91 344.21h0M335.55 344.29h0M336.19 344.36h0M336.83 344.43h0M337.47 344.50h0M338.11 344.57h0M338.75 344.64h0M339.39 344.71h0M340.03 344.78h0M340.67 344.85h0M341.31 344.91h0M341.94 344.98h0M342.58 345.04h0M343.22 345.11h0M343.86 345.17h0M344.50 345.23h0M345.14 345.30h0M345.78 345.36h0M346.42 345.42h0M347.06 345.48h0M347.70 345.54h0M348.34 345.59h0M348.98 345.65h0M349.62 345.71h0M350.26 345.77h0M350.90 345.82h0M351.54 345.88h0M352.17 345.93h0M352.81 345.99h0M353.45 346.04h0M354.09 346.09h0M354.73 346.15h0M355.37 346.20h0M356.01 346.25h0M356.65 346.30h0M357.29 346.35h0M357.93 346.40h0M358.57 346.45h0M359.21 346.50h0M359.85 346.55h0M360.49 346.60h0M361.13 346.65h0M361.77 346.69h0M362.41 346.74h0M363.04 346.79h0M363.68 346.83h0M364.32 346.88h0M364.96 346.93h0M365.60 346.97h0M366.24 347.02h0M366.88 347.06h0M367.52 347.10h0M368.16 347.15h0M368.80 347.19h0M369.44 347.23h0M370.08 347.28h0M370.72 347.32h0M371.36 347.36h0M372.00 347.40h0M372.64 347.45h0M373.28 347.49h0M373.91 347.53h0M374.55 347.57h0M375.19 347.61h0M375.83 347.65h0M376.47 347.69h0M377.11 347.73h0M377.75 347.77h0M378.39 347.81h0M379.03 347.85h0M379.67 347.88h0M380.31 347.92h0M380.95 347.96h0M381.59 348.00h0M382.23 348.04h0M382.87 348.07h0M383.51 348.11h0M384.14 348.15h0M384.78 348.18h0M385.42 348.22h0M386.06 348.26h0M386.70 348.29h0M387.34 348.33h0M387.98 348.37h0M388.62 348.40h0M389.26 348.44h0M389.90 348.47h0M390.54 348.51h0M391.18 348.54h0M391.82 348.58h0M392.46 348.61h0M393.10 348.64h0M393.74 348.68h0M394.38 348.71h0M395.01 348.75h0M395.65 348.78h0M396.29 348.81h0M396.93 348.85h0M397.57 348.88h0M398.21 348.91h0M398.85 348.95h0M399.49 348.98h0M400.13 349.01h0M400.77 349.04h0M401.41 349.08h0M402.05 349.11h0M402.69 349.14h0M403.33 349.17h0M403.97 349.20h0M404.61 349.24h0M405.25 349.27h0M405.88 349.30h0M406.52 349.33h0M407.16 349.36h0M407.80 349.39h0M408.44 349.42h0M409.08 349.45h0M409.72 349.48h0M410.36 349.51h0M411.00 349.54h0M411.64 349.57h0M412.28 349.60h0M412.92 349.63h0M413.56 349.66h0M414.20 349.69h0M414.84 349.72h0M415.48 349.75h0M416.11 349.78h0M416.75 349.81h0M417.39 349.84h0M418.03 349.87h0M418.67 349.90h0M419.31 349.93h0M419.95 349.96h0M420.59 349.99h0M421.23 350.02h0M421.87 350.04h0M422.51 350.07h0M423.15 350.10h0M423.79 350.13h0M424.43 350.16h0M425.07 350.19h0M425.71 350.21h0M426.35 350.24h0M426.98 350.27h0M427.62 350.30h0M428.26 350.32h0M428.90 350.35h0M429.54 350.38h0M430.18 350.41h0M430.82 350.43h0M431.46 350.46h0M432.10 350.49h0M432.74 350.52h0M433.38 350.54h0M434.02 350.57h0M434.66 350.60h0M435.30 350.62h0M435.94 350.65h0M436.58 350.68h0M437.22 350.70h0M437.85 350.73h0M438.49 350.76h0M439.13 350.78h0M439.77 350.81h0M440.41 350.84h0M441.05 350.86h0M441.69 350.89h0M442.33 350.92h0M442.97 350.94h0M443.61 350.97h0M444.25 350.99h0M444.89 351.02h0M445.53 351.04h0M446.17 351.07h0M446.81 351.10h0M447.45 351.12h0M448.08 351.15h0M448.72 351.17h0M449.36 351.20h0M450.00 351.22h0M450.64 351.25h0M451.28 351.27h0M451.92 351.30h0M452.56 351.32h0M453.20 351.35h0M453.84 351.37h0M454.48 351.40h0M455.12 351.42h0M455.76 351.45h0M456.40 351.47h0M457.04 351.50h0M457.68 351.52h0M458.32 351.55h0M458.95 351.57h0M459.59 351.59h0M460.23 351.62h0M460.87 351.64h0M461.51 351.67h0M462.15 351.69h0M462.79 351.72h0M463.43 351.74h0" stroke="#000" stroke-width="3.9" stroke-linecap="round" fill="none"/>
<polyline points="255.00,327.56 255.17,327.56 255.35,327.56 255.52,327.56 255.69,327.56 255.87,327.57 256.04,327.57 256.22,327.57 256.39,327.57 256.56,327.58 256.74,327.58 256.91,327.59 257.08,327.59 257.26,327.60 257.43,327.61 257.61,327.61 257.78,327.62 257.95,327.63 258.13,327.64 258.30,327.64 258.48,327.65 258.65,327.66 258.82,327.67 259.00,327.68 259.17,327.70 259.34,327.71 259.52,327.72 259.69,327.73 259.87,327.74 260.04,327.76 260.21,327.77 260.39,327.79 260.56,327.80 260.73,327.82 260.91,327.83 261.08,327.85 261.25,327.87 261.43,327.88 261.60,327.90 261.78,327.92 261.95,327.94 262.12,327.96 262.30,327.98 262.47,328.00 262.64,328.02 262.82,328.04 262.99,328.06 263.17,328.08 263.34,328.11 263.51,328.13 263.69,328.15 263.86,328.18 264.04,328.20 264.21,328.23 264.38,328.25 264.56,328.28 264.73,328.30 264.90,328.33 265.08,328.36 265.25,328.38 265.43,328.41 265.60,328.44 265.77,328.47 265.95,328.50 266.12,328.53 266.29,328.56 266.47,328.59 266.64,328.62 266.81,328.66 266.99,328.69 267.16,328.72 267.34,328.75 267.51,328.79 267.68,328.82 267.86,328.86 268.03,328.89 268.20,328.93 268.38,328.96 268.55,329.00 268.73,329.04 268.90,329.07 269.07,329.11 269.25,329.15 269.42,329.19 269.60,329.22 269.77,329.26 269.94,329.30 270.12,329.34 270.29,329.38 270.46,329.42 270.64,329.46 270.81,329.51 270.99,329.55 271.16,329.59 271.33,329.63 271.51,329.68 271.68,329.72 271.85,329.76 272.03,329.81 272.20,329.85 272.38,329.89 272.55,329.94 272.72,329.98 272.90,330.03 273.07,330.08 273.24,330.12 273.42,330.17 273.59,330.21 273.76,330.26 273.94,330.31 274.11,330.36 274.29,330.40 274.46,330.45 274.63,330.50 274.81,330.55 274.98,330.60 275.15,330.65 275.33,330.70 275.50,330.75 275.68,330.80 275.85,330.85 276.02,330.90 276.20,330.95 276.37,331.00 276.55,331.05 276.72,331.10 276.89,331.15 277.07,331.20 277.24,331.25 277.41,331.30 277.59,331.36 277.76,331.41 277.94,331.46 278.11,331.51 278.28,331.57 278.46,331.62 278.63,331.67 278.80,331.73 278.98,331.78 279.15,331.83 279.32,331.88 279.50,331.94 279.67,331.99 279.85,332.05 280.02,332.10 280.19,332.15 280.37,332.21 280.54,332.26 280.71,332.32 280.89,332.37 281.06,332.42 281.24,332.48 281.41,332.53 281.58,332.59 281.76,332.64 281.93,332.70 282.11,332.75 282.28,332.81 282.45,332.86 282.63,332.92 282.80,332.97 282.97,333.03 283.15,333.08 283.32,333.14 283.50,333.19 283.67,333.24 283.84,333.30 284.02,333.35 284.19,333.41 284.36,333.46 284.54,333.52 284.71,333.57 284.88,333.63 285.06,333.68 285.23,333.74 285.41,333.79 285.58,333.85 285.75,333.90 285.93,333.96 286.10,334.01 286.27,334.07 286.45,334.12 286.62,334.17 286.80,334.23 286.97,334.28 287.14,334.34 287.32,334.39 287.49,334.45 287.67,334.50 287.84,334.55 288.01,334.61 288.19,334.66 288.36,334.72 288.53,334.77 288.71,334.82 288.88,334.88 289.06,334.93 289.23,334.98 289.40,335.04 289.58,335.09 289.75,335.14 289.92,335.19 290.10,335.25 290.27,335.30 290.44,335.35 290.62,335.40 290.79,335.46 290.97,335.51 291.14,335.56 291.31,335.61 291.49,335.67 291.66,335.72 291.83,335.77 292.01,335.82 292.18,335.87 292.36,335.92 292.53,335.97 292.70,336.02 292.88,336.08 293.05,336.13 293.23,336.18 293.40,336.23 293.57,336.28 293.75,336.33 293.92,336.38 294.09,336.43 294.27,336.48 294.44,336.53 294.62,336.58 294.79,336.63 294.96,336.67 295.14,336.72 295.31,336.77 295.48,336.82 295.66,336.87 295.83,336.92 296.00,336.97 296.18,337.01 296.35,337.06 296.53,337.11 296.70,337.16 296.87,337.21 297.05,337.25 297.22,337.30 297.39,337.35 297.57,337.39 297.74,337.44 297.92,337.49 298.09,337.53 298.26,337.58 298.44,337.63 298.61,337.67 298.78,337.72 298.96,337.76 299.13,337.81 299.31,337.85 299.48,337.90 299.65,337.94 299.83,337.99 300.00,338.03 300.18,338.08 300.35,338.12 300.52,338.17 300.70,338.21 300.87,338.25 301.04,338.30 301.22,338.34 301.39,338.39 301.56,338.43 301.74,338.47 301.91,338.51 302.09,338.56 302.26,338.60 302.43,338.64 302.61,338.68 302.78,338.73 302.95,338.77 303.13,338.81 303.30,338.85 303.48,338.89 303.65,338.93 303.82,338.98 304.00,339.02 304.17,339.06 304.35,339.10 304.52,339.14 304.69,339.18 304.87,339.22 305.04,339.26 305.21,339.30 305.39,339.34 305.56,339.38 305.74,339.42 305.91,339.46 306.08,339.50 306.26,339.53 306.43,339.57 306.60,339.61 306.78,339.65 306.95,339.69 307.12,339.73 307.30,339.77 307.47,339.80 307.65,339.84 307.82,339.88 307.99,339.92 308.17,339.95 308.34,339.99 308.51,340.03 308.69,340.06 308.86,340.10 309.04,340.14 309.21,340.17 309.38,340.21 309.56,340.25 309.73,340.28 309.90,340.32 310.08,340.35 310.25,340.39 310.43,340.42 310.60,340.46 310.77,340.49 310.95,340.53 311.12,340.56 311.30,340.60 311.47,340.63 311.64,340.67 311.82,340.70 311.99,340.73 312.16,340.77 312.34,340.80 312.51,340.84 312.69,340.87 312.86,340.90 313.03,340.94 313.21,340.97 313.38,341.00 313.55,341.04 313.73,341.07 313.90,341.10 314.07,341.13 314.25,341.16 314.42,341.20 314.60,341.23 314.77,341.26 314.94,341.29 315.12,341.32 315.29,341.36 315.47,341.39 315.64,341.42 315.81,341.45 315.99,341.48 316.16,341.51 316.33,341.54 316.51,341.57 316.68,341.60 316.86,341.63 317.03,341.66 317.20,341.69 317.38,341.72 317.55,341.75 317.72,341.78 317.90,341.81 318.07,341.84 318.25,341.87 318.42,341.90 318.59,341.93 318.77,341.96 318.94,341.99 319.11,342.02 319.29,342.05 319.46,342.07 319.63,342.10 319.81,342.13 319.98,342.16 320.16,342.19 320.33,342.21 320.50,342.24 320.68,342.27 320.85,342.30 321.02,342.33 321.20,342.35 321.37,342.38 321.55,342.41 321.72,342.43 321.89,342.46 322.07,342.49 322.24,342.52 322.42,342.54 322.59,342.57 322.76,342.59 322.94,342.62 323.11,342.65 323.28,342.67 323.46,342.70 323.63,342.73 323.81,342.75 323.98,342.78 324.15,342.80 324.33,342.83 324.50,342.85 324.67,342.88 324.85,342.90 325.02,342.93 325.19,342.95 325.37,342.98 325.54,343.00 325.72,343.03 325.89,343.05 326.06,343.08 326.24,343.10 326.41,343.13 326.58,343.15 326.76,343.18 326.93,343.20 327.11,343.22 327.28,343.25 327.45,343.27 327.63,343.29 327.80,343.32 327.98,343.34 328.15,343.37 328.32,343.39 328.50,343.41 328.67,343.43 328.84,343.46 329.02,343.48 329.19,343.50 329.37,343.53 329.54,343.55 329.71,343.57 329.89,343.59 330.06,343.62 330.23,343.64 330.41,343.66 330.58,343.68 330.75,343.71 330.93,343.73 331.10,343.75 331.28,343.77 331.45,343.79 331.62,343.82 331.80,343.84 331.97,343.86 332.14,343.88 332.32,343.90 332.49,343.92 332.67,343.94 332.84,343.97 333.01,343.99 333.19,344.01 333.36,344.03 333.53,344.05 333.71,344.07 333.88,344.09 334.06,344.11 334.23,344.13 334.40,344.15 334.58,344.17 334.75,344.19 334.93,344.21 335.10,344.23 335.27,344.25 335.45,344.27 335.62,344.29 335.79,344.31 335.97,344.33 336.14,344.35 336.31,344.37 336.49,344.39 336.66,344.41 336.84,344.43 337.01,344.45 337.18,344.47 337.36,344.49 337.53,344.51 337.70,344.53 337.88,344.55 338.05,344.57 338.23,344.59 338.40,344.61 338.57,344.62 338.75,344.64 338.92,344.66 339.10,344.68 339.27,344.70 339.44,344.72 339.62,344.74 339.79,344.76 339.96,344.77 340.14,344.79 340.31,344.81 340.49,344.83 340.66,344.85 340.83,344.86 341.01,344.88 341.18,344.90 341.35,344.92 341.53,344.94 341.70,344.95 341.88,344.97 342.05,344.99 342.22,345.01 342.40,345.02 342.57,345.04 342.74,345.06 342.92,345.08 343.09,345.09 343.26,345.11 343.44,345.13 343.61,345.15 343.79,345.16 343.96,345.18 344.13,345.20 344.31,345.21 344.48,345.23 344.65,345.25 344.83,345.27 345.00,345.28 345.18,345.30 345.35,345.32 345.52,345.33 345.70,345.35 345.87,345.36 346.05,345.38 346.22,345.40 346.39,345.41 346.57,345.43 346.74,345.45 346.91,345.46 347.09,345.48 347.26,345.49 347.44,345.51 347.61,345.53 347.78,345.54 347.96,345.56 348.13,345.57 348.30,345.59 348.48,345.61 348.65,345.62 348.82,345.64 349.00,345.65 349.17,345.67 349.35,345.68 349.52,345.70 349.69,345.72 349.87,345.73 350.04,345.75 350.22,345.76 350.39,345.78 350.56,345.79 350.74,345.81 350.91,345.82 351.08,345.84 351.26,345.85 351.43,345.87 351.61,345.88 351.78,345.90 351.95,345.91 352.13,345.93 352.30,345.94 352.47,345.96 352.65,345.97 352.82,345.99 353.00,346.00 353.17,346.02 353.34,346.03 353.52,346.04 353.69,346.06 353.86,346.07 354.04,346.09 354.21,346.10 354.38,346.12 354.56,346.13 354.73,346.15 354.91,346.16 355.08,346.17 355.25,346.19 355.43,346.20 355.60,346.22 355.77,346.23 355.95,346.24 356.12,346.26 356.30,346.27 356.47,346.29 356.64,346.30 356.82,346.31 356.99,346.33 357.17,346.34 357.34,346.36 357.51,346.37 357.69,346.38 357.86,346.40 358.03,346.41 358.21,346.42 358.38,346.44 358.56,346.45 358.73,346.46 358.90,346.48 359.08,346.49 359.25,346.50 359.42,346.52 359.60,346.53 359.77,346.54 359.94,346.56 360.12,346.57 360.29,346.58 360.47,346.60 360.64,346.61 360.81,346.62 360.99,346.64 361.16,346.65 361.33,346.66 361.51,346.67 361.68,346.69 361.86,346.70 362.03,346.71 362.20,346.73 362.38,346.74 362.55,346.75 362.73,346.76 362.90,346.78 363.07,346.79 363.25,346.80 363.42,346.81 363.59,346.83 363.77,346.84 363.94,346.85 364.12,346.86 364.29,346.88 364.46,346.89 364.64,346.90 364.81,346.91 364.98,346.93 365.16,346.94 365.33,346.95 365.50,346.96 365.68,346.98 365.85,346.99 366.03,347.00 366.20,347.01 366.37,347.02 366.55,347.04 366.72,347.05 366.89,347.06 367.07,347.07 367.24,347.08 367.42,347.10 367.59,347.11 367.76,347.12 367.94,347.13 368.11,347.14 368.28,347.16 368.46,347.17 368.63,347.18 368.81,347.19 368.98,347.20 369.15,347.22 369.33,347.23 369.50,347.24 369.68,347.25 369.85,347.26 370.02,347.27 370.20,347.29 370.37,347.30 370.54,347.31 370.72,347.32 370.89,347.33 371.06,347.34 371.24,347.35 371.41,347.37 371.59,347.38 371.76,347.39 371.93,347.40 372.11,347.41 372.28,347.42 372.45,347.43 372.63,347.45 372.80,347.46 372.98,347.47 373.15,347.48 373.32,347.49 373.50,347.50 373.67,347.51 373.85,347.52 374.02,347.53 374.19,347.55 374.37,347.56 374.54,347.57 374.71,347.58 374.89,347.59 375.06,347.60 375.24,347.61 375.41,347.62 375.58,347.63 375.76,347.64 375.93,347.66 376.10,347.67 376.28,347.68 376.45,347.69 376.62,347.70 376.80,347.71 376.97,347.72 377.15,347.73 377.32,347.74 377.49,347.75 377.67,347.76 377.84,347.77 378.01,347.78 378.19,347.79 378.36,347.81 378.54,347.82 378.71,347.83 378.88,347.84 379.06,347.85 379.23,347.86 379.40,347.87 379.58,347.88 379.75,347.89 379.93,347.90 380.10,347.91 380.27,347.92 380.45,347.93 380.62,347.94 380.80,347.95 380.97,347.96 381.14,347.97 381.32,347.98 381.49,347.99 381.66,348.00 381.84,348.01 382.01,348.02 382.19,348.03 382.36,348.04 382.53,348.05 382.71,348.06 382.88,348.07 383.05,348.08 383.23,348.09 383.40,348.10 383.57,348.12 383.75,348.13 383.92,348.14 384.10,348.15 384.27,348.16 384.44,348.17 384.62,348.18 384.79,348.19 384.97,348.20 385.14,348.21 385.31,348.22 385.49,348.22 385.66,348.23 385.83,348.24 386.01,348.25 386.18,348.26 386.36,348.27 386.53,348.28 386.70,348.29 386.88,348.30 387.05,348.31 387.22,348.32 387.40,348.33 387.57,348.34 387.75,348.35 387.92,348.36 388.09,348.37 388.27,348.38 388.44,348.39 388.61,348.40 388.79,348.41 388.96,348.42 389.13,348.43 389.31,348.44 389.48,348.45 389.66,348.46 389.83,348.47 390.00,348.48 390.18,348.49 390.35,348.50 390.52,348.51 390.70,348.52 390.87,348.52 391.05,348.53 391.22,348.54 391.39,348.55 391.57,348.56 391.74,348.57 391.91,348.58 392.09,348.59 392.26,348.60 392.44,348.61 392.61,348.62 392.78,348.63 392.96,348.64 393.13,348.65 393.31,348.66 393.48,348.67 393.65,348.67 393.83,348.68 394.00,348.69 394.17,348.70 394.35,348.71 394.52,348.72 394.69,348.73 394.87,348.74 395.04,348.75 395.22,348.76 395.39,348.77 395.56,348.78 395.74,348.78 395.91,348.79 396.09,348.80 396.26,348.81 396.43,348.82 396.61,348.83 396.78,348.84 396.95,348.85 397.13,348.86 397.30,348.87 397.48,348.88 397.65,348.88 397.82,348.89 398.00,348.90 398.17,348.91 398.34,348.92 398.52,348.93 398.69,348.94 398.87,348.95 399.04,348.96 399.21,348.96 399.39,348.97 399.56,348.98 399.73,348.99 399.91,349.00 400.08,349.01 400.25,349.02 400.43,349.03 400.60,349.04 400.78,349.04 400.95,349.05 401.12,349.06 401.30,349.07 401.47,349.08 401.64,349.09 401.82,349.10 401.99,349.11 402.17,349.11 402.34,349.12 402.51,349.13 402.69,349.14 402.86,349.15 403.03,349.16 403.21,349.17 403.38,349.17 403.56,349.18 403.73,349.19 403.90,349.20 404.08,349.21 404.25,349.22 404.43,349.23 404.60,349.23 404.77,349.24 404.95,349.25 405.12,349.26 405.29,349.27 405.47,349.28 405.64,349.29 405.81,349.29 405.99,349.30 406.16,349.31 406.34,349.32 406.51,349.33 406.68,349.34 406.86,349.35 407.03,349.35 407.21,349.36 407.38,349.37 407.55,349.38 407.73,349.39 407.90,349.40 408.07,349.40 408.25,349.41 408.42,349.42 408.60,349.43 408.77,349.44 408.94,349.45 409.12,349.45 409.29,349.46 409.46,349.47 409.64,349.48 409.81,349.49 409.99,349.50 410.16,349.50 410.33,349.51 410.51,349.52 410.68,349.53 410.85,349.54 411.03,349.55 411.20,349.55 411.38,349.56 411.55,349.57 411.72,349.58 411.90,349.59 412.07,349.59 412.24,349.60 412.42,349.61 412.59,349.62 412.76,349.63 412.94,349.64 413.11,349.64 413.29,349.65 413.46,349.66 413.63,349.67 413.81,349.68 413.98,349.68 414.15,349.69 414.33,349.70 414.50,349.71 414.68,349.72 414.85,349.72 415.02,349.73 415.20,349.74 415.37,349.75 415.54,349.76 415.72,349.76 415.89,349.77 416.07,349.78 416.24,349.79 416.41,349.80 416.59,349.80 416.76,349.81 416.94,349.82 417.11,349.83 417.28,349.84 417.46,349.84 417.63,349.85 417.80,349.86 417.98,349.87 418.15,349.88 418.32,349.88 418.50,349.89 418.67,349.90 418.85,349.91 419.02,349.92 419.19,349.92 419.37,349.93 419.54,349.94 419.72,349.95 419.89,349.95 420.06,349.96 420.24,349.97 420.41,349.98 420.58,349.99 420.76,349.99 420.93,350.00 421.11,350.01 421.28,350.02 421.45,350.03 421.63,350.03 421.80,350.04 421.97,350.05 422.15,350.06 422.32,350.06 422.50,350.07 422.67,350.08 422.84,350.09 423.02,350.09 423.19,350.10 423.36,350.11 423.54,350.12 423.71,350.13 423.88,350.13 424.06,350.14 424.23,350.15 424.41,350.16 424.58,350.16 424.75,350.17 424.93,350.18 425.10,350.19 425.27,350.19 425.45,350.20 425.62,350.21 425.80,350.22 425.97,350.23 426.14,350.23 426.32,350.24 426.49,350.25 426.66,350.26 426.84,350.26 427.01,350.27 427.19,350.28 427.36,350.29 427.53,350.29 427.71,350.30 427.88,350.31 428.06,350.32 428.23,350.32 428.40,350.33 428.58,350.34 428.75,350.35 428.92,350.35 429.10,350.36 429.27,350.37 429.44,350.38 429.62,350.38 429.79,350.39 429.97,350.40 430.14,350.41 430.31,350.41 430.49,350.42 430.66,350.43 430.84,350.44 431.01,350.44 431.18,350.45 431.36,350.46 431.53,350.47 431.70,350.47 431.88,350.48 432.05,350.49 432.23,350.49 432.40,350.50 432.57,350.51 432.75,350.52 432.92,350.52 433.09,350.53 433.27,350.54 433.44,350.55 433.62,350.55 433.79,350.56 433.96,350.57 434.14,350.58 434.31,350.58 434.48,350.59 434.66,350.60 434.83,350.60 435.00,350.61 435.18,350.62 435.35,350.63 435.53,350.63 435.70,350.64 435.87,350.65 436.05,350.66 436.22,350.66 436.39,350.67 436.57,350.68 436.74,350.68 436.92,350.69 437.09,350.70 437.26,350.71 437.44,350.71 437.61,350.72 437.78,350.73 437.96,350.74 438.13,350.74 438.31,350.75 438.48,350.76 438.65,350.76 438.83,350.77 439.00,350.78 439.18,350.79 439.35,350.79 439.52,350.80 439.70,350.81 439.87,350.81 440.04,350.82 440.22,350.83 440.39,350.84 440.56,350.84 440.74,350.85 440.91,350.86 441.09,350.86 441.26,350.87 441.43,350.88 441.61,350.89 441.78,350.89 441.96,350.90 442.13,350.91 442.30,350.91 442.48,350.92 442.65,350.93 442.82,350.94 443.00,350.94 443.17,350.95 443.35,350.96 443.52,350.96 443.69,350.97 443.87,350.98 444.04,350.98 444.21,350.99 444.39,351.00 444.56,351.01 444.74,351.01 444.91,351.02 445.08,351.03 445.26,351.03 445.43,351.04 445.60,351.05 445.78,351.05 445.95,351.06 446.12,351.07 446.30,351.08 446.47,351.08 446.65,351.09 446.82,351.10 446.99,351.10 447.17,351.11 447.34,351.12 447.51,351.12 447.69,351.13 447.86,351.14 448.04,351.14 448.21,351.15 448.38,351.16 448.56,351.17 448.73,351.17 448.90,351.18 449.08,351.19 449.25,351.19 449.43,351.20 449.60,351.21 449.77,351.21 449.95,351.22 450.12,351.23 450.29,351.23 450.47,351.24 450.64,351.25 450.82,351.25 450.99,351.26 451.16,351.27 451.34,351.28 451.51,351.28 451.69,351.29 451.86,351.30 452.03,351.30 452.21,351.31 452.38,351.32 452.55,351.32 452.73,351.33 452.90,351.34 453.07,351.34 453.25,351.35 453.42,351.36 453.60,351.36 453.77,351.37 453.94,351.38 454.12,351.38 454.29,351.39 454.47,351.40 454.64,351.40 454.81,351.41 454.99,351.42 455.16,351.42 455.33,351.43 455.51,351.44 455.68,351.44 455.86,351.45 456.03,351.46 456.20,351.46 456.38,351.47 456.55,351.48 456.72,351.48 456.90,351.49 457.07,351.50 457.25,351.50 457.42,351.51 457.59,351.52 457.77,351.52 457.94,351.53 458.11,351.54 458.29,351.54 458.46,351.55 458.63,351.56 458.81,351.56 458.98,351.57 459.16,351.58 459.33,351.58 459.50,351.59 459.68,351.60 459.85,351.60 460.02,351.61 460.20,351.62 460.37,351.62 460.55,351.63 460.72,351.64 460.89,351.64 461.07,351.65 461.24,351.66 461.41,351.66 461.59,351.67 461.76,351.68 461.94,351.68 462.11,351.69 462.28,351.70 462.46,351.70 462.63,351.71 462.81,351.72 462.98,351.72 463.15,351.73 463.33,351.74 463.50,351.74" fill="none" stroke="#ff0000" stroke-width="1.8"/>
</g>
<text x="40.40" y="187.90" font-size="11.50" text-anchor="end" font-family="Liberation Serif" textLength="5.20" lengthAdjust="spacingAndGlyphs" stroke="#000" stroke-width="0.08">0</text>
<text x="40.40" y="152.00" font-size="11.50" text-anchor="end" font-family="Liberation Serif" textLength="5.20" lengthAdjust="spacingAndGlyphs" stroke="#000" stroke-width="0.08">2</text>
<text x="40.40" y="116.10" font-size="11.50" text-anchor="end" font-family="Liberation Serif" textLength="5.20" lengthAdjust="spacingAndGlyphs" stroke="#000" stroke-width="0.08">4</text>
<text x="40.40" y="80.20" font-size="11.50" text-anchor="end" font-family="Liberation Serif" textLength="5.20" lengthAdjust="spacingAndGlyphs" stroke="#000" stroke-width="0.08">6</text>
<text x="40.40" y="44.30" font-size="11.50" text-anchor="end" font-family="Liberation Serif" textLength="5.20" lengthAdjust="spacingAndGlyphs" stroke="#000" stroke-width="0.08">8</text>
<text x="40.40" y="8.40" font-size="11.50" text-anchor="end" font-family="Liberation Serif" textLength="10.40" lengthAdjust="spacingAndGlyphs" stroke="#000" stroke-width="0.08">10</text>
<text x="40.40" y="366.90" font-size="11.50" text-anchor="end" font-family="Liberation Serif" textLength="5.20" lengthAdjust="spacingAndGlyphs" stroke="#000" stroke-width="0.08">0</text>
<text x="40.40" y="331.10" font-size="11.50" text-anchor="end" font-family="Liberation Serif" textLength="5.20" lengthAdjust="spacingAndGlyphs" stroke="#000" stroke-width="0.08">2</text>
<text x="40.40" y="295.30" font-size="11.50" text-anchor="end" font-family="Liberation Serif" textLength="5.20" lengthAdjust="spacingAndGlyphs" stroke="#000" stroke-width="0.08">4</text>
<text x="40.40" y="259.50" font-size="11.50" text-anchor="end" font-family="Liberation Serif" textLength="5.20" lengthAdjust="spacingAndGlyphs" stroke="#000" stroke-width="0.08">6</text>
<text x="40.40" y="223.70" font-size="11.50" text-anchor="end" font-family="Liberation Serif" textLength="5.20" lengthAdjust="spacingAndGlyphs" stroke="#000" stroke-width="0.08">8</text>
<text x="46.50" y="377.40" font-size="11.50" text-anchor="middle" font-family="Liberation Serif" textLength="5.30" lengthAdjust="spacingAndGlyphs" stroke="#000" stroke-width="0.08">0</text>
<text x="116.00" y="377.40" font-size="11.50" text-anchor="middle" font-family="Liberation Serif" textLength="15.90" lengthAdjust="spacingAndGlyphs" stroke="#000" stroke-width="0.08">100</text>
<text x="185.50" y="377.40" font-size="11.50" text-anchor="middle" font-family="Liberation Serif" textLength="15.90" lengthAdjust="spacingAndGlyphs" stroke="#000" stroke-width="0.08">200</text>
<text x="255.00" y="377.40" font-size="11.50" text-anchor="middle" font-family="Liberation Serif" textLength="5.30" lengthAdjust="spacingAndGlyphs" stroke="#000" stroke-width="0.08">0</text>
<text x="324.50" y="377.40" font-size="11.50" text-anchor="middle" font-family="Liberation Serif" textLength="15.90" lengthAdjust="spacingAndGlyphs" stroke="#000" stroke-width="0.08">100</text>
<text x="394.00" y="377.40" font-size="11.50" text-anchor="middle" font-family="Liberation Serif" textLength="15.90" lengthAdjust="spacingAndGlyphs" stroke="#000" stroke-width="0.08">200</text>
<text x="463.50" y="377.40" font-size="11.50" text-anchor="middle" font-family="Liberation Serif" textLength="15.90" lengthAdjust="spacingAndGlyphs" stroke="#000" stroke-width="0.08">300</text>
<text x="533.00" y="198.80" font-size="11.50" text-anchor="middle" font-family="Liberation Serif" textLength="15.90" lengthAdjust="spacingAndGlyphs" stroke="#000" stroke-width="0.08">100</text>
<text x="602.50" y="198.80" font-size="11.50" text-anchor="middle" font-family="Liberation Serif" textLength="15.90" lengthAdjust="spacingAndGlyphs" stroke="#000" stroke-width="0.08">200</text>
<text x="672.00" y="198.80" font-size="11.50" text-anchor="middle" font-family="Liberation Serif" textLength="15.90" lengthAdjust="spacingAndGlyphs" stroke="#000" stroke-width="0.08">300</text>
<text x="150.40" y="399.50" font-size="14.00" text-anchor="middle" font-family="Liberation Serif" textLength="80.8" lengthAdjust="spacingAndGlyphs">Energy (meV)</text>
<text x="359.20" y="399.50" font-size="14.00" text-anchor="middle" font-family="Liberation Serif" textLength="80.8" lengthAdjust="spacingAndGlyphs">Energy (meV)</text>
<text x="571.00" y="210.00" font-size="11.60" text-anchor="middle" font-family="Liberation Serif" textLength="65" lengthAdjust="spacingAndGlyphs" stroke="#000" stroke-width="0.08">Energy (meV)</text>
<g transform="translate(13.6,196.7) rotate(-90)"><text x="0" y="0" font-size="13.6" text-anchor="middle" font-family="Liberation Serif" textLength="103" lengthAdjust="spacing">σ<tspan font-size="8.5" dy="3.5">1</tspan><tspan dy="-3.5">(ω) (10</tspan><tspan font-size="8.5" dy="-6">3</tspan><tspan dy="6"> Ω</tspan><tspan font-size="8.5" dy="-6">−1</tspan><tspan dy="6">cm</tspan><tspan font-size="8.5" dy="-6">−1</tspan><tspan dy="6">)</tspan></text></g>
<text x="61.80" y="26.40" font-size="16.00" text-anchor="start" font-family="Liberation Serif" >(a)</text>
<text x="271.80" y="29.40" font-size="16.00" text-anchor="start" font-family="Liberation Serif" >(b)</text>
<text x="480.20" y="27.90" font-size="16.00" text-anchor="start" font-family="Liberation Serif" >(c)</text>
<text x="62.90" y="211.60" font-size="16.00" text-anchor="start" font-family="Liberation Serif" >(d)</text>
<text x="270.30" y="210.40" font-size="16.00" text-anchor="start" font-family="Liberation Serif" >(e)</text>
<text x="121.40" y="36.70" font-size="15.50" text-anchor="start" font-family="Liberation Serif" textLength="53.8" lengthAdjust="spacingAndGlyphs">With PG</text>
<text x="241.60" y="39.90" font-size="11.60" text-anchor="end" font-family="Liberation Serif"  stroke="#000" stroke-width="0.08"><tspan font-style="italic">T</tspan> = 50 K</text>
<text x="446.40" y="36.90" font-size="11.60" text-anchor="end" font-family="Liberation Serif"  stroke="#000" stroke-width="0.08"><tspan font-style="italic">T</tspan> = 100 K</text>
<text x="658.70" y="36.20" font-size="11.60" text-anchor="end" font-family="Liberation Serif"  stroke="#000" stroke-width="0.08"><tspan font-style="italic">T</tspan> = 150 K</text>
<text x="238.10" y="216.10" font-size="11.60" text-anchor="end" font-family="Liberation Serif"  stroke="#000" stroke-width="0.08"><tspan font-style="italic">T</tspan> = 200 K</text>
<text x="445.60" y="215.90" font-size="11.60" text-anchor="end" font-family="Liberation Serif"  stroke="#000" stroke-width="0.08"><tspan font-style="italic">T</tspan> = 250 K</text>
<path d="M110.9 79.4H130.4" stroke="#000" stroke-width="1"/>
<circle cx="120.3" cy="79.4" r="2.6" fill="#000"/>
<path d="M110.9 89.9H130.4" stroke="#7878ff" stroke-width="1.6"/>
<path d="M110.9 100.2H130.4" stroke="#33dd33" stroke-width="1.1"/>
<path d="M110.9 110.4H130.4" stroke="#ff0000" stroke-width="1.8"/>
<text x="132.60" y="82.50" font-size="8.50" text-anchor="start" font-family="Liberation Sans"  stroke="#000" stroke-width="0.15">Data</text>
<text x="132.60" y="93.00" font-size="8.50" text-anchor="start" font-family="Liberation Sans"  stroke="#000" stroke-width="0.15">Drude</text>
<text x="132.60" y="103.30" font-size="8.50" text-anchor="start" font-family="Liberation Sans"  stroke="#000" stroke-width="0.15">Lorentz (MIR absorption)</text>
<text x="132.60" y="113.50" font-size="8.50" text-anchor="start" font-family="Liberation Sans"  stroke="#000" stroke-width="0.15">Fit</text>
<rect x="508.50" y="215.90" width="163.50" height="146.90" fill="none" stroke="#000" stroke-width="1.2"/>
<path d="M519.40 362.80v-2.40M519.40 215.90v2.40M530.30 362.80v-2.40M530.30 215.90v2.40M541.20 362.80v-2.40M541.20 215.90v2.40M552.10 362.80v-2.40M552.10 215.90v2.40M563.00 362.80v-4.00M563.00 215.90v4.00M573.90 362.80v-2.40M573.90 215.90v2.40M584.80 362.80v-2.40M584.80 215.90v2.40M595.70 362.80v-2.40M595.70 215.90v2.40M606.60 362.80v-2.40M606.60 215.90v2.40M617.50 362.80v-4.00M617.50 215.90v4.00M628.40 362.80v-2.40M628.40 215.90v2.40M639.30 362.80v-2.40M639.30 215.90v2.40M650.20 362.80v-2.40M650.20 215.90v2.40M661.10 362.80v-2.40M661.10 215.90v2.40M508.50 350.90h2.40M508.50 339.00h2.40M508.50 327.10h2.40M508.50 315.20h4.20M508.50 303.30h2.40M508.50 291.40h2.40M508.50 279.50h2.40M508.50 267.60h4.20M508.50 255.70h2.40M508.50 243.80h2.40M508.50 231.90h2.40M508.50 220.00h4.20M672.00 355.44h-2.40M672.00 348.08h-2.40M672.00 340.72h-2.40M672.00 333.36h-2.40M672.00 326.00h-4.20M672.00 318.64h-2.40M672.00 311.28h-2.40M672.00 303.92h-2.40M672.00 296.56h-2.40M672.00 289.20h-4.20M672.00 281.84h-2.40M672.00 274.48h-2.40M672.00 267.12h-2.40M672.00 259.76h-2.40M672.00 252.40h-4.20M672.00 245.04h-2.40M672.00 237.68h-2.40M672.00 230.32h-2.40M672.00 222.96h-2.40" stroke="#000" stroke-width="1.0" fill="none"/>
<text x="508.50" y="375.00" font-size="9.80" text-anchor="middle" font-family="Liberation Serif"  stroke="#000" stroke-width="0.15">0</text>
<text x="563.00" y="375.00" font-size="9.80" text-anchor="middle" font-family="Liberation Serif"  stroke="#000" stroke-width="0.15">100</text>
<text x="617.50" y="375.00" font-size="9.80" text-anchor="middle" font-family="Liberation Serif"  stroke="#000" stroke-width="0.15">200</text>
<text x="672.00" y="375.00" font-size="9.80" text-anchor="middle" font-family="Liberation Serif"  stroke="#000" stroke-width="0.15">300</text>
<text x="504.20" y="366.10" font-size="9.80" text-anchor="end" font-family="Liberation Serif"  stroke="#000" stroke-width="0.15">0</text>
<text x="504.20" y="318.50" font-size="9.80" text-anchor="end" font-family="Liberation Serif"  stroke="#000" stroke-width="0.15">20</text>
<text x="504.20" y="270.90" font-size="9.80" text-anchor="end" font-family="Liberation Serif"  stroke="#000" stroke-width="0.15">40</text>
<text x="504.20" y="223.30" font-size="9.80" text-anchor="end" font-family="Liberation Serif"  stroke="#000" stroke-width="0.15">60</text>
<text x="676.50" y="366.10" font-size="9.80" text-anchor="start" font-family="Liberation Serif"  stroke="#000" stroke-width="0.15">0.0</text>
<text x="676.50" y="329.30" font-size="9.80" text-anchor="start" font-family="Liberation Serif"  stroke="#000" stroke-width="0.15">0.5</text>
<text x="676.50" y="292.50" font-size="9.80" text-anchor="start" font-family="Liberation Serif"  stroke="#000" stroke-width="0.15">1.0</text>
<text x="676.50" y="255.70" font-size="9.80" text-anchor="start" font-family="Liberation Serif"  stroke="#000" stroke-width="0.15">1.5</text>
<text x="676.50" y="218.90" font-size="9.80" text-anchor="start" font-family="Liberation Serif"  stroke="#000" stroke-width="0.15">2.0</text>
<text x="594.10" y="392.50" font-size="12.00" text-anchor="middle" font-family="Liberation Serif" textLength="74.2" lengthAdjust="spacingAndGlyphs" stroke="#000" stroke-width="0.08">Temperature (K)</text>
<g transform="translate(484.3,278.4) rotate(-90)"><text x="0.00" y="0.00" font-size="12.00" text-anchor="middle" font-family="Liberation Serif" textLength="88.7" lengthAdjust="spacingAndGlyphs" stroke="#000" stroke-width="0.08">Drude width (meV)</text></g>
<g transform="translate(704.6,282.2) rotate(-90)"><text x="0" y="0" font-size="12" text-anchor="middle" font-family="Liberation Serif" textLength="69.5" lengthAdjust="spacingAndGlyphs" stroke="#000" stroke-width="0.08"><tspan font-style="italic" font-size="13.5">Ω</tspan><tspan font-size="7.5" dy="3">Dp</tspan><tspan dy="-3"> or </tspan><tspan font-style="italic" font-size="13.5">Ω</tspan><tspan font-size="7.5" dy="3">Lp</tspan><tspan dy="-3"> (eV)</tspan></text></g>
<text x="515.30" y="235.00" font-size="13.50" text-anchor="start" font-family="Liberation Serif" >(f)</text>
<polyline points="535.50,294.50 562.70,293.90 589.90,291.50 617.30,292.50 644.70,295.90" fill="none" stroke="#000" stroke-width="0.9"/>
<polyline points="535.50,240.30 562.70,241.90 589.90,244.10 617.30,245.80 644.70,244.90" fill="none" stroke="#0000ff" stroke-width="0.9"/>
<polyline points="535.50,356.20 562.60,330.80 589.90,291.90 617.30,251.20 644.70,229.40" fill="none" stroke="#ff0000" stroke-width="1.0"/>
<rect x="532.80" y="291.80" width="5.4" height="5.4" fill="#000"/>
<rect x="560.00" y="291.20" width="5.4" height="5.4" fill="#000"/>
<rect x="587.20" y="288.80" width="5.4" height="5.4" fill="#000"/>
<rect x="614.60" y="289.80" width="5.4" height="5.4" fill="#000"/>
<rect x="642.00" y="293.20" width="5.4" height="5.4" fill="#000"/>
<path d="M535.50 237.00l3.5 5.8h-7z" fill="#0000ff"/>
<path d="M562.70 238.60l3.5 5.8h-7z" fill="#0000ff"/>
<path d="M589.90 240.80l3.5 5.8h-7z" fill="#0000ff"/>
<path d="M617.30 242.50l3.5 5.8h-7z" fill="#0000ff"/>
<path d="M644.70 241.60l3.5 5.8h-7z" fill="#0000ff"/>
<circle cx="535.50" cy="356.20" r="3.0" fill="#ff0000"/>
<circle cx="562.60" cy="330.80" r="3.0" fill="#ff0000"/>
<circle cx="589.90" cy="291.90" r="3.0" fill="#ff0000"/>
<circle cx="617.30" cy="251.20" r="3.0" fill="#ff0000"/>
<circle cx="644.70" cy="229.40" r="3.0" fill="#ff0000"/>
<path d="M514.8 312.4H530.4" stroke="#ff0000" stroke-width="1"/>
<circle cx="522.4" cy="312.4" r="2.4" fill="#ff0000"/>
<text x="532.00" y="314.80" font-size="7.40" text-anchor="start" font-family="Liberation Serif" textLength="33.6" lengthAdjust="spacingAndGlyphs" stroke="#000" stroke-width="0.25">Drude width</text>
<path d="M618 265.5H633.6" stroke="#0000ff" stroke-width="1"/>
<path d="M625.9 262.2l3.1 5.2h-6.2z" fill="#0000ff"/>
<text x="635.4" y="267.9" font-size="7.3" font-family="Liberation Serif" stroke="#000" stroke-width="0.25" textLength="31.4" lengthAdjust="spacingAndGlyphs">Lorentz <tspan font-style="italic" font-size="8">Ω</tspan><tspan font-size="5.3" dy="2.6">Lp</tspan></text>
<path d="M618 274.5H633.6" stroke="#000" stroke-width="1"/>
<rect x="624.2" y="272.6" width="4" height="4" fill="#000"/>
<text x="635.4" y="277.0" font-size="7.3" font-family="Liberation Serif" stroke="#000" stroke-width="0.25" textLength="27.9" lengthAdjust="spacingAndGlyphs">Drude <tspan font-style="italic" font-size="8">Ω</tspan><tspan font-size="5.3" dy="2.6">Dp</tspan></text>
<text x="582.40" y="340.70" font-size="7.20" text-anchor="start" font-family="Liberation Serif" textLength="81.7" lengthAdjust="spacingAndGlyphs" stroke="#000" stroke-width="0.25">Lorentz center freq.: 143 meV</text>
<text x="582.40" y="348.80" font-size="7.20" text-anchor="start" font-family="Liberation Serif" textLength="67" lengthAdjust="spacingAndGlyphs" stroke="#000" stroke-width="0.25">Lorentz width:&#160; 508 meV</text>
<path d="M550.70 330.30H537.80" stroke="#ff0000" stroke-width="1.4"/><path d="M533.80 330.30L538.80 328.40L537.55 330.30L538.80 332.20z" fill="#ff0000"/>
<path d="M644.50 252.50H657.80" stroke="#0000ff" stroke-width="1.4"/><path d="M661.80 252.50L656.80 250.60L658.05 252.50L656.80 254.40z" fill="#0000ff"/>
<path d="M642.20 305.20H655.60" stroke="#000000" stroke-width="1.4"/><path d="M659.60 305.20L654.60 303.30L655.85 305.20L654.60 307.10z" fill="#000000"/>
</svg>
</body></html>
